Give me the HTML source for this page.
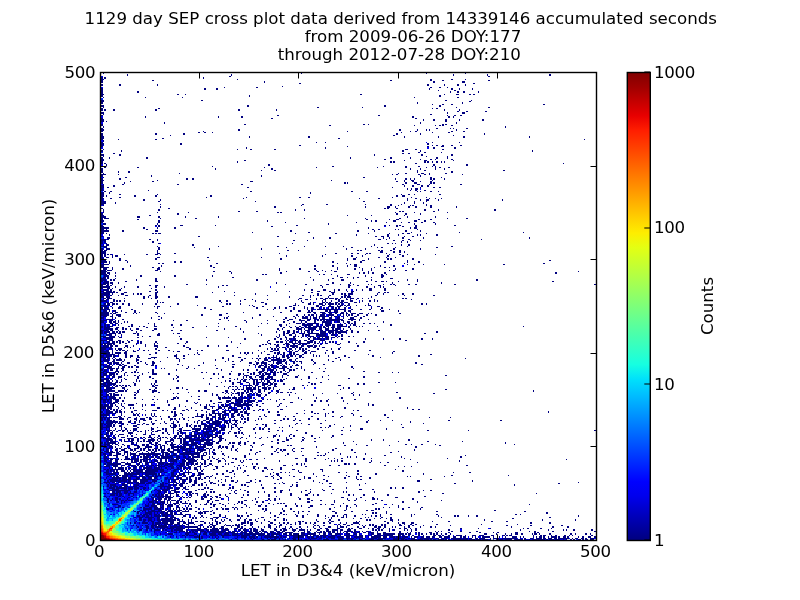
<!DOCTYPE html>
<html><head><meta charset="utf-8"><title>SEP cross plot</title>
<style>html,body{margin:0;padding:0;background:#fff;width:800px;height:600px;overflow:hidden}
#c{position:absolute;left:100px;top:72px}</style></head>
<body>
<svg width="800" height="600" viewBox="0 0 800 600" shape-rendering="crispEdges" style="position:absolute;left:0;top:0"><path fill="#000080" d="M100 72h3v1h-3zM103 73h1v1h-1zM301 73h1v1h-1zM426 73h1v1h-1zM465 73h1v1h-1zM127 74h1v2h-1zM231 74h1v2h-1zM453 74h1v2h-1zM487 74h1v2h-1zM549 74h2v2h-2zM100 76h1v1h-1zM229 76h2v1h-2zM488 76h2v1h-2zM100 77h3v2h-3zM104 77h2v2h-2zM203 77h1v2h-1zM101 79h3v1h-3zM237 79h1v1h-1zM430 79h2v2h-2zM451 79h2v1h-2zM465 79h1v1h-1zM100 80h3v3h-3zM152 80h2v1h-2zM390 80h2v1h-2zM442 80h2v1h-2zM488 80h2v1h-2zM264 81h1v2h-1zM433 81h2v2h-2zM462 81h3v2h-3zM100 83h1v1h-1zM299 83h2v1h-2zM473 83h2v1h-2zM100 84h3v2h-3zM119 84h2v2h-2zM157 84h1v2h-1zM427 84h2v2h-2zM444 84h1v2h-1zM457 84h2v2h-2zM465 84h1v2h-1zM100 86h1v2h-1zM282 86h1v1h-1zM224 87h1v1h-1zM256 87h2v1h-2zM430 87h2v1h-2zM439 87h2v1h-2zM447 87h1v1h-1zM100 88h3v2h-3zM204 88h2v2h-2zM216 88h2v2h-2zM429 88h1v2h-1zM451 88h2v2h-2zM459 88h1v2h-1zM472 88h1v2h-1zM101 90h2v3h-2zM438 90h1v1h-1zM454 90h2v1h-2zM137 91h2v2h-2zM450 91h1v2h-1zM457 91h2v2h-2zM463 91h2v2h-2zM478 91h1v2h-1zM100 93h3v1h-3zM101 94h3v1h-3zM177 94h2v1h-2zM185 94h1v1h-1zM360 94h2v1h-2zM444 94h1v1h-1zM456 94h3v1h-3zM469 94h2v1h-2zM473 94h2v1h-2zM100 95h3v2h-3zM249 95h1v2h-1zM439 95h2v2h-2zM103 97h1v1h-1zM145 97h1v1h-1zM182 97h1v1h-1zM414 97h1v1h-1zM457 97h2v1h-2zM100 100h4v2h-4zM201 100h2v1h-2zM445 100h2v1h-2zM471 100h1v1h-1zM469 101h2v1h-2zM100 102h3v2h-3zM417 102h1v2h-1zM462 102h1v2h-1zM100 104h1v1h-1zM432 104h1v1h-1zM442 104h2v1h-2zM451 104h2v1h-2zM543 104h2v1h-2zM100 105h4v2h-4zM247 105h2v2h-2zM384 105h2v2h-2zM439 105h2v2h-2zM100 107h1v1h-1zM103 107h1v1h-1zM317 107h2v1h-2zM362 107h1v1h-1zM456 107h1v1h-1zM488 107h2v1h-2zM100 108h3v3h-3zM158 108h2v1h-2zM432 108h1v1h-1zM436 108h2v1h-2zM104 109h2v2h-2zM113 109h2v2h-2zM155 109h2v2h-2zM238 109h2v2h-2zM276 109h1v2h-1zM444 109h1v2h-1zM459 109h1v2h-1zM457 111h2v1h-2zM466 111h2v1h-2zM485 111h2v1h-2zM100 112h4v2h-4zM447 112h1v2h-1zM462 112h3v2h-3zM100 114h1v1h-1zM103 114h1v1h-1zM430 114h2v1h-2zM101 115h2v1h-2zM277 115h2v1h-2zM378 115h2v1h-2zM447 115h1v1h-1zM454 115h2v1h-2zM460 115h2v1h-2zM100 116h1v2h-1zM145 116h1v2h-1zM218 116h1v2h-1zM241 116h2v2h-2zM412 116h2v2h-2zM448 116h2v2h-2zM453 116h1v2h-1zM100 118h3v1h-3zM271 118h2v1h-2zM415 118h2v1h-2zM101 119h3v2h-3zM423 119h1v2h-1zM433 119h2v2h-2zM445 119h2v3h-2zM459 119h1v2h-1zM482 119h2v2h-2zM100 121h4v1h-4zM106 121h1v1h-1zM100 122h1v2h-1zM164 122h1v2h-1zM420 122h1v2h-1zM456 122h1v2h-1zM100 124h3v1h-3zM244 124h2v1h-2zM363 124h2v1h-2zM368 124h1v1h-1zM442 124h2v2h-2zM445 124h2v1h-2zM101 125h2v1h-2zM329 125h2v1h-2zM414 125h1v1h-1zM435 125h1v1h-1zM439 125h2v1h-2zM451 125h2v1h-2zM100 126h1v2h-1zM103 126h1v2h-1zM505 126h1v2h-1zM100 128h3v1h-3zM436 128h2v1h-2zM450 128h1v1h-1zM453 128h1v1h-1zM466 128h2v1h-2zM100 129h4v2h-4zM238 129h2v2h-2zM399 129h2v2h-2zM417 129h1v2h-1zM426 129h1v2h-1zM429 129h1v2h-1zM456 129h1v2h-1zM100 131h3v1h-3zM203 131h1v1h-1zM347 131h1v1h-1zM410 131h1v1h-1zM415 131h2v1h-2zM451 131h2v1h-2zM463 131h2v1h-2zM100 132h1v1h-1zM198 132h2v1h-2zM204 132h2v1h-2zM212 132h1v1h-1zM401 132h1v1h-1zM432 132h1v1h-1zM448 132h2v1h-2zM100 133h3v3h-3zM155 133h2v2h-2zM183 133h2v2h-2zM396 133h2v2h-2zM420 133h1v2h-1zM484 133h1v2h-1zM170 135h1v1h-1zM393 135h2v1h-2zM453 135h1v1h-1zM101 136h3v2h-3zM249 136h1v2h-1zM308 136h2v2h-2zM404 136h1v2h-1zM438 136h1v2h-1zM463 136h2v2h-2zM529 136h1v2h-1zM100 138h4v1h-4zM162 138h2v1h-2zM338 138h2v1h-2zM100 139h3v1h-3zM118 139h1v1h-1zM155 139h2v1h-2zM584 139h1v1h-1zM100 140h1v2h-1zM103 140h1v2h-1zM100 142h3v1h-3zM316 142h1v1h-1zM325 142h1v1h-1zM432 142h1v1h-1zM459 142h1v1h-1zM100 143h4v2h-4zM180 143h2v2h-2zM427 143h2v2h-2zM101 145h2v1h-2zM299 145h2v1h-2zM432 145h1v1h-1zM436 145h2v1h-2zM442 145h2v1h-2zM451 145h2v1h-2zM460 145h2v1h-2zM100 146h3v1h-3zM347 146h1v1h-1zM427 146h2v1h-2zM441 146h3v1h-3zM246 147h1v2h-1zM325 147h1v2h-1zM433 147h2v2h-2zM454 147h2v2h-2zM103 149h1v1h-1zM237 149h1v1h-1zM250 149h2v1h-2zM274 149h2v1h-2zM405 149h3v1h-3zM415 149h2v1h-2zM442 149h2v1h-2zM100 150h3v2h-3zM121 150h1v2h-1zM402 150h2v2h-2zM420 150h1v2h-1zM532 150h1v2h-1zM100 152h1v1h-1zM418 152h2v1h-2zM424 152h2v1h-2zM441 152h1v1h-1zM113 153h2v1h-2zM402 153h2v1h-2zM408 153h2v1h-2zM100 154h4v2h-4zM119 154h2v2h-2zM374 154h1v2h-1zM421 154h2v2h-2zM451 154h2v2h-2zM100 156h1v1h-1zM103 156h1v1h-1zM426 156h1v1h-1zM447 156h1v3h-1zM100 157h3v2h-3zM109 157h1v2h-1zM146 157h2v2h-2zM350 157h1v2h-1zM390 157h2v2h-2zM410 157h1v2h-1zM436 157h2v2h-2zM101 159h3v1h-3zM384 159h2v1h-2zM420 159h1v1h-1zM430 159h2v1h-2zM435 159h1v1h-1zM451 159h2v1h-2zM100 160h4v1h-4zM244 160h2v1h-2zM404 160h1v1h-1zM424 160h3v1h-3zM453 160h1v1h-1zM100 161h3v3h-3zM237 161h1v2h-1zM390 161h2v2h-2zM393 161h2v2h-2zM424 161h2v2h-2zM427 161h2v2h-2zM432 161h1v2h-1zM436 161h2v2h-2zM441 161h1v2h-1zM444 161h1v2h-1zM104 163h2v1h-2zM415 163h2v1h-2zM563 163h1v1h-1zM106 164h1v2h-1zM268 164h2v2h-2zM433 164h2v2h-2zM466 164h2v2h-2zM100 166h1v2h-1zM212 166h1v1h-1zM332 166h2v1h-2zM383 166h1v1h-1zM405 166h2v2h-2zM418 166h2v1h-2zM432 166h1v1h-1zM435 166h1v4h-1zM104 167h2v1h-2zM137 167h2v1h-2zM264 167h1v1h-1zM316 167h1v1h-1zM377 167h1v1h-1zM426 167h1v1h-1zM439 167h2v1h-2zM448 167h2v1h-2zM100 168h3v2h-3zM215 168h1v2h-1zM271 168h2v2h-2zM410 168h1v2h-1zM420 168h1v2h-1zM444 168h1v2h-1zM101 170h2v1h-2zM261 170h1v1h-1zM274 170h2v1h-2zM417 170h1v3h-1zM424 170h2v1h-2zM503 170h2v1h-2zM100 171h3v2h-3zM118 171h1v2h-1zM128 171h2v2h-2zM451 171h2v2h-2zM103 173h1v1h-1zM179 173h1v1h-1zM398 173h1v1h-1zM405 173h2v1h-2zM421 173h3v1h-3zM429 173h1v2h-1zM445 173h2v1h-2zM100 174h6v1h-6zM118 174h1v1h-1zM392 174h1v1h-1zM396 174h2v1h-2zM418 174h2v1h-2zM424 174h2v1h-2zM462 174h1v1h-1zM100 175h3v2h-3zM151 175h1v2h-1zM261 175h1v2h-1zM420 175h1v2h-1zM103 177h1v1h-1zM125 177h2v1h-2zM363 177h2v1h-2zM430 177h2v3h-2zM441 177h1v1h-1zM101 178h2v2h-2zM119 178h2v2h-2zM186 178h2v2h-2zM192 178h2v2h-2zM395 178h1v2h-1zM405 178h2v2h-2zM410 178h1v2h-1zM414 178h1v2h-1zM433 178h2v2h-2zM444 178h1v2h-1zM100 180h4v1h-4zM157 180h1v1h-1zM331 180h1v1h-1zM404 180h1v2h-1zM411 180h3v1h-3zM432 180h1v1h-1zM100 181h3v3h-3zM130 181h1v1h-1zM152 181h2v1h-2zM250 181h3v1h-3zM396 181h2v1h-2zM412 181h2v1h-2zM420 181h1v1h-1zM430 181h2v3h-2zM124 182h1v2h-1zM344 182h2v2h-2zM347 182h1v2h-1zM405 182h2v2h-2zM414 182h3v2h-3zM433 182h2v2h-2zM100 184h1v1h-1zM103 184h1v1h-1zM122 184h2v1h-2zM177 184h2v1h-2zM241 184h2v1h-2zM402 184h2v1h-2zM417 184h3v1h-3zM429 184h1v1h-1zM460 184h2v1h-2zM100 185h4v3h-4zM113 185h2v2h-2zM404 185h1v2h-1zM412 185h2v2h-2zM421 185h2v2h-2zM427 185h2v2h-2zM107 187h2v1h-2zM247 187h2v1h-2zM392 187h1v1h-1zM420 187h1v1h-1zM433 187h2v1h-2zM439 187h2v1h-2zM101 188h2v2h-2zM407 188h1v2h-1zM411 188h1v2h-1zM415 188h3v2h-3zM100 190h4v1h-4zM148 190h1v1h-1zM410 190h1v1h-1zM415 190h2v1h-2zM424 190h2v1h-2zM100 191h1v1h-1zM104 191h2v1h-2zM110 191h2v1h-2zM250 191h2v1h-2zM351 191h2v1h-2zM366 191h2v1h-2zM417 191h1v1h-1zM420 191h1v1h-1zM430 191h2v1h-2zM438 191h1v1h-1zM101 192h3v2h-3zM109 192h1v2h-1zM310 192h1v2h-1zM100 194h4v3h-4zM119 194h2v1h-2zM157 194h1v1h-1zM401 194h1v1h-1zM408 194h2v1h-2zM414 194h1v1h-1zM439 194h2v1h-2zM106 195h1v2h-1zM134 195h2v2h-2zM155 195h2v2h-2zM210 195h2v2h-2zM396 195h2v2h-2zM402 195h3v2h-3zM100 197h3v1h-3zM119 197h2v1h-2zM206 197h1v1h-1zM246 197h1v1h-1zM299 197h2v1h-2zM308 197h2v1h-2zM392 197h1v1h-1zM411 197h1v1h-1zM426 197h1v1h-1zM101 198h3v1h-3zM110 198h2v1h-2zM243 198h1v1h-1zM359 198h1v1h-1zM378 198h2v1h-2zM407 198h1v3h-1zM415 198h2v1h-2zM429 198h1v1h-1zM435 198h1v1h-1zM441 198h1v1h-1zM100 199h3v2h-3zM143 199h2v2h-2zM160 199h1v2h-1zM420 199h1v2h-1zM426 199h3v2h-3zM438 199h1v2h-1zM502 199h1v2h-1zM101 201h5v1h-5zM158 201h2v1h-2zM255 201h1v1h-1zM363 201h2v1h-2zM414 201h1v3h-1zM426 201h1v1h-1zM100 202h6v2h-6zM115 202h1v2h-1zM404 202h1v2h-1zM423 202h1v2h-1zM101 204h3v1h-3zM160 204h1v1h-1zM302 204h2v1h-2zM326 204h2v1h-2zM365 204h1v1h-1zM390 204h2v2h-2zM401 204h1v1h-1zM426 204h1v2h-1zM100 205h1v3h-1zM103 205h1v1h-1zM301 205h1v1h-1zM398 205h1v1h-1zM410 205h1v1h-1zM412 205h2v1h-2zM430 205h2v3h-2zM160 206h1v2h-1zM274 206h2v2h-2zM365 206h1v2h-1zM387 206h3v2h-3zM395 206h1v2h-1zM408 206h2v2h-2zM415 206h2v2h-2zM456 206h1v2h-1zM100 208h3v1h-3zM168 208h2v1h-2zM384 208h2v1h-2zM387 208h2v1h-2zM396 208h2v1h-2zM100 209h1v4h-1zM103 209h1v4h-1zM158 209h2v2h-2zM295 209h1v2h-1zM304 209h1v2h-1zM424 209h2v2h-2zM438 209h1v2h-1zM494 209h2v2h-2zM238 211h2v1h-2zM256 211h2v1h-2zM399 211h2v1h-2zM402 211h2v1h-2zM433 211h2v1h-2zM157 212h1v1h-1zM188 212h1v1h-1zM277 212h2v1h-2zM280 212h2v1h-2zM395 212h1v1h-1zM414 212h1v1h-1zM447 212h1v1h-1zM100 213h3v2h-3zM177 213h2v2h-2zM396 213h2v2h-2zM405 213h2v2h-2zM420 213h1v2h-1zM101 215h3v1h-3zM149 215h2v1h-2zM347 215h1v1h-1zM371 215h1v1h-1zM404 215h1v1h-1zM100 216h6v2h-6zM137 216h3v2h-3zM158 216h2v2h-2zM185 216h1v2h-1zM218 216h1v2h-1zM407 216h1v2h-1zM435 216h1v2h-1zM101 218h2v2h-2zM104 218h5v1h-5zM160 218h1v1h-1zM195 218h2v1h-2zM304 218h1v1h-1zM365 218h1v1h-1zM399 218h2v1h-2zM447 218h1v1h-1zM466 218h2v1h-2zM137 219h2v1h-2zM366 219h2v1h-2zM389 219h1v1h-1zM396 219h3v1h-3zM418 219h2v1h-2zM430 219h2v1h-2zM101 220h3v2h-3zM158 220h2v3h-2zM267 220h1v2h-1zM371 220h1v2h-1zM375 220h2v2h-2zM393 220h3v2h-3zM414 220h3v2h-3zM424 220h2v2h-2zM100 222h3v1h-3zM285 222h1v1h-1zM356 222h1v1h-1zM386 222h1v1h-1zM401 222h1v1h-1zM408 222h2v1h-2zM421 222h2v1h-2zM433 222h2v1h-2zM100 223h1v2h-1zM103 223h3v2h-3zM157 223h1v2h-1zM328 223h1v2h-1zM414 223h1v2h-1zM435 223h1v2h-1zM101 225h2v1h-2zM155 225h2v1h-2zM158 225h2v2h-2zM180 225h3v1h-3zM215 225h1v1h-1zM296 225h2v1h-2zM384 225h2v1h-2zM389 225h1v1h-1zM396 225h2v2h-2zM399 225h2v1h-2zM415 225h2v2h-2zM454 225h2v1h-2zM100 226h4v1h-4zM271 226h2v1h-2zM402 226h2v1h-2zM101 227h8v2h-8zM143 227h2v2h-2zM157 227h1v2h-1zM174 227h2v2h-2zM368 227h1v2h-1zM410 227h1v2h-1zM414 227h3v2h-3zM101 229h3v1h-3zM106 229h1v1h-1zM146 229h2v1h-2zM372 229h2v1h-2zM378 229h2v1h-2zM395 229h1v1h-1zM398 229h1v1h-1zM417 229h1v1h-1zM100 230h9v2h-9zM122 230h2v2h-2zM155 230h3v2h-3zM290 230h2v2h-2zM357 230h2v2h-2zM374 230h1v2h-1zM405 230h2v2h-2zM420 230h1v2h-1zM100 232h4v2h-4zM252 232h1v1h-1zM308 232h2v1h-2zM411 232h1v1h-1zM459 232h1v1h-1zM523 232h1v1h-1zM106 233h1v1h-1zM152 233h2v1h-2zM155 233h2v1h-2zM158 233h3v1h-3zM295 233h1v1h-1zM335 233h2v1h-2zM368 233h1v1h-1zM389 233h1v1h-1zM402 233h2v1h-2zM407 233h3v1h-3zM426 233h1v1h-1zM109 234h1v2h-1zM356 234h1v2h-1zM387 234h2v3h-2zM398 234h1v2h-1zM417 234h1v2h-1zM420 234h1v2h-1zM436 234h2v2h-2zM100 236h3v1h-3zM198 236h2v1h-2zM277 236h2v1h-2zM375 236h2v1h-2zM381 236h3v1h-3zM404 236h1v1h-1zM412 236h2v1h-2zM100 237h1v2h-1zM107 237h3v2h-3zM313 237h1v2h-1zM329 237h2v2h-2zM383 237h1v2h-1zM389 237h1v2h-1zM402 237h2v2h-2zM423 237h1v2h-1zM529 237h1v2h-1zM100 239h6v2h-6zM107 239h2v1h-2zM149 239h2v1h-2zM157 239h1v2h-1zM378 239h3v1h-3zM386 239h1v1h-1zM408 239h2v1h-2zM481 239h1v1h-1zM293 240h2v1h-2zM307 240h1v1h-1zM393 240h2v1h-2zM402 240h2v1h-2zM410 240h1v1h-1zM420 240h1v1h-1zM100 241h3v2h-3zM104 241h2v2h-2zM152 241h2v2h-2zM401 241h1v2h-1zM407 241h1v2h-1zM101 243h2v1h-2zM106 243h1v1h-1zM158 243h2v1h-2zM292 243h1v1h-1zM387 243h2v1h-2zM392 243h1v1h-1zM395 243h1v1h-1zM100 244h1v2h-1zM103 244h1v2h-1zM106 244h3v2h-3zM192 244h2v2h-2zM374 244h1v2h-1zM401 244h1v2h-1zM408 244h2v2h-2zM100 246h7v1h-7zM157 246h1v1h-1zM218 246h1v1h-1zM277 246h2v1h-2zM304 246h1v1h-1zM325 246h1v1h-1zM343 246h1v1h-1zM371 246h1v1h-1zM407 246h1v1h-1zM451 246h2v1h-2zM104 247h3v1h-3zM158 247h2v3h-2zM194 247h1v1h-1zM286 247h1v1h-1zM351 247h2v1h-2zM377 247h1v1h-1zM381 247h2v1h-2zM395 247h1v1h-1zM436 247h2v1h-2zM100 248h3v3h-3zM106 248h4v2h-4zM209 248h1v2h-1zM261 248h1v2h-1zM346 248h1v2h-1zM365 248h1v2h-1zM393 248h2v2h-2zM420 248h1v2h-1zM104 250h3v1h-3zM157 250h1v3h-1zM287 250h2v1h-2zM298 250h1v1h-1zM357 250h2v1h-2zM360 250h2v1h-2zM378 250h2v1h-2zM381 250h2v1h-2zM390 250h2v1h-2zM399 250h2v3h-2zM100 251h6v2h-6zM380 251h3v2h-3zM393 251h2v2h-2zM404 251h1v2h-1zM101 253h5v1h-5zM157 253h3v1h-3zM174 253h2v1h-2zM279 253h1v1h-1zM335 253h2v1h-2zM351 253h2v1h-2zM357 253h2v1h-2zM366 253h2v1h-2zM369 253h2v1h-2zM386 253h1v1h-1zM101 254h2v1h-2zM104 254h2v3h-2zM107 254h2v1h-2zM110 254h2v1h-2zM124 254h1v1h-1zM146 254h2v1h-2zM155 254h3v1h-3zM160 254h1v1h-1zM325 254h1v1h-1zM365 254h1v1h-1zM389 254h1v1h-1zM399 254h2v1h-2zM407 254h1v1h-1zM435 254h1v1h-1zM100 255h3v2h-3zM112 255h1v3h-1zM115 255h3v2h-3zM286 255h1v2h-1zM322 255h1v2h-1zM351 255h2v2h-2zM362 255h1v2h-1zM387 255h2v2h-2zM402 255h2v2h-2zM101 257h2v1h-2zM106 257h3v1h-3zM157 257h3v1h-3zM207 257h2v1h-2zM261 257h1v1h-1zM356 257h1v1h-1zM378 257h2v1h-2zM386 257h1v1h-1zM395 257h1v1h-1zM100 258h4v2h-4zM119 258h2v3h-2zM155 258h2v2h-2zM280 258h2v2h-2zM347 258h1v3h-1zM353 258h3v2h-3zM368 258h1v2h-1zM387 258h2v2h-2zM390 258h2v2h-2zM412 258h2v2h-2zM101 260h5v1h-5zM125 260h2v1h-2zM209 260h1v1h-1zM362 260h3v1h-3zM407 260h1v3h-1zM549 260h2v1h-2zM100 261h7v2h-7zM109 261h1v3h-1zM127 261h1v2h-1zM174 261h2v2h-2zM180 261h2v2h-2zM332 261h2v2h-2zM360 261h2v2h-2zM384 261h2v2h-2zM418 261h2v2h-2zM103 263h1v1h-1zM158 263h2v1h-2zM162 263h2v1h-2zM216 263h2v1h-2zM337 263h1v1h-1zM346 263h1v1h-1zM404 263h1v1h-1zM543 263h2v1h-2zM101 264h8v1h-8zM350 264h1v1h-1zM354 264h3v3h-3zM407 264h1v1h-1zM414 264h1v1h-1zM423 264h1v1h-1zM444 264h1v1h-1zM503 264h2v1h-2zM100 265h4v2h-4zM130 265h1v2h-1zM161 265h1v2h-1zM210 265h2v2h-2zM314 265h2v2h-2zM332 265h2v2h-2zM347 265h1v2h-1zM380 265h1v2h-1zM393 265h2v2h-2zM101 267h8v1h-8zM112 267h1v3h-1zM152 267h2v1h-2zM158 267h2v1h-2zM213 267h2v1h-2zM337 267h1v3h-1zM359 267h1v1h-1zM374 267h1v1h-1zM384 267h2v1h-2zM389 267h1v1h-1zM100 268h1v2h-1zM103 268h4v2h-4zM122 268h2v2h-2zM157 268h3v2h-3zM279 268h1v3h-1zM299 268h2v2h-2zM314 268h2v2h-2zM354 268h2v2h-2zM362 268h1v3h-1zM371 268h1v3h-1zM395 268h1v2h-1zM412 268h2v2h-2zM100 270h6v1h-6zM107 270h5v1h-5zM155 270h3v1h-3zM316 270h1v1h-1zM322 270h1v1h-1zM331 270h1v1h-1zM389 270h1v1h-1zM393 270h2v1h-2zM405 270h2v1h-2zM101 271h6v1h-6zM160 271h1v1h-1zM213 271h2v1h-2zM229 271h2v1h-2zM286 271h1v1h-1zM308 271h2v1h-2zM317 271h2v1h-2zM325 271h1v1h-1zM334 271h3v1h-3zM368 271h1v3h-1zM578 271h1v1h-1zM101 272h5v2h-5zM107 272h3v2h-3zM115 272h1v2h-1zM231 272h1v2h-1zM280 272h2v2h-2zM359 272h1v2h-1zM363 272h2v2h-2zM372 272h2v2h-2zM384 272h2v2h-2zM555 272h2v2h-2zM100 274h7v1h-7zM109 274h1v1h-1zM262 274h2v1h-2zM265 274h2v1h-2zM319 274h1v1h-1zM323 274h2v1h-2zM331 274h1v1h-1zM347 274h3v1h-3zM381 274h2v1h-2zM386 274h1v1h-1zM100 275h1v2h-1zM104 275h5v2h-5zM115 275h1v2h-1zM140 275h2v2h-2zM174 275h2v2h-2zM212 275h1v2h-1zM337 275h1v2h-1zM365 275h1v2h-1zM381 275h3v2h-3zM103 277h3v1h-3zM107 277h2v2h-2zM232 277h2v1h-2zM310 277h1v1h-1zM340 277h3v1h-3zM347 277h1v1h-1zM353 277h1v2h-1zM357 277h2v1h-2zM371 277h1v1h-1zM381 277h2v1h-2zM101 278h5v3h-5zM115 278h1v1h-1zM155 278h2v3h-2zM332 278h2v1h-2zM390 278h3v1h-3zM110 279h2v2h-2zM113 279h2v2h-2zM136 279h1v2h-1zM206 279h1v2h-1zM256 279h2v2h-2zM313 279h1v2h-1zM328 279h1v2h-1zM341 279h3v2h-3zM371 279h1v2h-1zM407 279h1v2h-1zM417 279h1v3h-1zM476 279h2v2h-2zM100 281h3v1h-3zM104 281h5v1h-5zM125 281h2v1h-2zM155 281h3v1h-3zM366 281h2v1h-2zM375 281h2v1h-2zM381 281h3v1h-3zM386 281h1v1h-1zM398 281h1v1h-1zM552 281h2v1h-2zM103 282h6v2h-6zM110 282h3v2h-3zM118 282h1v2h-1zM276 282h1v2h-1zM332 282h2v2h-2zM350 282h1v2h-1zM392 282h1v2h-1zM441 282h1v2h-1zM100 284h6v1h-6zM107 284h2v1h-2zM112 284h1v1h-1zM186 284h2v1h-2zM206 284h1v1h-1zM285 284h1v1h-1zM305 284h2v1h-2zM326 284h3v1h-3zM340 284h1v1h-1zM348 284h2v1h-2zM353 284h1v1h-1zM368 284h1v1h-1zM371 284h1v1h-1zM383 284h1v1h-1zM390 284h2v1h-2zM393 284h2v1h-2zM408 284h2v1h-2zM415 284h2v1h-2zM454 284h2v1h-2zM594 284h2v1h-2zM101 285h2v1h-2zM106 285h3v1h-3zM110 285h2v1h-2zM149 285h2v1h-2zM155 285h3v1h-3zM222 285h2v1h-2zM226 285h2v1h-2zM320 285h2v1h-2zM348 285h3v1h-3zM357 285h2v1h-2zM378 285h3v1h-3zM395 285h1v1h-1zM100 286h10v2h-10zM115 286h1v2h-1zM124 286h1v2h-1zM137 286h2v2h-2zM155 286h2v2h-2zM164 286h1v2h-1zM218 286h1v2h-1zM322 286h1v2h-1zM348 286h2v2h-2zM366 286h2v2h-2zM374 286h1v2h-1zM380 286h1v2h-1zM383 286h1v2h-1zM100 288h3v1h-3zM107 288h3v1h-3zM112 288h1v1h-1zM121 288h1v1h-1zM151 288h1v1h-1zM369 288h3v3h-3zM384 288h2v3h-2zM100 289h1v2h-1zM103 289h6v2h-6zM110 289h2v2h-2zM119 289h2v2h-2zM155 289h2v2h-2zM304 289h1v2h-1zM311 289h2v2h-2zM323 289h3v2h-3zM334 289h1v3h-1zM338 289h2v2h-2zM346 289h1v2h-1zM356 289h1v2h-1zM362 289h1v2h-1zM100 291h4v1h-4zM106 291h6v1h-6zM113 291h2v1h-2zM149 291h2v1h-2zM157 291h1v1h-1zM224 291h1v1h-1zM276 291h1v1h-1zM289 291h1v1h-1zM317 291h3v1h-3zM329 291h2v1h-2zM347 291h1v1h-1zM351 291h3v1h-3zM100 292h1v1h-1zM103 292h12v1h-12zM116 292h2v1h-2zM124 292h3v1h-3zM155 292h3v1h-3zM212 292h1v1h-1zM234 292h1v1h-1zM311 292h2v1h-2zM331 292h4v1h-4zM351 292h2v1h-2zM378 292h2v1h-2zM384 292h2v1h-2zM387 292h2v1h-2zM101 293h9v2h-9zM112 293h1v2h-1zM121 293h3v2h-3zM133 293h1v2h-1zM137 293h2v2h-2zM140 293h2v2h-2zM155 293h2v3h-2zM255 293h1v2h-1zM317 293h2v3h-2zM332 293h2v2h-2zM341 293h2v2h-2zM344 293h2v2h-2zM348 293h5v2h-5zM377 293h1v2h-1zM383 293h1v2h-1zM402 293h2v2h-2zM412 293h2v2h-2zM100 295h3v1h-3zM104 295h5v1h-5zM110 295h2v1h-2zM118 295h1v1h-1zM125 295h3v1h-3zM149 295h2v1h-2zM234 295h1v1h-1zM267 295h1v1h-1zM302 295h2v1h-2zM310 295h1v3h-1zM313 295h1v1h-1zM320 295h2v1h-2zM329 295h2v1h-2zM344 295h3v1h-3zM348 295h2v1h-2zM375 295h2v1h-2zM398 295h1v1h-1zM404 295h1v1h-1zM433 295h2v1h-2zM100 296h4v2h-4zM106 296h4v2h-4zM143 296h2v3h-2zM148 296h1v2h-1zM155 296h3v2h-3zM168 296h2v2h-2zM195 296h3v2h-3zM289 296h1v2h-1zM328 296h1v2h-1zM341 296h2v2h-2zM344 296h2v2h-2zM347 296h4v2h-4zM371 296h1v2h-1zM100 298h1v1h-1zM103 298h3v1h-3zM107 298h5v1h-5zM124 298h1v1h-1zM151 298h1v1h-1zM155 298h2v1h-2zM299 298h3v1h-3zM316 298h1v2h-1zM320 298h3v1h-3zM325 298h3v1h-3zM329 298h5v1h-5zM335 298h3v1h-3zM340 298h1v1h-1zM346 298h1v1h-1zM350 298h4v1h-4zM357 298h2v1h-2zM362 298h1v1h-1zM368 298h1v1h-1zM402 298h2v1h-2zM405 298h2v1h-2zM103 299h1v1h-1zM106 299h3v1h-3zM113 299h2v3h-2zM244 299h2v1h-2zM252 299h1v1h-1zM267 299h1v1h-1zM298 299h1v1h-1zM305 299h3v1h-3zM310 299h1v1h-1zM323 299h3v1h-3zM335 299h2v1h-2zM338 299h2v3h-2zM346 299h2v1h-2zM350 299h1v1h-1zM356 299h1v1h-1zM374 299h1v3h-1zM411 299h1v1h-1zM100 300h7v2h-7zM116 300h2v2h-2zM119 300h2v2h-2zM124 300h1v2h-1zM157 300h1v3h-1zM219 300h2v2h-2zM226 300h2v2h-2zM240 300h1v2h-1zM255 300h1v2h-1zM301 300h1v2h-1zM322 300h1v2h-1zM325 300h1v2h-1zM331 300h1v2h-1zM341 300h3v2h-3zM350 300h3v2h-3zM362 300h1v2h-1zM369 300h2v2h-2zM377 300h1v2h-1zM100 302h1v3h-1zM106 302h3v1h-3zM110 302h3v1h-3zM160 302h1v1h-1zM162 302h2v1h-2zM221 302h1v1h-1zM261 302h3v1h-3zM302 302h2v1h-2zM310 302h1v1h-1zM313 302h1v3h-1zM322 302h3v1h-3zM326 302h2v1h-2zM329 302h2v1h-2zM335 302h3v1h-3zM340 302h3v1h-3zM344 302h4v1h-4zM354 302h3v1h-3zM359 302h1v1h-1zM104 303h2v2h-2zM107 303h3v2h-3zM112 303h3v2h-3zM116 303h2v2h-2zM122 303h2v2h-2zM128 303h2v3h-2zM142 303h1v2h-1zM155 303h2v2h-2zM177 303h2v2h-2zM226 303h2v2h-2zM229 303h2v2h-2zM240 303h1v2h-1zM265 303h2v2h-2zM295 303h1v2h-1zM308 303h3v2h-3zM319 303h4v2h-4zM325 303h1v2h-1zM328 303h6v2h-6zM335 303h2v2h-2zM338 303h2v2h-2zM341 303h2v2h-2zM348 303h2v2h-2zM368 303h1v2h-1zM421 303h2v2h-2zM426 303h1v2h-1zM101 305h9v1h-9zM112 305h1v1h-1zM197 305h1v1h-1zM249 305h1v1h-1zM252 305h1v1h-1zM293 305h3v1h-3zM298 305h1v1h-1zM316 305h3v2h-3zM322 305h3v1h-3zM329 305h2v1h-2zM337 305h1v1h-1zM340 305h3v1h-3zM344 305h2v1h-2zM347 305h3v1h-3zM356 305h1v1h-1zM365 305h1v1h-1zM368 305h3v1h-3zM100 306h1v1h-1zM103 306h4v1h-4zM119 306h2v1h-2zM154 306h1v1h-1zM157 306h3v1h-3zM170 306h1v1h-1zM222 306h2v1h-2zM253 306h2v1h-2zM262 306h2v1h-2zM279 306h1v3h-1zM289 306h3v1h-3zM304 306h1v3h-1zM320 306h2v1h-2zM328 306h6v1h-6zM337 306h4v1h-4zM346 306h1v1h-1zM350 306h1v3h-1zM377 306h3v1h-3zM101 307h2v2h-2zM104 307h5v2h-5zM112 307h1v2h-1zM118 307h3v2h-3zM157 307h1v2h-1zM204 307h2v2h-2zM256 307h2v2h-2zM274 307h2v2h-2zM285 307h2v2h-2zM293 307h2v3h-2zM307 307h1v3h-1zM311 307h3v3h-3zM319 307h1v2h-1zM323 307h2v2h-2zM328 307h1v2h-1zM332 307h2v2h-2zM335 307h2v2h-2zM338 307h2v2h-2zM344 307h2v2h-2zM371 307h1v2h-1zM381 307h2v2h-2zM100 309h6v1h-6zM107 309h3v1h-3zM131 309h2v1h-2zM210 309h2v1h-2zM267 309h1v1h-1zM273 309h1v1h-1zM317 309h21v1h-21zM340 309h6v1h-6zM351 309h2v1h-2zM360 309h2v1h-2zM369 309h2v1h-2zM380 309h1v1h-1zM389 309h1v1h-1zM103 310h4v2h-4zM109 310h1v2h-1zM113 310h3v2h-3zM121 310h1v2h-1zM134 310h2v3h-2zM290 310h2v2h-2zM298 310h3v2h-3zM308 310h2v2h-2zM311 310h2v2h-2zM325 310h3v2h-3zM329 310h2v2h-2zM334 310h4v3h-4zM344 310h2v2h-2zM348 310h3v2h-3zM381 310h3v2h-3zM398 310h1v2h-1zM101 312h8v1h-8zM112 312h1v1h-1zM115 312h3v1h-3zM125 312h2v1h-2zM139 312h1v1h-1zM155 312h2v1h-2zM243 312h1v1h-1zM280 312h2v1h-2zM307 312h4v1h-4zM313 312h3v1h-3zM320 312h5v1h-5zM328 312h4v1h-4zM341 312h3v1h-3zM346 312h1v1h-1zM350 312h1v1h-1zM100 313h9v1h-9zM110 313h2v1h-2zM113 313h3v1h-3zM133 313h1v1h-1zM136 313h1v1h-1zM157 313h1v1h-1zM164 313h1v1h-1zM226 313h2v1h-2zM314 313h2v1h-2zM322 313h3v1h-3zM329 313h3v1h-3zM335 313h2v1h-2zM340 313h4v1h-4zM346 313h2v1h-2zM351 313h5v1h-5zM359 313h4v1h-4zM368 313h1v1h-1zM371 313h1v1h-1zM399 313h2v1h-2zM101 314h8v2h-8zM112 314h1v2h-1zM116 314h5v2h-5zM201 314h2v2h-2zM219 314h3v2h-3zM259 314h2v2h-2zM296 314h2v2h-2zM304 314h1v2h-1zM308 314h2v2h-2zM311 314h3v2h-3zM316 314h1v3h-1zM320 314h5v2h-5zM328 314h6v2h-6zM337 314h1v2h-1zM340 314h1v2h-1zM343 314h1v5h-1zM346 314h1v2h-1zM348 314h2v2h-2zM351 314h2v2h-2zM357 314h2v2h-2zM366 314h2v2h-2zM375 314h2v2h-2zM103 316h4v1h-4zM110 316h3v1h-3zM118 316h3v1h-3zM158 316h2v1h-2zM228 316h1v1h-1zM273 316h1v1h-1zM293 316h2v1h-2zM298 316h1v1h-1zM302 316h2v1h-2zM305 316h2v1h-2zM310 316h1v3h-1zM313 316h1v1h-1zM319 316h7v1h-7zM328 316h1v1h-1zM331 316h1v1h-1zM334 316h3v1h-3zM338 316h2v1h-2zM347 316h1v1h-1zM354 316h3v1h-3zM363 316h2v1h-2zM101 317h3v2h-3zM112 317h1v2h-1zM115 317h1v2h-1zM151 317h1v2h-1zM161 317h1v2h-1zM224 317h1v2h-1zM226 317h2v2h-2zM252 317h1v2h-1zM285 317h2v2h-2zM295 317h1v2h-1zM302 317h6v2h-6zM313 317h4v2h-4zM319 317h1v2h-1zM322 317h3v2h-3zM329 317h3v2h-3zM337 317h3v2h-3zM350 317h4v2h-4zM360 317h2v2h-2zM103 319h1v1h-1zM106 319h7v1h-7zM122 319h2v1h-2zM158 319h2v1h-2zM219 319h2v1h-2zM283 319h2v1h-2zM289 319h4v1h-4zM299 319h2v1h-2zM307 319h4v1h-4zM314 319h2v4h-2zM317 319h2v2h-2zM320 319h8v1h-8zM329 319h14v1h-14zM348 319h8v1h-8zM359 319h1v2h-1zM368 319h1v1h-1zM100 320h7v1h-7zM110 320h3v1h-3zM115 320h1v1h-1zM118 320h1v3h-1zM173 320h1v1h-1zM186 320h2v1h-2zM228 320h1v1h-1zM244 320h2v1h-2zM267 320h1v1h-1zM276 320h1v1h-1zM287 320h2v1h-2zM299 320h6v1h-6zM307 320h3v1h-3zM320 320h2v1h-2zM323 320h2v1h-2zM326 320h14v1h-14zM341 320h3v1h-3zM351 320h2v1h-2zM101 321h3v2h-3zM109 321h3v2h-3zM113 321h3v2h-3zM124 321h1v2h-1zM127 321h1v2h-1zM246 321h1v2h-1zM283 321h2v2h-2zM293 321h2v2h-2zM301 321h1v2h-1zM305 321h2v2h-2zM322 321h9v2h-9zM334 321h1v2h-1zM337 321h3v2h-3zM343 321h1v2h-1zM347 321h3v2h-3zM354 321h2v3h-2zM383 321h1v2h-1zM104 323h2v4h-2zM110 323h3v1h-3zM115 323h3v1h-3zM121 323h1v1h-1zM148 323h1v1h-1zM154 323h1v3h-1zM218 323h1v1h-1zM261 323h1v1h-1zM267 323h1v1h-1zM289 323h1v1h-1zM296 323h5v1h-5zM302 323h3v1h-3zM308 323h11v1h-11zM322 323h1v3h-1zM325 323h7v1h-7zM344 323h2v1h-2zM348 323h2v1h-2zM351 323h2v1h-2zM363 323h2v1h-2zM369 323h2v1h-2zM374 323h1v1h-1zM100 324h1v2h-1zM107 324h2v2h-2zM112 324h1v2h-1zM115 324h1v2h-1zM118 324h1v2h-1zM131 324h2v3h-2zM171 324h2v2h-2zM180 324h2v2h-2zM279 324h3v2h-3zM286 324h1v2h-1zM302 324h11v2h-11zM317 324h2v2h-2zM325 324h6v2h-6zM332 324h3v3h-3zM337 324h6v2h-6zM350 324h1v2h-1zM353 324h3v2h-3zM390 324h2v2h-2zM101 326h2v1h-2zM107 326h6v1h-6zM128 326h2v1h-2zM139 326h1v1h-1zM143 326h2v1h-2zM154 326h3v1h-3zM206 326h1v1h-1zM218 326h1v1h-1zM235 326h2v1h-2zM258 326h1v1h-1zM280 326h2v1h-2zM289 326h1v1h-1zM295 326h1v1h-1zM299 326h2v1h-2zM305 326h2v1h-2zM308 326h3v1h-3zM313 326h9v1h-9zM323 326h2v1h-2zM326 326h3v1h-3zM337 326h10v1h-10zM348 326h2v2h-2zM356 326h1v1h-1zM359 326h1v1h-1zM362 326h1v1h-1zM377 326h1v1h-1zM523 326h1v1h-1zM100 327h3v1h-3zM104 327h6v1h-6zM116 327h3v1h-3zM122 327h2v3h-2zM146 327h2v1h-2zM173 327h1v1h-1zM192 327h2v1h-2zM283 327h2v1h-2zM290 327h2v1h-2zM296 327h3v1h-3zM301 327h3v1h-3zM305 327h12v1h-12zM319 327h3v3h-3zM323 327h3v1h-3zM328 327h1v1h-1zM331 327h4v1h-4zM337 327h4v1h-4zM104 328h9v2h-9zM115 328h3v2h-3zM125 328h2v2h-2zM130 328h1v2h-1zM136 328h3v2h-3zM154 328h3v2h-3zM224 328h1v2h-1zM240 328h1v2h-1zM277 328h2v2h-2zM282 328h1v2h-1zM296 328h6v2h-6zM304 328h1v2h-1zM308 328h8v2h-8zM325 328h4v2h-4zM332 328h2v2h-2zM335 328h5v2h-5zM343 328h1v2h-1zM350 328h1v2h-1zM100 330h4v1h-4zM106 330h3v1h-3zM110 330h3v1h-3zM118 330h1v1h-1zM131 330h2v1h-2zM140 330h2v1h-2zM152 330h2v1h-2zM171 330h2v1h-2zM180 330h2v1h-2zM216 330h2v1h-2zM279 330h1v1h-1zM287 330h3v3h-3zM293 330h2v3h-2zM298 330h1v1h-1zM301 330h1v3h-1zM305 330h5v1h-5zM311 330h3v1h-3zM316 330h1v1h-1zM320 330h3v1h-3zM326 330h12v1h-12zM340 330h3v1h-3zM346 330h2v1h-2zM351 330h2v3h-2zM368 330h1v1h-1zM378 330h2v1h-2zM101 331h2v2h-2zM104 331h6v2h-6zM112 331h3v2h-3zM116 331h2v2h-2zM119 331h2v2h-2zM122 331h3v2h-3zM136 331h1v2h-1zM243 331h1v2h-1zM276 331h1v2h-1zM283 331h2v5h-2zM296 331h2v2h-2zM304 331h1v2h-1zM307 331h3v2h-3zM311 331h2v2h-2zM320 331h6v3h-6zM328 331h6v2h-6zM335 331h12v2h-12zM357 331h2v2h-2zM436 331h2v2h-2zM100 333h3v1h-3zM104 333h2v1h-2zM109 333h7v1h-7zM118 333h3v1h-3zM133 333h3v1h-3zM137 333h2v3h-2zM158 333h2v1h-2zM173 333h1v1h-1zM177 333h3v1h-3zM258 333h1v1h-1zM286 333h3v1h-3zM292 333h3v1h-3zM299 333h2v1h-2zM302 333h3v1h-3zM308 333h11v1h-11zM329 333h2v1h-2zM332 333h2v1h-2zM335 333h2v1h-2zM338 333h3v1h-3zM424 333h2v1h-2zM100 334h1v2h-1zM106 334h6v2h-6zM115 334h1v2h-1zM121 334h1v2h-1zM157 334h3v2h-3zM261 334h1v2h-1zM279 334h1v3h-1zM289 334h3v2h-3zM295 334h1v2h-1zM302 334h2v3h-2zM305 334h5v2h-5zM316 334h10v2h-10zM331 334h4v2h-4zM337 334h1v2h-1zM341 334h2v3h-2zM101 336h5v1h-5zM110 336h5v1h-5zM118 336h1v1h-1zM142 336h1v1h-1zM149 336h2v1h-2zM179 336h1v1h-1zM276 336h1v1h-1zM285 336h1v1h-1zM293 336h3v1h-3zM298 336h1v1h-1zM308 336h6v1h-6zM316 336h1v1h-1zM319 336h10v1h-10zM335 336h2v1h-2zM338 336h2v1h-2zM348 336h2v1h-2zM353 336h1v1h-1zM100 337h1v1h-1zM103 337h12v1h-12zM119 337h3v1h-3zM137 337h2v1h-2zM206 337h1v1h-1zM228 337h1v1h-1zM277 337h2v1h-2zM285 337h2v1h-2zM293 337h2v1h-2zM301 337h1v1h-1zM307 337h1v1h-1zM310 337h1v1h-1zM313 337h3v3h-3zM317 337h3v1h-3zM322 337h1v1h-1zM325 337h4v1h-4zM331 337h4v1h-4zM337 337h1v1h-1zM106 338h7v2h-7zM180 338h2v2h-2zM244 338h2v2h-2zM274 338h2v2h-2zM280 338h2v2h-2zM286 338h1v2h-1zM289 338h3v2h-3zM293 338h3v2h-3zM308 338h2v2h-2zM317 338h5v2h-5zM323 338h2v2h-2zM326 338h3v2h-3zM341 338h2v2h-2zM365 338h1v2h-1zM383 338h1v2h-1zM399 338h2v2h-2zM421 338h2v2h-2zM432 338h1v2h-1zM101 340h6v1h-6zM109 340h4v1h-4zM118 340h3v1h-3zM127 340h1v1h-1zM131 340h2v1h-2zM268 340h2v1h-2zM285 340h1v1h-1zM287 340h2v1h-2zM292 340h6v1h-6zM299 340h2v1h-2zM304 340h3v1h-3zM310 340h4v1h-4zM320 340h5v1h-5zM405 340h2v1h-2zM103 341h1v2h-1zM107 341h3v2h-3zM112 341h3v2h-3zM116 341h2v2h-2zM119 341h2v3h-2zM122 341h2v2h-2zM128 341h2v2h-2zM137 341h2v2h-2zM140 341h2v3h-2zM155 341h2v2h-2zM186 341h2v2h-2zM231 341h1v2h-1zM267 341h1v2h-1zM276 341h3v2h-3zM280 341h3v2h-3zM286 341h1v2h-1zM289 341h4v2h-4zM295 341h1v2h-1zM298 341h3v2h-3zM307 341h6v2h-6zM314 341h2v3h-2zM319 341h1v2h-1zM325 341h1v2h-1zM329 341h2v2h-2zM332 341h2v2h-2zM348 341h2v2h-2zM363 341h2v2h-2zM103 343h12v1h-12zM125 343h2v1h-2zM136 343h1v2h-1zM154 343h1v2h-1zM157 343h1v1h-1zM177 343h2v1h-2zM185 343h1v1h-1zM240 343h1v1h-1zM268 343h3v1h-3zM285 343h4v1h-4zM292 343h6v1h-6zM299 343h11v1h-11zM317 343h2v1h-2zM322 343h1v1h-1zM325 343h3v1h-3zM335 343h2v1h-2zM340 343h1v1h-1zM356 343h1v1h-1zM101 344h2v1h-2zM104 344h2v1h-2zM107 344h5v1h-5zM113 344h2v1h-2zM145 344h1v3h-1zM262 344h2v1h-2zM265 344h2v1h-2zM270 344h1v1h-1zM274 344h2v1h-2zM277 344h2v1h-2zM283 344h2v1h-2zM286 344h4v1h-4zM293 344h2v1h-2zM298 344h3v1h-3zM302 344h2v1h-2zM305 344h2v1h-2zM313 344h1v1h-1zM320 344h2v1h-2zM337 344h3v1h-3zM100 345h1v2h-1zM103 345h6v2h-6zM110 345h3v2h-3zM115 345h3v2h-3zM125 345h3v2h-3zM133 345h1v2h-1zM154 345h4v2h-4zM183 345h2v2h-2zM207 345h2v2h-2zM218 345h1v2h-1zM226 345h2v2h-2zM259 345h2v2h-2zM276 345h3v2h-3zM287 345h2v3h-2zM290 345h8v2h-8zM301 345h3v2h-3zM307 345h6v2h-6zM314 345h3v2h-3zM319 345h1v2h-1zM357 345h2v2h-2zM100 347h9v1h-9zM110 347h2v1h-2zM124 347h1v1h-1zM127 347h1v1h-1zM130 347h1v1h-1zM157 347h1v1h-1zM165 347h2v1h-2zM186 347h3v1h-3zM237 347h1v1h-1zM270 347h1v1h-1zM276 347h1v1h-1zM279 347h1v1h-1zM282 347h4v1h-4zM292 347h3v1h-3zM296 347h2v1h-2zM299 347h3v1h-3zM308 347h2v1h-2zM313 347h3v1h-3zM322 347h3v1h-3zM340 347h1v1h-1zM101 348h5v2h-5zM109 348h3v2h-3zM115 348h1v2h-1zM118 348h4v2h-4zM155 348h2v2h-2zM189 348h2v2h-2zM267 348h1v2h-1zM271 348h2v2h-2zM274 348h2v2h-2zM277 348h2v2h-2zM285 348h1v2h-1zM289 348h3v2h-3zM295 348h1v2h-1zM299 348h2v2h-2zM302 348h2v2h-2zM305 348h2v2h-2zM317 348h2v2h-2zM331 348h1v2h-1zM338 348h2v2h-2zM101 350h3v1h-3zM106 350h3v1h-3zM112 350h1v4h-1zM116 350h2v1h-2zM119 350h2v1h-2zM122 350h3v1h-3zM127 350h1v1h-1zM133 350h1v1h-1zM137 350h2v1h-2zM143 350h2v1h-2zM148 350h1v1h-1zM158 350h2v1h-2zM168 350h2v1h-2zM197 350h1v1h-1zM201 350h2v1h-2zM226 350h3v1h-3zM258 350h1v1h-1zM273 350h6v1h-6zM286 350h1v1h-1zM289 350h1v1h-1zM292 350h1v1h-1zM298 350h1v1h-1zM302 350h3v1h-3zM308 350h2v1h-2zM326 350h2v1h-2zM354 350h2v1h-2zM369 350h2v1h-2zM101 351h8v1h-8zM125 351h2v1h-2zM133 351h3v1h-3zM173 351h1v1h-1zM177 351h3v1h-3zM264 351h1v1h-1zM270 351h3v1h-3zM279 351h1v1h-1zM289 351h3v4h-3zM295 351h3v1h-3zM302 351h2v1h-2zM305 351h2v1h-2zM311 351h5v1h-5zM332 351h2v3h-2zM393 351h2v1h-2zM101 352h9v2h-9zM115 352h6v2h-6zM124 352h3v2h-3zM155 352h2v2h-2zM197 352h1v2h-1zM240 352h1v2h-1zM244 352h2v2h-2zM247 352h2v2h-2zM252 352h1v2h-1zM261 352h1v2h-1zM274 352h2v2h-2zM277 352h3v2h-3zM283 352h2v3h-2zM293 352h2v3h-2zM304 352h3v2h-3zM310 352h1v2h-1zM325 352h1v2h-1zM392 352h1v2h-1zM100 354h1v1h-1zM103 354h12v1h-12zM118 354h1v3h-1zM125 354h2v4h-2zM149 354h2v1h-2zM176 354h1v1h-1zM188 354h1v1h-1zM194 354h1v1h-1zM198 354h2v1h-2zM246 354h1v1h-1zM267 354h3v1h-3zM277 354h2v1h-2zM280 354h2v1h-2zM296 354h3v1h-3zM302 354h2v1h-2zM313 354h1v3h-1zM368 354h1v1h-1zM430 354h2v1h-2zM101 355h3v2h-3zM106 355h6v2h-6zM113 355h3v2h-3zM130 355h3v2h-3zM137 355h2v2h-2zM174 355h3v2h-3zM183 355h2v2h-2zM232 355h2v2h-2zM258 355h1v2h-1zM273 355h1v2h-1zM276 355h1v2h-1zM282 355h3v3h-3zM286 355h3v2h-3zM290 355h3v2h-3zM295 355h1v2h-1zM299 355h3v2h-3zM316 355h1v2h-1zM319 355h1v2h-1zM328 355h1v2h-1zM344 355h2v2h-2zM372 355h2v2h-2zM418 355h2v2h-2zM100 357h9v1h-9zM113 357h2v1h-2zM130 357h1v1h-1zM137 357h3v1h-3zM151 357h6v1h-6zM167 357h1v1h-1zM176 357h1v1h-1zM222 357h2v2h-2zM238 357h3v1h-3zM265 357h2v1h-2zM268 357h2v1h-2zM271 357h6v1h-6zM279 357h1v1h-1zM287 357h3v1h-3zM299 357h2v1h-2zM302 357h2v1h-2zM338 357h2v1h-2zM348 357h2v1h-2zM380 357h1v1h-1zM100 358h1v1h-1zM103 358h3v1h-3zM107 358h3v1h-3zM112 358h1v1h-1zM115 358h1v1h-1zM119 358h2v1h-2zM136 358h1v1h-1zM148 358h3v1h-3zM154 358h1v1h-1zM176 358h3v1h-3zM183 358h2v1h-2zM228 358h1v3h-1zM244 358h2v1h-2zM252 358h1v1h-1zM256 358h2v1h-2zM259 358h2v1h-2zM264 358h3v1h-3zM270 358h1v1h-1zM276 358h4v1h-4zM287 358h2v1h-2zM296 358h2v1h-2zM335 358h2v1h-2zM465 358h1v1h-1zM103 359h6v2h-6zM113 359h2v2h-2zM116 359h6v2h-6zM124 359h1v2h-1zM136 359h3v2h-3zM179 359h1v3h-1zM215 359h1v2h-1zM241 359h2v2h-2zM258 359h1v2h-1zM264 359h4v2h-4zM271 359h11v2h-11zM283 359h3v2h-3zM289 359h3v2h-3zM295 359h1v2h-1zM311 359h2v2h-2zM328 359h1v2h-1zM340 359h1v2h-1zM101 361h2v1h-2zM104 361h5v1h-5zM112 361h3v1h-3zM122 361h2v1h-2zM136 361h1v1h-1zM140 361h2v1h-2zM152 361h2v1h-2zM160 361h1v1h-1zM225 361h1v1h-1zM232 361h2v1h-2zM240 361h1v1h-1zM255 361h1v1h-1zM262 361h2v1h-2zM268 361h3v1h-3zM273 361h1v3h-1zM277 361h8v1h-8zM286 361h1v1h-1zM292 361h3v1h-3zM296 361h2v1h-2zM299 361h3v1h-3zM313 361h1v1h-1zM332 361h2v1h-2zM107 362h2v2h-2zM110 362h2v2h-2zM113 362h6v2h-6zM121 362h1v2h-1zM127 362h3v2h-3zM137 362h2v2h-2zM145 362h1v2h-1zM152 362h3v2h-3zM203 362h1v2h-1zM249 362h3v2h-3zM256 362h3v2h-3zM261 362h6v2h-6zM276 362h6v2h-6zM285 362h2v2h-2zM293 362h2v2h-2zM301 362h1v2h-1zM314 362h2v2h-2zM415 362h2v2h-2zM101 364h3v1h-3zM106 364h1v1h-1zM109 364h3v1h-3zM116 364h5v1h-5zM122 364h2v1h-2zM146 364h2v1h-2zM152 364h2v1h-2zM177 364h2v1h-2zM232 364h3v1h-3zM253 364h2v1h-2zM256 364h2v1h-2zM261 364h1v1h-1zM264 364h3v1h-3zM268 364h2v1h-2zM271 364h2v1h-2zM277 364h2v1h-2zM282 364h1v1h-1zM286 364h1v1h-1zM289 364h1v1h-1zM296 364h2v1h-2zM313 364h1v1h-1zM323 364h2v1h-2zM421 364h2v1h-2zM103 365h1v1h-1zM107 365h3v1h-3zM112 365h1v1h-1zM119 365h3v1h-3zM124 365h3v1h-3zM134 365h2v1h-2zM151 365h3v1h-3zM155 365h2v1h-2zM182 365h1v1h-1zM198 365h2v1h-2zM215 365h1v1h-1zM249 365h1v1h-1zM255 365h1v1h-1zM259 365h5v1h-5zM265 365h2v1h-2zM270 365h4v1h-4zM276 365h1v1h-1zM280 365h2v1h-2zM283 365h2v1h-2zM292 365h1v1h-1zM295 365h4v1h-4zM104 366h8v2h-8zM118 366h1v2h-1zM122 366h3v2h-3zM128 366h2v2h-2zM131 366h2v2h-2zM136 366h3v2h-3zM188 366h1v2h-1zM232 366h2v2h-2zM258 366h3v2h-3zM264 366h3v2h-3zM268 366h2v2h-2zM271 366h3v2h-3zM276 366h3v2h-3zM282 366h5v2h-5zM290 366h2v2h-2zM301 366h1v3h-1zM351 366h2v2h-2zM103 368h1v1h-1zM107 368h8v1h-8zM116 368h3v1h-3zM121 368h3v1h-3zM161 368h1v1h-1zM164 368h1v1h-1zM186 368h2v1h-2zM194 368h1v1h-1zM216 368h2v1h-2zM261 368h4v1h-4zM267 368h4v1h-4zM273 368h3v1h-3zM279 368h6v1h-6zM287 368h2v1h-2zM296 368h2v1h-2zM319 368h1v1h-1zM325 368h1v1h-1zM353 368h1v1h-1zM101 369h2v2h-2zM104 369h3v2h-3zM110 369h3v2h-3zM116 369h2v2h-2zM122 369h2v2h-2zM136 369h1v2h-1zM152 369h2v4h-2zM176 369h1v2h-1zM221 369h1v2h-1zM243 369h1v2h-1zM247 369h2v2h-2zM256 369h2v2h-2zM262 369h3v2h-3zM267 369h1v3h-1zM270 369h4v2h-4zM276 369h1v2h-1zM283 369h2v2h-2zM289 369h3v2h-3zM293 369h2v2h-2zM304 369h1v2h-1zM103 371h4v1h-4zM115 371h4v1h-4zM121 371h1v1h-1zM134 371h2v2h-2zM231 371h1v1h-1zM259 371h5v1h-5zM270 371h3v1h-3zM274 371h2v1h-2zM280 371h2v2h-2zM285 371h1v1h-1zM289 371h1v1h-1zM323 371h2v1h-2zM363 371h2v1h-2zM101 372h3v1h-3zM106 372h6v1h-6zM113 372h3v1h-3zM118 372h1v1h-1zM125 372h2v1h-2zM131 372h2v1h-2zM137 372h2v1h-2zM148 372h1v1h-1zM201 372h2v1h-2zM206 372h1v1h-1zM247 372h2v1h-2zM253 372h2v3h-2zM258 372h4v1h-4zM264 372h3v1h-3zM270 372h6v1h-6zM277 372h2v1h-2zM287 372h2v1h-2zM311 372h2v1h-2zM378 372h2v1h-2zM392 372h1v1h-1zM398 372h1v1h-1zM100 373h1v2h-1zM103 373h4v3h-4zM109 373h6v2h-6zM116 373h2v2h-2zM124 373h1v3h-1zM142 373h1v2h-1zM152 373h5v2h-5zM168 373h2v2h-2zM213 373h2v2h-2zM218 373h1v2h-1zM229 373h2v2h-2zM238 373h3v2h-3zM243 373h1v2h-1zM250 373h2v2h-2zM259 373h2v2h-2zM262 373h2v2h-2zM265 373h5v2h-5zM273 373h3v3h-3zM283 373h4v2h-4zM109 375h3v1h-3zM113 375h2v1h-2zM121 375h1v1h-1zM127 375h1v1h-1zM134 375h2v1h-2zM139 375h1v1h-1zM176 375h1v1h-1zM238 375h2v1h-2zM244 375h5v1h-5zM256 375h3v1h-3zM261 375h4v1h-4zM268 375h2v1h-2zM282 375h1v3h-1zM287 375h2v1h-2zM298 375h1v1h-1zM328 375h1v1h-1zM445 375h2v1h-2zM101 376h3v2h-3zM109 376h1v2h-1zM112 376h3v2h-3zM118 376h4v2h-4zM137 376h2v3h-2zM149 376h2v2h-2zM177 376h2v2h-2zM222 376h2v2h-2zM243 376h1v3h-1zM246 376h1v2h-1zM249 376h3v2h-3zM255 376h1v2h-1zM259 376h5v2h-5zM267 376h6v2h-6zM295 376h3v2h-3zM308 376h2v3h-2zM322 376h1v2h-1zM363 376h2v2h-2zM104 378h5v1h-5zM112 378h1v1h-1zM118 378h1v1h-1zM124 378h1v1h-1zM152 378h2v1h-2zM173 378h1v2h-1zM176 378h1v1h-1zM203 378h1v1h-1zM210 378h2v1h-2zM218 378h1v1h-1zM229 378h2v1h-2zM237 378h1v2h-1zM250 378h3v1h-3zM261 378h3v1h-3zM265 378h2v1h-2zM268 378h2v1h-2zM271 378h2v1h-2zM286 378h1v1h-1zM316 378h1v1h-1zM348 378h2v1h-2zM101 379h8v1h-8zM110 379h2v1h-2zM121 379h1v3h-1zM125 379h2v1h-2zM136 379h1v3h-1zM234 379h1v1h-1zM241 379h2v1h-2zM244 379h3v1h-3zM249 379h1v1h-1zM252 379h6v1h-6zM259 379h5v1h-5zM265 379h3v1h-3zM270 379h6v1h-6zM280 379h2v1h-2zM283 379h2v1h-2zM301 379h1v1h-1zM328 379h1v1h-1zM101 380h3v2h-3zM106 380h4v2h-4zM112 380h1v2h-1zM116 380h2v2h-2zM139 380h1v2h-1zM155 380h2v3h-2zM177 380h2v2h-2zM225 380h1v2h-1zM229 380h2v2h-2zM240 380h1v2h-1zM243 380h3v2h-3zM253 380h2v5h-2zM256 380h2v2h-2zM261 380h1v2h-1zM264 380h1v2h-1zM267 380h3v2h-3zM274 380h2v2h-2zM280 380h3v2h-3zM104 382h8v1h-8zM115 382h3v1h-3zM119 382h2v1h-2zM133 382h1v1h-1zM221 382h1v1h-1zM232 382h2v3h-2zM237 382h4v1h-4zM246 382h3v1h-3zM256 382h5v1h-5zM262 382h2v1h-2zM267 382h4v1h-4zM273 382h1v1h-1zM308 382h2v1h-2zM320 382h2v1h-2zM378 382h2v1h-2zM395 382h1v1h-1zM101 383h5v2h-5zM107 383h9v2h-9zM134 383h2v3h-2zM151 383h1v2h-1zM154 383h1v2h-1zM209 383h1v2h-1zM240 383h1v2h-1zM249 383h1v2h-1zM256 383h2v2h-2zM262 383h6v2h-6zM270 383h3v2h-3zM274 383h3v2h-3zM283 383h2v2h-2zM311 383h2v2h-2zM314 383h2v2h-2zM357 383h2v2h-2zM363 383h2v2h-2zM103 385h7v1h-7zM113 385h2v1h-2zM116 385h2v1h-2zM119 385h2v1h-2zM122 385h2v1h-2zM125 385h2v2h-2zM128 385h2v1h-2zM152 385h2v1h-2zM155 385h3v1h-3zM243 385h1v1h-1zM246 385h6v1h-6zM255 385h3v1h-3zM262 385h3v1h-3zM268 385h3v1h-3zM274 385h2v1h-2zM302 385h2v1h-2zM307 385h1v1h-1zM338 385h3v1h-3zM101 386h2v1h-2zM104 386h6v1h-6zM112 386h1v1h-1zM115 386h3v1h-3zM121 386h1v1h-1zM130 386h1v1h-1zM152 386h3v1h-3zM216 386h2v1h-2zM224 386h1v1h-1zM229 386h2v1h-2zM232 386h2v1h-2zM235 386h2v1h-2zM240 386h1v1h-1zM246 386h1v1h-1zM249 386h1v1h-1zM252 386h1v1h-1zM255 386h1v1h-1zM258 386h3v1h-3zM264 386h1v1h-1zM267 386h1v1h-1zM274 386h3v1h-3zM106 387h6v2h-6zM113 387h2v2h-2zM122 387h3v2h-3zM155 387h2v2h-2zM176 387h3v2h-3zM182 387h1v2h-1zM228 387h1v2h-1zM237 387h1v2h-1zM243 387h1v2h-1zM246 387h6v2h-6zM253 387h3v2h-3zM258 387h1v2h-1zM262 387h5v2h-5zM268 387h3v2h-3zM273 387h1v3h-1zM293 387h2v2h-2zM343 387h1v2h-1zM348 387h2v2h-2zM104 389h8v1h-8zM124 389h1v1h-1zM127 389h1v1h-1zM139 389h1v1h-1zM149 389h2v1h-2zM154 389h1v1h-1zM170 389h1v1h-1zM186 389h2v1h-2zM232 389h2v1h-2zM235 389h2v1h-2zM238 389h2v1h-2zM241 389h3v1h-3zM246 389h10v1h-10zM258 389h3v4h-3zM264 389h3v1h-3zM268 389h2v1h-2zM279 389h1v1h-1zM289 389h1v1h-1zM292 389h3v1h-3zM340 389h1v1h-1zM445 389h2v1h-2zM101 390h2v3h-2zM104 390h11v2h-11zM118 390h6v2h-6zM125 390h2v2h-2zM137 390h2v3h-2zM152 390h5v2h-5zM198 390h2v2h-2zM204 390h3v2h-3zM225 390h3v2h-3zM234 390h1v2h-1zM244 390h2v2h-2zM247 390h2v2h-2zM250 390h3v2h-3zM264 390h1v2h-1zM276 390h3v2h-3zM533 390h1v2h-1zM106 392h3v1h-3zM115 392h3v1h-3zM134 392h2v1h-2zM152 392h2v1h-2zM158 392h2v1h-2zM188 392h1v1h-1zM222 392h2v1h-2zM226 392h2v1h-2zM231 392h1v1h-1zM237 392h3v1h-3zM241 392h3v2h-3zM246 392h3v1h-3zM252 392h1v1h-1zM268 392h3v1h-3zM277 392h2v1h-2zM280 392h3v1h-3zM287 392h2v1h-2zM290 392h2v1h-2zM353 392h1v1h-1zM369 392h2v1h-2zM396 392h2v1h-2zM106 393h1v1h-1zM109 393h3v1h-3zM113 393h2v1h-2zM136 393h1v1h-1zM173 393h1v1h-1zM177 393h2v1h-2zM212 393h1v3h-1zM225 393h1v1h-1zM228 393h1v1h-1zM232 393h2v1h-2zM235 393h5v1h-5zM246 393h1v1h-1zM249 393h3v1h-3zM253 393h2v1h-2zM256 393h2v1h-2zM261 393h1v1h-1zM268 393h2v1h-2zM276 393h1v1h-1zM295 393h1v1h-1zM322 393h1v1h-1zM337 393h1v1h-1zM351 393h2v1h-2zM433 393h2v1h-2zM101 394h2v2h-2zM106 394h3v2h-3zM110 394h2v2h-2zM113 394h6v2h-6zM121 394h1v2h-1zM134 394h2v2h-2zM216 394h2v2h-2zM231 394h1v2h-1zM238 394h2v2h-2zM241 394h2v2h-2zM247 394h3v2h-3zM252 394h1v2h-1zM256 394h5v2h-5zM265 394h2v2h-2zM289 394h1v2h-1zM313 394h1v2h-1zM353 394h1v2h-1zM359 394h1v2h-1zM103 396h4v1h-4zM109 396h6v1h-6zM154 396h1v1h-1zM176 396h1v1h-1zM191 396h1v1h-1zM198 396h2v1h-2zM218 396h1v1h-1zM224 396h1v1h-1zM228 396h1v1h-1zM234 396h1v1h-1zM240 396h3v1h-3zM247 396h5v1h-5zM259 396h2v1h-2zM264 396h1v1h-1zM101 397h2v2h-2zM106 397h1v2h-1zM109 397h7v2h-7zM119 397h2v2h-2zM124 397h1v2h-1zM134 397h2v2h-2zM173 397h3v2h-3zM177 397h2v2h-2zM218 397h3v2h-3zM222 397h9v2h-9zM232 397h5v2h-5zM238 397h2v2h-2zM241 397h2v2h-2zM244 397h3v2h-3zM249 397h3v2h-3zM261 397h1v2h-1zM298 397h1v2h-1zM316 397h1v2h-1zM341 397h2v2h-2zM399 397h2v2h-2zM101 399h11v1h-11zM113 399h6v1h-6zM142 399h1v1h-1zM152 399h2v1h-2zM157 399h1v1h-1zM171 399h3v1h-3zM198 399h2v1h-2zM219 399h2v1h-2zM235 399h8v3h-8zM247 399h3v1h-3zM255 399h1v1h-1zM262 399h2v1h-2zM267 399h1v1h-1zM270 399h1v1h-1zM279 399h1v1h-1zM283 399h2v1h-2zM301 399h1v1h-1zM328 399h1v1h-1zM354 399h2v1h-2zM103 400h3v2h-3zM107 400h2v2h-2zM110 400h2v2h-2zM115 400h4v2h-4zM122 400h2v2h-2zM167 400h1v3h-1zM186 400h2v2h-2zM210 400h2v2h-2zM226 400h5v2h-5zM244 400h2v3h-2zM247 400h8v2h-8zM258 400h1v2h-1zM261 400h1v2h-1zM276 400h1v2h-1zM314 400h2v2h-2zM320 400h2v2h-2zM326 400h2v2h-2zM343 400h1v2h-1zM103 402h4v1h-4zM109 402h3v1h-3zM113 402h5v1h-5zM154 402h1v1h-1zM194 402h1v1h-1zM197 402h1v1h-1zM218 402h4v1h-4zM226 402h3v1h-3zM231 402h3v1h-3zM237 402h6v1h-6zM247 402h5v1h-5zM256 402h2v1h-2zM290 402h3v1h-3zM110 403h5v1h-5zM118 403h1v1h-1zM121 403h1v3h-1zM124 403h1v1h-1zM136 403h1v1h-1zM195 403h2v1h-2zM213 403h2v1h-2zM225 403h1v1h-1zM229 403h12v1h-12zM243 403h6v1h-6zM252 403h1v1h-1zM262 403h2v1h-2zM280 403h2v1h-2zM347 403h1v1h-1zM368 403h1v3h-1zM101 404h2v2h-2zM104 404h5v2h-5zM110 404h3v2h-3zM115 404h1v2h-1zM128 404h6v2h-6zM142 404h1v3h-1zM145 404h1v2h-1zM151 404h1v2h-1zM154 404h1v2h-1zM168 404h2v2h-2zM179 404h1v3h-1zM200 404h1v2h-1zM206 404h1v2h-1zM209 404h1v2h-1zM221 404h3v2h-3zM226 404h3v2h-3zM234 404h18v2h-18zM256 404h2v2h-2zM279 404h1v2h-1zM311 404h2v2h-2zM328 404h1v2h-1zM372 404h2v2h-2zM101 406h12v1h-12zM116 406h2v1h-2zM122 406h2v1h-2zM185 406h1v1h-1zM204 406h3v3h-3zM210 406h2v1h-2zM213 406h2v1h-2zM219 406h2v1h-2zM222 406h6v1h-6zM229 406h3v1h-3zM234 406h1v3h-1zM237 406h6v1h-6zM247 406h2v1h-2zM252 406h1v1h-1zM259 406h2v1h-2zM277 406h2v1h-2zM286 406h1v1h-1zM101 407h5v2h-5zM107 407h5v2h-5zM118 407h1v2h-1zM124 407h1v2h-1zM130 407h1v2h-1zM133 407h1v2h-1zM157 407h3v2h-3zM174 407h2v2h-2zM191 407h1v2h-1zM212 407h1v2h-1zM218 407h4v2h-4zM224 407h1v2h-1zM228 407h4v2h-4zM241 407h2v2h-2zM247 407h3v3h-3zM344 407h2v2h-2zM407 407h1v2h-1zM103 409h1v2h-1zM106 409h3v1h-3zM110 409h2v1h-2zM113 409h2v2h-2zM116 409h2v2h-2zM121 409h1v1h-1zM142 409h1v1h-1zM173 409h3v1h-3zM186 409h2v1h-2zM207 409h3v1h-3zM216 409h3v1h-3zM228 409h1v2h-1zM231 409h10v1h-10zM243 409h3v1h-3zM259 409h2v1h-2zM262 409h2v1h-2zM267 409h1v1h-1zM280 409h3v1h-3zM323 409h2v1h-2zM412 409h2v1h-2zM418 409h2v1h-2zM100 410h1v1h-1zM106 410h4v1h-4zM119 410h2v1h-2zM134 410h3v1h-3zM145 410h1v1h-1zM152 410h5v1h-5zM162 410h2v1h-2zM167 410h1v1h-1zM182 410h3v1h-3zM188 410h1v1h-1zM195 410h2v1h-2zM201 410h2v1h-2zM212 410h4v1h-4zM224 410h2v1h-2zM231 410h7v1h-7zM243 410h1v1h-1zM246 410h1v1h-1zM253 410h2v1h-2zM258 410h1v1h-1zM304 410h1v1h-1zM353 410h1v1h-1zM357 410h2v1h-2zM392 410h1v1h-1zM100 411h3v2h-3zM106 411h7v2h-7zM115 411h3v2h-3zM119 411h3v2h-3zM124 411h1v2h-1zM131 411h2v2h-2zM171 411h2v2h-2zM174 411h2v3h-2zM206 411h1v2h-1zM212 411h3v2h-3zM222 411h4v2h-4zM229 411h2v2h-2zM234 411h4v2h-4zM240 411h3v2h-3zM244 411h3v2h-3zM268 411h2v2h-2zM277 411h2v2h-2zM311 411h2v2h-2zM332 411h2v2h-2zM548 411h1v2h-1zM103 413h1v1h-1zM106 413h4v1h-4zM112 413h4v1h-4zM121 413h1v3h-1zM133 413h1v1h-1zM136 413h1v1h-1zM139 413h1v1h-1zM151 413h1v3h-1zM154 413h1v3h-1zM180 413h2v1h-2zM197 413h1v3h-1zM209 413h1v1h-1zM212 413h10v1h-10zM225 413h4v1h-4zM232 413h3v1h-3zM238 413h2v1h-2zM244 413h6v1h-6zM296 413h2v1h-2zM304 413h1v1h-1zM314 413h2v1h-2zM317 413h2v1h-2zM325 413h1v4h-1zM328 413h1v1h-1zM351 413h2v1h-2zM101 414h8v2h-8zM112 414h1v2h-1zM133 414h3v2h-3zM137 414h2v2h-2zM145 414h1v2h-1zM174 414h3v2h-3zM182 414h1v2h-1zM201 414h3v2h-3zM206 414h1v3h-1zM209 414h3v2h-3zM215 414h1v2h-1zM218 414h3v2h-3zM222 414h4v2h-4zM228 414h1v2h-1zM231 414h3v2h-3zM237 414h3v2h-3zM241 414h2v2h-2zM247 414h2v2h-2zM264 414h1v2h-1zM277 414h3v2h-3zM353 414h1v2h-1zM384 414h2v2h-2zM103 416h1v1h-1zM106 416h1v1h-1zM118 416h3v1h-3zM124 416h1v1h-1zM139 416h1v1h-1zM152 416h2v1h-2zM155 416h2v1h-2zM160 416h1v1h-1zM168 416h2v2h-2zM173 416h3v1h-3zM195 416h8v1h-8zM212 416h4v1h-4zM219 416h2v1h-2zM222 416h2v1h-2zM225 416h1v1h-1zM231 416h4v1h-4zM241 416h3v1h-3zM259 416h2v1h-2zM265 416h2v1h-2zM285 416h1v1h-1zM293 416h2v1h-2zM311 416h2v1h-2zM332 416h2v1h-2zM341 416h2v1h-2zM360 416h2v1h-2zM101 417h6v1h-6zM109 417h3v1h-3zM113 417h5v1h-5zM119 417h3v1h-3zM128 417h3v1h-3zM136 417h1v1h-1zM146 417h2v1h-2zM149 417h2v1h-2zM182 417h1v1h-1zM188 417h1v1h-1zM192 417h2v1h-2zM201 417h2v1h-2zM206 417h3v3h-3zM212 417h1v1h-1zM215 417h1v3h-1zM218 417h3v1h-3zM222 417h4v1h-4zM228 417h1v1h-1zM231 417h3v1h-3zM240 417h1v1h-1zM247 417h2v4h-2zM340 417h1v1h-1zM387 417h2v1h-2zM429 417h1v1h-1zM450 417h1v1h-1zM101 418h2v3h-2zM104 418h2v2h-2zM107 418h3v2h-3zM119 418h5v2h-5zM127 418h1v2h-1zM134 418h3v2h-3zM140 418h5v2h-5zM149 418h3v2h-3zM161 418h1v2h-1zM170 418h3v2h-3zM174 418h2v2h-2zM179 418h1v2h-1zM183 418h2v2h-2zM210 418h3v2h-3zM219 418h6v2h-6zM234 418h1v2h-1zM241 418h2v2h-2zM244 418h2v2h-2zM258 418h1v2h-1zM261 418h1v2h-1zM283 418h2v2h-2zM287 418h2v2h-2zM295 418h1v2h-1zM308 418h2v2h-2zM317 418h2v2h-2zM107 420h5v1h-5zM113 420h2v1h-2zM130 420h1v1h-1zM136 420h1v1h-1zM139 420h1v3h-1zM143 420h3v1h-3zM155 420h2v1h-2zM170 420h1v1h-1zM176 420h1v1h-1zM188 420h1v1h-1zM198 420h2v1h-2zM203 420h3v1h-3zM209 420h3v1h-3zM215 420h4v1h-4zM224 420h2v1h-2zM228 420h3v1h-3zM232 420h6v1h-6zM255 420h1v1h-1zM274 420h2v1h-2zM280 420h2v1h-2zM293 420h2v1h-2zM299 420h2v1h-2zM325 420h1v1h-1zM368 420h1v1h-1zM380 420h1v1h-1zM392 420h1v1h-1zM448 420h2v1h-2zM500 420h2v1h-2zM103 421h1v2h-1zM106 421h12v2h-12zM119 421h3v2h-3zM128 421h3v2h-3zM134 421h2v2h-2zM151 421h1v2h-1zM164 421h1v2h-1zM173 421h1v2h-1zM177 421h2v2h-2zM194 421h1v2h-1zM197 421h1v3h-1zM201 421h2v2h-2zM206 421h4v2h-4zM212 421h10v2h-10zM224 421h4v2h-4zM229 421h2v2h-2zM235 421h2v2h-2zM240 421h1v2h-1zM244 421h2v2h-2zM366 421h2v2h-2zM410 421h1v2h-1zM100 423h4v1h-4zM106 423h7v1h-7zM115 423h1v1h-1zM118 423h6v1h-6zM133 423h3v1h-3zM143 423h2v1h-2zM152 423h3v1h-3zM160 423h1v1h-1zM165 423h2v1h-2zM171 423h3v1h-3zM186 423h2v4h-2zM201 423h3v1h-3zM209 423h12v1h-12zM224 423h1v2h-1zM226 423h3v1h-3zM231 423h1v1h-1zM234 423h1v1h-1zM237 423h1v1h-1zM243 423h1v1h-1zM274 423h2v1h-2zM296 423h2v1h-2zM301 423h1v1h-1zM320 423h2v1h-2zM423 423h1v1h-1zM101 424h2v3h-2zM104 424h2v1h-2zM107 424h5v1h-5zM113 424h2v3h-2zM122 424h2v1h-2zM127 424h1v1h-1zM137 424h3v1h-3zM142 424h1v1h-1zM146 424h3v1h-3zM152 424h2v1h-2zM173 424h3v1h-3zM179 424h1v3h-1zM191 424h1v1h-1zM201 424h6v1h-6zM209 424h1v1h-1zM212 424h9v1h-9zM228 424h1v4h-1zM232 424h5v1h-5zM256 424h2v1h-2zM262 424h2v1h-2zM265 424h2v3h-2zM295 424h1v1h-1zM308 424h2v1h-2zM334 424h1v1h-1zM401 424h1v1h-1zM106 425h6v2h-6zM119 425h3v2h-3zM133 425h4v2h-4zM170 425h1v2h-1zM173 425h4v2h-4zM189 425h2v2h-2zM194 425h3v2h-3zM198 425h3v2h-3zM204 425h9v2h-9zM216 425h3v2h-3zM221 425h1v2h-1zM224 425h2v2h-2zM231 425h1v2h-1zM235 425h2v2h-2zM289 425h1v2h-1zM329 425h2v2h-2zM350 425h1v2h-1zM101 427h9v1h-9zM112 427h1v1h-1zM121 427h1v3h-1zM124 427h1v1h-1zM137 427h2v1h-2zM151 427h1v1h-1zM157 427h1v1h-1zM171 427h5v1h-5zM182 427h1v1h-1zM191 427h1v1h-1zM194 427h1v1h-1zM200 427h1v1h-1zM204 427h2v1h-2zM207 427h9v1h-9zM219 427h7v1h-7zM231 427h3v1h-3zM237 427h1v1h-1zM240 427h3v1h-3zM255 427h1v1h-1zM264 427h1v1h-1zM279 427h1v1h-1zM282 427h1v1h-1zM292 427h1v1h-1zM320 427h2v1h-2zM325 427h1v1h-1zM328 427h1v1h-1zM343 427h1v1h-1zM402 427h2v1h-2zM101 428h2v2h-2zM106 428h1v2h-1zM109 428h1v2h-1zM115 428h1v2h-1zM125 428h2v2h-2zM133 428h4v2h-4zM151 428h3v2h-3zM162 428h2v2h-2zM165 428h2v4h-2zM173 428h1v4h-1zM179 428h3v2h-3zM192 428h9v2h-9zM203 428h9v2h-9zM213 428h5v2h-5zM221 428h4v2h-4zM231 428h1v2h-1zM238 428h2v2h-2zM253 428h2v2h-2zM259 428h2v2h-2zM262 428h2v2h-2zM268 428h2v2h-2zM360 428h3v2h-3zM386 428h1v2h-1zM106 430h6v1h-6zM113 430h2v1h-2zM119 430h2v1h-2zM122 430h3v1h-3zM127 430h1v2h-1zM130 430h1v1h-1zM133 430h3v1h-3zM145 430h1v4h-1zM148 430h1v1h-1zM151 430h1v1h-1zM157 430h4v1h-4zM177 430h2v1h-2zM180 430h2v1h-2zM183 430h6v1h-6zM195 430h5v1h-5zM203 430h1v2h-1zM206 430h1v1h-1zM209 430h1v1h-1zM212 430h4v1h-4zM219 430h6v1h-6zM240 430h1v1h-1zM277 430h2v1h-2zM282 430h1v1h-1zM296 430h2v1h-2zM322 430h1v1h-1zM341 430h2v1h-2zM350 430h1v1h-1zM427 430h2v1h-2zM468 430h1v1h-1zM594 430h2v1h-2zM103 431h1v1h-1zM107 431h3v1h-3zM112 431h1v1h-1zM116 431h2v1h-2zM122 431h2v1h-2zM133 431h1v1h-1zM137 431h2v1h-2zM140 431h2v1h-2zM152 431h2v1h-2zM155 431h3v1h-3zM179 431h3v1h-3zM192 431h6v1h-6zM206 431h9v1h-9zM219 431h2v1h-2zM229 431h2v1h-2zM238 431h2v3h-2zM268 431h2v1h-2zM106 432h3v2h-3zM110 432h3v2h-3zM128 432h5v2h-5zM151 432h1v2h-1zM162 432h2v2h-2zM167 432h1v2h-1zM177 432h2v3h-2zM180 432h3v2h-3zM185 432h1v3h-1zM191 432h1v2h-1zM194 432h1v2h-1zM197 432h3v2h-3zM203 432h6v2h-6zM212 432h1v2h-1zM215 432h6v2h-6zM224 432h1v2h-1zM228 432h1v2h-1zM234 432h3v2h-3zM241 432h2v2h-2zM255 432h1v2h-1zM305 432h2v2h-2zM101 434h2v1h-2zM104 434h3v1h-3zM110 434h2v1h-2zM115 434h1v1h-1zM119 434h5v1h-5zM130 434h1v1h-1zM136 434h1v1h-1zM143 434h3v1h-3zM152 434h3v1h-3zM168 434h2v1h-2zM182 434h1v1h-1zM189 434h3v1h-3zM194 434h4v1h-4zM200 434h3v1h-3zM204 434h8v1h-8zM213 434h2v1h-2zM222 434h2v1h-2zM243 434h1v1h-1zM276 434h1v1h-1zM290 434h2v1h-2zM341 434h2v1h-2zM106 435h4v2h-4zM113 435h2v2h-2zM118 435h1v2h-1zM127 435h1v2h-1zM131 435h2v2h-2zM149 435h2v2h-2zM158 435h2v2h-2zM174 435h3v2h-3zM179 435h3v2h-3zM185 435h4v2h-4zM191 435h6v2h-6zM198 435h2v2h-2zM201 435h2v2h-2zM204 435h2v2h-2zM207 435h6v2h-6zM215 435h3v2h-3zM219 435h3v2h-3zM235 435h2v2h-2zM249 435h1v2h-1zM273 435h3v2h-3zM279 435h1v2h-1zM289 435h1v2h-1zM293 435h2v2h-2zM311 435h2v2h-2zM332 435h2v2h-2zM101 437h5v1h-5zM107 437h2v1h-2zM112 437h1v1h-1zM115 437h1v1h-1zM121 437h4v1h-4zM134 437h3v1h-3zM140 437h2v1h-2zM143 437h2v1h-2zM148 437h4v1h-4zM154 437h1v1h-1zM157 437h1v1h-1zM160 437h1v1h-1zM162 437h2v1h-2zM165 437h2v1h-2zM170 437h1v1h-1zM173 437h3v1h-3zM179 437h1v1h-1zM182 437h1v1h-1zM185 437h7v1h-7zM194 437h3v1h-3zM198 437h3v1h-3zM203 437h1v1h-1zM206 437h4v1h-4zM212 437h4v1h-4zM218 437h4v1h-4zM237 437h1v1h-1zM241 437h2v1h-2zM255 437h1v1h-1zM261 437h1v1h-1zM267 437h1v1h-1zM273 437h1v1h-1zM286 437h1v2h-1zM302 437h2v1h-2zM319 437h1v1h-1zM331 437h1v1h-1zM103 438h9v1h-9zM113 438h3v1h-3zM127 438h7v1h-7zM137 438h2v4h-2zM142 438h1v1h-1zM145 438h1v1h-1zM151 438h3v1h-3zM158 438h3v1h-3zM167 438h1v1h-1zM171 438h2v1h-2zM174 438h2v1h-2zM177 438h5v1h-5zM183 438h9v1h-9zM194 438h1v1h-1zM197 438h3v1h-3zM201 438h3v1h-3zM207 438h2v1h-2zM212 438h1v1h-1zM219 438h5v1h-5zM240 438h1v1h-1zM246 438h1v1h-1zM259 438h2v1h-2zM290 438h2v1h-2zM304 438h1v1h-1zM314 438h2v1h-2zM106 439h7v2h-7zM115 439h1v2h-1zM121 439h1v3h-1zM124 439h1v2h-1zM128 439h2v2h-2zM131 439h3v2h-3zM143 439h2v3h-2zM148 439h7v2h-7zM157 439h1v2h-1zM160 439h1v2h-1zM170 439h4v2h-4zM180 439h2v5h-2zM183 439h3v3h-3zM189 439h23v2h-23zM219 439h3v2h-3zM225 439h1v2h-1zM277 439h2v2h-2zM286 439h3v2h-3zM302 439h2v2h-2zM371 439h1v2h-1zM383 439h1v2h-1zM408 439h2v2h-2zM106 441h3v1h-3zM110 441h6v1h-6zM124 441h4v1h-4zM130 441h3v1h-3zM140 441h2v1h-2zM146 441h5v1h-5zM152 441h2v1h-2zM158 441h2v1h-2zM165 441h6v1h-6zM173 441h1v1h-1zM189 441h5v1h-5zM200 441h4v1h-4zM206 441h4v1h-4zM212 441h3v1h-3zM218 441h3v1h-3zM240 441h1v1h-1zM247 441h2v1h-2zM271 441h2v1h-2zM282 441h3v1h-3zM301 441h1v1h-1zM314 441h2v1h-2zM353 441h1v1h-1zM398 441h1v1h-1zM427 441h2v1h-2zM462 441h1v1h-1zM101 442h2v2h-2zM104 442h2v2h-2zM107 442h9v2h-9zM118 442h1v2h-1zM131 442h3v3h-3zM136 442h1v3h-1zM149 442h3v2h-3zM155 442h3v2h-3zM165 442h2v2h-2zM171 442h2v2h-2zM183 442h5v2h-5zM191 442h7v2h-7zM200 442h1v2h-1zM204 442h9v2h-9zM216 442h3v2h-3zM229 442h2v2h-2zM232 442h3v2h-3zM238 442h3v2h-3zM244 442h2v3h-2zM253 442h2v2h-2zM277 442h2v2h-2zM343 442h1v2h-1zM505 442h1v2h-1zM104 444h6v1h-6zM112 444h1v1h-1zM115 444h3v1h-3zM122 444h2v1h-2zM142 444h3v2h-3zM146 444h3v2h-3zM152 444h2v1h-2zM155 444h2v1h-2zM158 444h3v1h-3zM167 444h1v1h-1zM170 444h6v1h-6zM179 444h1v1h-1zM182 444h15v1h-15zM198 444h3v1h-3zM203 444h10v1h-10zM228 444h1v1h-1zM238 444h2v1h-2zM262 444h2v1h-2zM356 444h1v1h-1zM405 444h2v1h-2zM411 444h1v1h-1zM421 444h2v1h-2zM435 444h1v1h-1zM514 444h1v1h-1zM101 445h2v1h-2zM104 445h2v1h-2zM107 445h5v1h-5zM118 445h1v1h-1zM124 445h1v1h-1zM127 445h3v1h-3zM134 445h5v1h-5zM154 445h4v1h-4zM160 445h1v1h-1zM162 445h3v1h-3zM170 445h4v1h-4zM183 445h2v1h-2zM186 445h3v1h-3zM191 445h3v1h-3zM195 445h3v1h-3zM200 445h1v1h-1zM203 445h3v1h-3zM207 445h5v1h-5zM219 445h2v1h-2zM232 445h2v3h-2zM240 445h1v1h-1zM250 445h2v1h-2zM261 445h1v1h-1zM287 445h2v1h-2zM290 445h2v1h-2zM344 445h2v1h-2zM366 445h2v1h-2zM389 445h1v1h-1zM439 445h2v1h-2zM104 446h3v2h-3zM109 446h4v2h-4zM115 446h1v2h-1zM121 446h1v2h-1zM127 446h1v2h-1zM137 446h3v2h-3zM145 446h7v2h-7zM157 446h1v2h-1zM160 446h2v3h-2zM164 446h1v3h-1zM171 446h15v2h-15zM189 446h3v2h-3zM195 446h11v2h-11zM212 446h1v2h-1zM218 446h3v2h-3zM222 446h2v2h-2zM225 446h3v2h-3zM252 446h1v2h-1zM271 446h2v2h-2zM316 446h1v2h-1zM415 446h2v2h-2zM103 448h1v3h-1zM106 448h4v1h-4zM112 448h1v1h-1zM116 448h2v1h-2zM119 448h2v1h-2zM124 448h3v1h-3zM128 448h3v1h-3zM134 448h5v1h-5zM140 448h2v3h-2zM143 448h3v1h-3zM148 448h1v1h-1zM154 448h4v1h-4zM168 448h2v1h-2zM171 448h3v1h-3zM177 448h2v1h-2zM180 448h5v1h-5zM186 448h8v1h-8zM195 448h2v1h-2zM198 448h2v1h-2zM203 448h1v1h-1zM206 448h3v1h-3zM210 448h2v1h-2zM218 448h1v1h-1zM221 448h1v1h-1zM226 448h2v1h-2zM231 448h1v3h-1zM237 448h1v1h-1zM277 448h2v1h-2zM293 448h2v1h-2zM301 448h3v1h-3zM335 448h2v1h-2zM106 449h3v2h-3zM115 449h3v2h-3zM121 449h4v2h-4zM130 449h3v2h-3zM134 449h2v2h-2zM143 449h2v2h-2zM148 449h3v2h-3zM152 449h2v2h-2zM155 449h2v2h-2zM158 449h2v2h-2zM161 449h4v2h-4zM167 449h3v2h-3zM173 449h7v2h-7zM182 449h6v2h-6zM189 449h2v2h-2zM194 449h1v2h-1zM197 449h9v2h-9zM209 449h1v3h-1zM213 449h2v2h-2zM235 449h2v2h-2zM250 449h2v2h-2zM276 449h1v2h-1zM280 449h2v2h-2zM283 449h3v2h-3zM292 449h1v2h-1zM332 449h2v2h-2zM351 449h2v2h-2zM414 449h1v2h-1zM104 451h5v1h-5zM110 451h3v1h-3zM116 451h2v1h-2zM119 451h2v1h-2zM124 451h4v2h-4zM133 451h1v1h-1zM137 451h3v1h-3zM146 451h2v1h-2zM151 451h1v1h-1zM154 451h3v1h-3zM161 451h3v1h-3zM168 451h6v1h-6zM177 451h3v2h-3zM182 451h1v1h-1zM186 451h9v1h-9zM197 451h1v1h-1zM200 451h3v1h-3zM221 451h1v1h-1zM237 451h1v1h-1zM259 451h2v1h-2zM274 451h2v1h-2zM282 451h1v1h-1zM293 451h2v1h-2zM301 451h1v1h-1zM398 451h1v1h-1zM101 452h2v1h-2zM106 452h9v1h-9zM116 452h3v1h-3zM130 452h1v1h-1zM136 452h1v1h-1zM142 452h1v1h-1zM148 452h1v1h-1zM151 452h4v1h-4zM161 452h7v1h-7zM170 452h4v1h-4zM183 452h8v1h-8zM194 452h7v1h-7zM204 452h3v1h-3zM212 452h3v1h-3zM256 452h2v1h-2zM277 452h2v1h-2zM317 452h2v1h-2zM328 452h1v1h-1zM354 452h2v1h-2zM390 452h2v1h-2zM103 453h3v2h-3zM109 453h3v2h-3zM116 453h5v2h-5zM124 453h1v2h-1zM127 453h1v3h-1zM130 453h6v2h-6zM139 453h21v2h-21zM162 453h2v2h-2zM165 453h5v2h-5zM173 453h3v2h-3zM180 453h20v2h-20zM203 453h1v2h-1zM206 453h1v2h-1zM209 453h1v2h-1zM213 453h3v2h-3zM222 453h2v2h-2zM249 453h1v2h-1zM255 453h1v2h-1zM271 453h2v2h-2zM287 453h2v2h-2zM325 453h1v2h-1zM340 453h1v2h-1zM365 453h1v2h-1zM104 455h2v1h-2zM107 455h5v1h-5zM113 455h5v1h-5zM122 455h2v1h-2zM130 455h1v1h-1zM133 455h7v1h-7zM143 455h2v1h-2zM146 455h5v1h-5zM154 455h4v1h-4zM160 455h4v1h-4zM165 455h3v1h-3zM170 455h9v1h-9zM183 455h2v1h-2zM188 455h1v1h-1zM191 455h3v1h-3zM197 455h3v1h-3zM201 455h5v1h-5zM224 455h1v1h-1zM244 455h2v3h-2zM285 455h1v1h-1zM302 455h2v1h-2zM317 455h2v1h-2zM320 455h2v1h-2zM323 455h2v1h-2zM384 455h2v1h-2zM465 455h1v1h-1zM104 456h3v2h-3zM116 456h2v2h-2zM125 456h3v2h-3zM133 456h3v2h-3zM140 456h2v2h-2zM143 456h6v2h-6zM151 456h3v2h-3zM155 456h2v2h-2zM158 456h2v2h-2zM161 456h12v2h-12zM176 456h4v3h-4zM183 456h3v2h-3zM188 456h3v2h-3zM192 456h8v2h-8zM201 456h2v3h-2zM209 456h1v3h-1zM212 456h1v2h-1zM228 456h1v2h-1zM347 456h1v2h-1zM350 456h1v2h-1zM356 456h1v2h-1zM401 456h1v2h-1zM460 456h2v2h-2zM104 458h5v1h-5zM110 458h2v1h-2zM113 458h3v1h-3zM118 458h1v1h-1zM125 458h5v1h-5zM131 458h5v1h-5zM137 458h2v1h-2zM143 458h5v1h-5zM149 458h2v1h-2zM154 458h1v2h-1zM157 458h13v1h-13zM171 458h3v1h-3zM185 458h4v1h-4zM191 458h3v1h-3zM213 458h2v1h-2zM218 458h1v1h-1zM222 458h2v1h-2zM232 458h2v1h-2zM235 458h2v2h-2zM264 458h1v1h-1zM295 458h3v1h-3zM305 458h2v4h-2zM314 458h2v1h-2zM328 458h1v1h-1zM334 458h1v1h-1zM341 458h2v1h-2zM363 458h2v2h-2zM371 458h1v1h-1zM404 458h1v1h-1zM447 458h1v1h-1zM104 459h2v1h-2zM107 459h2v1h-2zM110 459h3v1h-3zM115 459h4v1h-4zM121 459h1v1h-1zM124 459h9v1h-9zM134 459h5v3h-5zM140 459h5v1h-5zM146 459h5v1h-5zM160 459h2v3h-2zM165 459h2v3h-2zM170 459h9v1h-9zM182 459h3v1h-3zM186 459h9v1h-9zM197 459h1v1h-1zM201 459h3v1h-3zM207 459h2v1h-2zM216 459h2v1h-2zM224 459h1v1h-1zM246 459h1v1h-1zM250 459h2v1h-2zM256 459h2v1h-2zM325 459h1v1h-1zM337 459h1v3h-1zM410 459h1v1h-1zM566 459h1v1h-1zM104 460h3v2h-3zM110 460h2v2h-2zM115 460h3v3h-3zM131 460h2v2h-2zM140 460h2v2h-2zM143 460h5v2h-5zM151 460h1v2h-1zM154 460h4v2h-4zM170 460h7v2h-7zM182 460h4v2h-4zM188 460h9v2h-9zM204 460h2v5h-2zM210 460h2v2h-2zM218 460h3v2h-3zM225 460h1v2h-1zM240 460h1v2h-1zM243 460h1v2h-1zM279 460h1v2h-1zM331 460h1v2h-1zM334 460h1v2h-1zM341 460h2v2h-2zM371 460h1v2h-1zM459 460h1v2h-1zM106 462h6v1h-6zM121 462h4v1h-4zM127 462h1v1h-1zM131 462h5v1h-5zM139 462h3v1h-3zM145 462h9v1h-9zM157 462h8v1h-8zM173 462h1v1h-1zM176 462h1v1h-1zM179 462h1v1h-1zM182 462h3v1h-3zM186 462h8v1h-8zM197 462h1v1h-1zM200 462h1v1h-1zM218 462h1v1h-1zM231 462h3v1h-3zM241 462h2v1h-2zM369 462h2v1h-2zM380 462h1v1h-1zM387 462h2v1h-2zM417 462h1v1h-1zM104 463h2v2h-2zM107 463h14v2h-14zM125 463h6v2h-6zM137 463h3v2h-3zM145 463h3v2h-3zM151 463h1v2h-1zM158 463h6v2h-6zM165 463h9v2h-9zM180 463h5v2h-5zM186 463h3v3h-3zM191 463h3v2h-3zM195 463h3v2h-3zM201 463h2v2h-2zM209 463h3v2h-3zM225 463h1v2h-1zM228 463h1v2h-1zM252 463h1v2h-1zM256 463h2v2h-2zM296 463h2v2h-2zM301 463h1v3h-1zM304 463h1v2h-1zM344 463h3v2h-3zM348 463h2v2h-2zM354 463h2v2h-2zM106 465h4v1h-4zM112 465h6v1h-6zM122 465h3v1h-3zM128 465h8v1h-8zM137 465h2v1h-2zM140 465h3v1h-3zM145 465h1v1h-1zM148 465h1v1h-1zM151 465h3v1h-3zM155 465h5v1h-5zM161 465h1v1h-1zM164 465h4v1h-4zM170 465h3v1h-3zM177 465h8v1h-8zM191 465h1v1h-1zM194 465h1v1h-1zM200 465h1v1h-1zM207 465h2v1h-2zM212 465h1v1h-1zM238 465h2v1h-2zM243 465h1v1h-1zM283 465h3v1h-3zM292 465h1v1h-1zM329 465h2v1h-2zM338 465h2v1h-2zM384 465h2v1h-2zM466 465h2v1h-2zM104 466h6v1h-6zM113 466h5v1h-5zM121 466h1v1h-1zM133 466h4v1h-4zM139 466h4v1h-4zM146 466h2v1h-2zM149 466h3v1h-3zM154 466h1v1h-1zM158 466h7v1h-7zM168 466h6v1h-6zM176 466h1v1h-1zM179 466h4v1h-4zM185 466h1v1h-1zM188 466h3v3h-3zM197 466h4v1h-4zM204 466h3v1h-3zM215 466h3v1h-3zM222 466h2v1h-2zM234 466h1v1h-1zM246 466h1v1h-1zM253 466h3v1h-3zM305 466h2v1h-2zM398 466h1v1h-1zM404 466h1v1h-1zM411 466h1v1h-1zM109 467h1v2h-1zM112 467h1v2h-1zM115 467h1v2h-1zM118 467h6v2h-6zM125 467h2v3h-2zM128 467h3v2h-3zM133 467h3v2h-3zM139 467h1v2h-1zM143 467h9v2h-9zM154 467h6v2h-6zM161 467h1v2h-1zM165 467h2v2h-2zM171 467h3v2h-3zM177 467h2v2h-2zM180 467h2v2h-2zM183 467h3v2h-3zM194 467h3v2h-3zM200 467h1v3h-1zM216 467h2v2h-2zM237 467h1v3h-1zM240 467h1v2h-1zM253 467h2v2h-2zM258 467h1v2h-1zM264 467h3v2h-3zM280 467h2v3h-2zM104 469h2v1h-2zM107 469h2v1h-2zM110 469h14v1h-14zM131 469h6v1h-6zM139 469h6v1h-6zM146 469h18v1h-18zM167 469h1v1h-1zM170 469h1v1h-1zM174 469h6v1h-6zM183 469h2v1h-2zM186 469h2v1h-2zM194 469h4v1h-4zM203 469h1v1h-1zM213 469h2v1h-2zM255 469h1v1h-1zM267 469h1v1h-1zM271 469h2v1h-2zM292 469h3v1h-3zM320 469h3v1h-3zM395 469h1v1h-1zM106 470h3v2h-3zM110 470h2v2h-2zM113 470h2v2h-2zM116 470h2v2h-2zM121 470h4v2h-4zM127 470h1v2h-1zM130 470h1v2h-1zM133 470h10v2h-10zM145 470h13v2h-13zM160 470h4v2h-4zM173 470h3v2h-3zM180 470h2v2h-2zM188 470h1v2h-1zM197 470h1v2h-1zM201 470h2v2h-2zM226 470h2v2h-2zM232 470h2v2h-2zM244 470h2v2h-2zM262 470h2v2h-2zM298 470h1v2h-1zM322 470h1v2h-1zM357 470h2v2h-2zM402 470h2v2h-2zM104 472h5v1h-5zM113 472h6v1h-6zM124 472h3v1h-3zM128 472h2v1h-2zM131 472h3v1h-3zM136 472h19v1h-19zM160 472h2v1h-2zM164 472h3v1h-3zM171 472h3v3h-3zM179 472h1v3h-1zM183 472h2v1h-2zM186 472h6v1h-6zM198 472h3v1h-3zM229 472h3v1h-3zM243 472h1v1h-1zM273 472h1v1h-1zM280 472h2v1h-2zM285 472h1v1h-1zM289 472h1v1h-1zM299 472h3v1h-3zM338 472h2v1h-2zM346 472h1v1h-1zM453 472h1v1h-1zM469 472h2v1h-2zM106 473h10v2h-10zM118 473h1v2h-1zM124 473h16v2h-16zM142 473h1v3h-1zM145 473h12v2h-12zM158 473h2v2h-2zM176 473h1v2h-1zM182 473h3v2h-3zM188 473h1v2h-1zM194 473h1v2h-1zM198 473h6v2h-6zM216 473h2v2h-2zM222 473h2v2h-2zM234 473h1v2h-1zM270 473h1v2h-1zM276 473h3v2h-3zM313 473h1v2h-1zM357 473h2v2h-2zM375 473h2v2h-2zM423 473h1v2h-1zM109 475h1v1h-1zM115 475h3v1h-3zM119 475h2v1h-2zM122 475h6v2h-6zM130 475h3v1h-3zM139 475h1v1h-1zM145 475h4v1h-4zM152 475h2v1h-2zM155 475h2v1h-2zM158 475h6v1h-6zM171 475h5v1h-5zM177 475h5v1h-5zM183 475h3v1h-3zM191 475h4v1h-4zM197 475h4v1h-4zM212 475h1v1h-1zM247 475h2v1h-2zM273 475h1v1h-1zM277 475h2v1h-2zM289 475h1v1h-1zM323 475h2v1h-2zM346 475h1v1h-1zM451 475h2v1h-2zM508 475h1v1h-1zM107 476h2v1h-2zM110 476h2v1h-2zM113 476h2v1h-2zM116 476h3v1h-3zM130 476h7v1h-7zM139 476h6v1h-6zM146 476h8v1h-8zM155 476h3v1h-3zM160 476h1v1h-1zM171 476h8v1h-8zM182 476h1v1h-1zM185 476h1v1h-1zM189 476h5v1h-5zM200 476h1v1h-1zM206 476h3v1h-3zM210 476h2v1h-2zM225 476h4v1h-4zM234 476h1v1h-1zM265 476h3v1h-3zM271 476h2v1h-2zM279 476h1v1h-1zM293 476h2v1h-2zM304 476h1v3h-1zM316 476h1v1h-1zM328 476h1v1h-1zM348 476h2v1h-2zM356 476h1v3h-1zM360 476h2v1h-2zM407 476h1v1h-1zM410 476h1v1h-1zM444 476h1v1h-1zM106 477h1v2h-1zM112 477h9v2h-9zM122 477h5v2h-5zM128 477h3v2h-3zM136 477h4v2h-4zM142 477h4v2h-4zM148 477h4v2h-4zM154 477h3v2h-3zM165 477h3v2h-3zM170 477h1v2h-1zM177 477h2v2h-2zM180 477h2v2h-2zM186 477h2v2h-2zM189 477h2v2h-2zM195 477h2v3h-2zM198 477h3v2h-3zM204 477h2v2h-2zM209 477h1v2h-1zM215 477h1v2h-1zM231 477h1v2h-1zM273 477h1v2h-1zM280 477h2v2h-2zM308 477h3v2h-3zM344 477h2v2h-2zM369 477h2v2h-2zM104 479h2v1h-2zM109 479h9v1h-9zM119 479h2v1h-2zM122 479h9v1h-9zM133 479h6v1h-6zM140 479h15v1h-15zM157 479h1v1h-1zM165 479h2v1h-2zM168 479h2v3h-2zM171 479h8v1h-8zM180 479h8v1h-8zM189 479h3v3h-3zM198 479h2v1h-2zM201 479h2v1h-2zM221 479h1v1h-1zM225 479h1v3h-1zM255 479h1v1h-1zM277 479h2v1h-2zM299 479h2v1h-2zM323 479h2v1h-2zM357 479h2v1h-2zM360 479h2v1h-2zM430 479h2v1h-2zM107 480h2v2h-2zM110 480h17v2h-17zM128 480h3v2h-3zM133 480h4v2h-4zM140 480h8v2h-8zM152 480h5v2h-5zM161 480h1v2h-1zM173 480h3v2h-3zM182 480h3v3h-3zM194 480h3v4h-3zM209 480h1v2h-1zM218 480h1v2h-1zM231 480h3v2h-3zM237 480h1v2h-1zM250 480h2v2h-2zM259 480h2v2h-2zM313 480h1v2h-1zM326 480h2v2h-2zM417 480h3v2h-3zM472 480h1v2h-1zM104 482h6v1h-6zM112 482h3v1h-3zM118 482h3v1h-3zM124 482h1v1h-1zM127 482h6v1h-6zM134 482h5v1h-5zM140 482h5v1h-5zM148 482h4v1h-4zM154 482h1v1h-1zM162 482h2v2h-2zM168 482h5v1h-5zM174 482h3v1h-3zM179 482h1v1h-1zM189 482h2v1h-2zM204 482h2v1h-2zM210 482h3v1h-3zM221 482h1v1h-1zM235 482h2v1h-2zM246 482h4v1h-4zM255 482h1v1h-1zM282 482h1v1h-1zM296 482h2v1h-2zM319 482h1v1h-1zM346 482h1v1h-1zM578 482h1v1h-1zM106 483h1v1h-1zM109 483h1v1h-1zM115 483h3v1h-3zM122 483h3v1h-3zM127 483h3v1h-3zM131 483h2v1h-2zM136 483h9v1h-9zM146 483h5v1h-5zM160 483h1v1h-1zM165 483h3v1h-3zM173 483h1v1h-1zM177 483h2v1h-2zM180 483h5v1h-5zM186 483h2v1h-2zM201 483h2v3h-2zM210 483h2v1h-2zM213 483h3v1h-3zM274 483h2v1h-2zM279 483h1v1h-1zM283 483h2v1h-2zM322 483h1v1h-1zM329 483h3v1h-3zM365 483h1v1h-1zM454 483h2v1h-2zM558 483h2v1h-2zM107 484h2v3h-2zM110 484h6v2h-6zM122 484h5v2h-5zM134 484h5v2h-5zM145 484h1v2h-1zM160 484h4v2h-4zM168 484h3v2h-3zM173 484h4v2h-4zM179 484h4v2h-4zM192 484h3v2h-3zM198 484h2v2h-2zM206 484h1v2h-1zM218 484h1v2h-1zM222 484h3v2h-3zM241 484h2v2h-2zM244 484h2v2h-2zM261 484h1v2h-1zM292 484h1v2h-1zM296 484h2v3h-2zM359 484h1v2h-1zM514 484h1v2h-1zM103 486h1v1h-1zM110 486h2v1h-2zM113 486h5v1h-5zM119 486h3v1h-3zM124 486h4v1h-4zM133 486h4v1h-4zM139 486h4v1h-4zM158 486h12v1h-12zM173 486h1v1h-1zM180 486h3v1h-3zM185 486h1v1h-1zM188 486h1v1h-1zM191 486h1v1h-1zM232 486h2v3h-2zM247 486h2v1h-2zM290 486h2v1h-2zM329 486h2v1h-2zM109 487h6v2h-6zM116 487h11v2h-11zM128 487h5v3h-5zM134 487h5v2h-5zM143 487h3v2h-3zM148 487h1v2h-1zM160 487h2v2h-2zM164 487h1v2h-1zM167 487h6v2h-6zM176 487h4v2h-4zM183 487h3v2h-3zM204 487h2v2h-2zM207 487h2v2h-2zM229 487h2v2h-2zM262 487h2v2h-2zM274 487h2v2h-2zM346 487h1v2h-1zM390 487h2v2h-2zM395 487h1v2h-1zM402 487h2v2h-2zM107 489h2v1h-2zM112 489h7v1h-7zM124 489h3v1h-3zM134 489h3v1h-3zM140 489h2v1h-2zM143 489h2v1h-2zM155 489h2v1h-2zM162 489h8v1h-8zM174 489h5v1h-5zM182 489h1v1h-1zM185 489h4v1h-4zM198 489h2v1h-2zM201 489h3v1h-3zM210 489h3v1h-3zM228 489h1v1h-1zM240 489h1v1h-1zM289 489h1v2h-1zM310 489h1v1h-1zM322 489h1v1h-1zM332 489h2v1h-2zM359 489h3v1h-3zM372 489h2v1h-2zM109 490h21v1h-21zM136 490h1v1h-1zM145 490h1v1h-1zM154 490h1v1h-1zM157 490h4v1h-4zM162 490h6v1h-6zM171 490h5v1h-5zM195 490h2v1h-2zM231 490h1v1h-1zM235 490h2v1h-2zM244 490h2v1h-2zM280 490h3v1h-3zM305 490h2v1h-2zM323 490h2v1h-2zM423 490h1v1h-1zM430 490h2v1h-2zM112 491h3v2h-3zM116 491h5v2h-5zM124 491h4v2h-4zM130 491h1v2h-1zM134 491h3v2h-3zM151 491h1v2h-1zM158 491h3v2h-3zM164 491h3v2h-3zM170 491h1v2h-1zM174 491h5v2h-5zM188 491h4v2h-4zM206 491h1v2h-1zM210 491h2v2h-2zM213 491h2v2h-2zM234 491h1v2h-1zM247 491h2v2h-2zM258 491h1v2h-1zM264 491h1v2h-1zM274 491h2v2h-2zM280 491h2v2h-2zM301 491h1v2h-1zM310 491h1v2h-1zM343 491h1v2h-1zM346 491h1v2h-1zM374 491h1v2h-1zM418 491h2v2h-2zM104 493h2v1h-2zM107 493h2v1h-2zM112 493h6v1h-6zM119 493h3v3h-3zM124 493h3v1h-3zM128 493h6v1h-6zM157 493h3v1h-3zM161 493h1v1h-1zM164 493h1v1h-1zM168 493h6v1h-6zM176 493h1v1h-1zM185 493h3v1h-3zM189 493h2v1h-2zM192 493h2v1h-2zM195 493h3v1h-3zM204 493h2v1h-2zM229 493h2v1h-2zM235 493h2v1h-2zM290 493h2v3h-2zM308 493h2v1h-2zM331 493h1v1h-1zM442 493h2v1h-2zM536 493h1v1h-1zM110 494h5v2h-5zM116 494h2v2h-2zM128 494h2v2h-2zM133 494h1v2h-1zM142 494h1v2h-1zM152 494h2v2h-2zM155 494h2v2h-2zM158 494h2v2h-2zM161 494h3v2h-3zM165 494h3v2h-3zM170 494h1v2h-1zM176 494h3v2h-3zM189 494h3v2h-3zM197 494h1v2h-1zM203 494h3v2h-3zM207 494h2v2h-2zM219 494h2v2h-2zM225 494h1v2h-1zM243 494h1v2h-1zM247 494h2v2h-2zM268 494h2v3h-2zM305 494h3v2h-3zM313 494h1v2h-1zM317 494h2v2h-2zM348 494h2v2h-2zM353 494h1v2h-1zM363 494h2v2h-2zM387 494h2v2h-2zM104 496h2v1h-2zM109 496h1v1h-1zM118 496h3v1h-3zM122 496h2v1h-2zM131 496h2v1h-2zM139 496h1v1h-1zM151 496h1v1h-1zM154 496h10v1h-10zM165 496h6v1h-6zM173 496h1v1h-1zM176 496h1v1h-1zM179 496h1v1h-1zM182 496h1v1h-1zM191 496h1v1h-1zM203 496h4v1h-4zM210 496h2v1h-2zM215 496h3v1h-3zM226 496h2v1h-2zM276 496h1v1h-1zM424 496h2v1h-2zM106 497h1v1h-1zM115 497h3v4h-3zM124 497h1v1h-1zM128 497h2v1h-2zM133 497h1v1h-1zM136 497h1v1h-1zM151 497h3v1h-3zM157 497h4v1h-4zM162 497h2v1h-2zM165 497h8v1h-8zM180 497h2v1h-2zM183 497h2v1h-2zM186 497h2v1h-2zM189 497h2v1h-2zM201 497h2v1h-2zM204 497h3v1h-3zM212 497h1v1h-1zM216 497h2v1h-2zM219 497h2v1h-2zM228 497h1v1h-1zM241 497h2v1h-2zM258 497h1v1h-1zM298 497h1v1h-1zM341 497h3v1h-3zM360 497h2v1h-2zM372 497h2v1h-2zM395 497h3v1h-3zM107 498h2v5h-2zM112 498h1v2h-1zM119 498h2v2h-2zM127 498h1v2h-1zM148 498h1v3h-1zM152 498h2v2h-2zM155 498h2v2h-2zM158 498h4v2h-4zM164 498h3v2h-3zM168 498h3v2h-3zM179 498h1v2h-1zM201 498h3v2h-3zM210 498h2v2h-2zM221 498h1v2h-1zM255 498h1v2h-1zM268 498h2v2h-2zM274 498h2v3h-2zM279 498h1v2h-1zM299 498h2v2h-2zM307 498h3v2h-3zM347 498h1v2h-1zM356 498h1v2h-1zM372 498h3v2h-3zM377 498h1v2h-1zM412 498h2v2h-2zM110 500h2v1h-2zM121 500h3v1h-3zM125 500h2v1h-2zM128 500h5v1h-5zM152 500h5v1h-5zM158 500h3v1h-3zM167 500h3v1h-3zM171 500h5v1h-5zM177 500h3v1h-3zM188 500h1v1h-1zM195 500h2v3h-2zM207 500h3v1h-3zM215 500h4v1h-4zM228 500h1v1h-1zM244 500h3v1h-3zM252 500h1v1h-1zM267 500h1v1h-1zM270 500h1v1h-1zM311 500h2v1h-2zM320 500h2v1h-2zM334 500h1v3h-1zM348 500h2v1h-2zM354 500h2v1h-2zM365 500h1v1h-1zM381 500h2v1h-2zM441 500h1v1h-1zM116 501h3v2h-3zM121 501h1v3h-1zM124 501h1v2h-1zM149 501h5v2h-5zM155 501h3v2h-3zM160 501h5v2h-5zM167 501h1v3h-1zM170 501h1v2h-1zM176 501h3v2h-3zM180 501h2v2h-2zM185 501h1v2h-1zM207 501h2v2h-2zM212 501h1v2h-1zM238 501h2v2h-2zM241 501h2v3h-2zM256 501h2v2h-2zM262 501h2v2h-2zM307 501h3v2h-3zM402 501h2v2h-2zM417 501h1v2h-1zM109 503h1v1h-1zM148 503h1v2h-1zM152 503h3v2h-3zM157 503h4v1h-4zM162 503h2v1h-2zM173 503h6v1h-6zM182 503h6v1h-6zM189 503h2v2h-2zM206 503h1v1h-1zM210 503h2v2h-2zM219 503h2v1h-2zM228 503h1v1h-1zM237 503h1v1h-1zM268 503h2v1h-2zM277 503h2v1h-2zM280 503h2v1h-2zM283 503h2v1h-2zM295 503h1v2h-1zM343 503h1v1h-1zM375 503h2v1h-2zM112 504h6v1h-6zM145 504h1v1h-1zM157 504h7v1h-7zM165 504h2v1h-2zM168 504h5v1h-5zM174 504h2v1h-2zM179 504h1v1h-1zM200 504h1v1h-1zM204 504h3v1h-3zM213 504h3v1h-3zM222 504h2v1h-2zM234 504h1v1h-1zM244 504h2v1h-2zM255 504h1v1h-1zM261 504h1v1h-1zM273 504h1v1h-1zM320 504h2v1h-2zM325 504h1v1h-1zM331 504h3v1h-3zM354 504h2v1h-2zM372 504h2v1h-2zM386 504h1v1h-1zM392 504h1v1h-1zM529 504h1v1h-1zM118 505h3v2h-3zM145 505h4v2h-4zM151 505h6v2h-6zM160 505h1v2h-1zM162 505h2v2h-2zM167 505h6v2h-6zM177 505h2v2h-2zM188 505h1v2h-1zM191 505h1v2h-1zM213 505h2v2h-2zM225 505h1v2h-1zM246 505h1v2h-1zM258 505h3v2h-3zM265 505h2v2h-2zM285 505h2v2h-2zM296 505h2v2h-2zM301 505h1v2h-1zM310 505h3v2h-3zM340 505h1v2h-1zM346 505h2v2h-2zM356 505h1v2h-1zM398 505h1v3h-1zM115 507h4v1h-4zM122 507h2v1h-2zM140 507h2v1h-2zM143 507h2v1h-2zM149 507h3v1h-3zM154 507h4v1h-4zM160 507h4v1h-4zM167 507h1v3h-1zM170 507h1v3h-1zM176 507h4v1h-4zM182 507h1v1h-1zM186 507h2v3h-2zM195 507h2v1h-2zM210 507h2v1h-2zM221 507h1v1h-1zM232 507h2v1h-2zM235 507h2v1h-2zM241 507h2v1h-2zM249 507h1v1h-1zM308 507h2v1h-2zM334 507h1v1h-1zM346 507h1v3h-1zM350 507h1v1h-1zM383 507h1v1h-1zM389 507h1v1h-1zM408 507h2v1h-2zM421 507h2v1h-2zM107 508h2v2h-2zM112 508h1v2h-1zM143 508h9v2h-9zM154 508h7v2h-7zM162 508h2v2h-2zM173 508h1v2h-1zM176 508h1v2h-1zM179 508h1v2h-1zM183 508h2v2h-2zM189 508h3v2h-3zM198 508h2v2h-2zM216 508h2v2h-2zM222 508h2v2h-2zM225 508h4v2h-4zM234 508h1v2h-1zM237 508h1v2h-1zM262 508h2v2h-2zM265 508h2v3h-2zM282 508h1v2h-1zM290 508h2v2h-2zM329 508h2v2h-2zM375 508h2v2h-2zM378 508h2v2h-2zM402 508h2v2h-2zM420 508h1v2h-1zM140 510h2v1h-2zM143 510h3v1h-3zM148 510h1v1h-1zM151 510h4v1h-4zM158 510h4v1h-4zM165 510h2v1h-2zM168 510h5v1h-5zM174 510h2v1h-2zM177 510h5v1h-5zM185 510h1v1h-1zM188 510h1v1h-1zM212 510h1v1h-1zM258 510h1v1h-1zM283 510h2v2h-2zM344 510h2v1h-2zM366 510h2v1h-2zM371 510h3v1h-3zM494 510h2v1h-2zM134 511h2v1h-2zM137 511h3v1h-3zM142 511h1v1h-1zM145 511h1v1h-1zM148 511h12v1h-12zM161 511h4v1h-4zM167 511h6v1h-6zM176 511h4v1h-4zM182 511h7v1h-7zM195 511h2v1h-2zM200 511h1v1h-1zM203 511h6v1h-6zM210 511h2v1h-2zM264 511h1v1h-1zM293 511h2v1h-2zM298 511h1v3h-1zM302 511h2v1h-2zM308 511h2v1h-2zM332 511h3v1h-3zM351 511h2v1h-2zM386 511h1v3h-1zM436 511h2v1h-2zM524 511h2v1h-2zM137 512h2v2h-2zM145 512h7v2h-7zM154 512h1v2h-1zM157 512h1v2h-1zM160 512h4v2h-4zM165 512h3v2h-3zM170 512h3v2h-3zM174 512h2v3h-2zM180 512h2v2h-2zM198 512h5v2h-5zM204 512h2v2h-2zM213 512h2v2h-2zM246 512h1v2h-1zM270 512h1v2h-1zM280 512h2v2h-2zM335 512h2v2h-2zM372 512h2v2h-2zM375 512h2v2h-2zM546 512h2v2h-2zM140 514h2v1h-2zM143 514h5v1h-5zM149 514h3v1h-3zM154 514h3v1h-3zM158 514h2v1h-2zM162 514h11v1h-11zM177 514h6v1h-6zM185 514h6v1h-6zM200 514h1v1h-1zM210 514h2v1h-2zM219 514h2v3h-2zM250 514h2v1h-2zM279 514h1v1h-1zM283 514h2v1h-2zM286 514h1v1h-1zM295 514h1v1h-1zM307 514h1v1h-1zM317 514h2v3h-2zM344 514h3v1h-3zM362 514h1v1h-1zM365 514h1v1h-1zM380 514h1v3h-1zM390 514h2v1h-2zM411 514h1v3h-1zM414 514h1v1h-1zM436 514h2v1h-2zM515 514h2v1h-2zM520 514h1v1h-1zM137 515h3v2h-3zM142 515h3v2h-3zM146 515h3v2h-3zM151 515h1v2h-1zM154 515h7v2h-7zM162 515h6v2h-6zM171 515h3v2h-3zM183 515h3v2h-3zM194 515h1v2h-1zM201 515h2v2h-2zM225 515h1v2h-1zM237 515h3v2h-3zM241 515h2v2h-2zM247 515h2v2h-2zM274 515h2v2h-2zM296 515h2v2h-2zM302 515h2v3h-2zM325 515h1v2h-1zM332 515h3v2h-3zM337 515h1v2h-1zM343 515h1v2h-1zM346 515h1v3h-1zM354 515h2v2h-2zM371 515h1v2h-1zM375 515h2v2h-2zM438 515h1v2h-1zM454 515h2v2h-2zM457 515h2v2h-2zM468 515h1v2h-1zM476 515h2v2h-2zM578 515h1v2h-1zM134 517h2v1h-2zM139 517h4v1h-4zM145 517h9v1h-9zM157 517h3v4h-3zM165 517h3v1h-3zM170 517h6v1h-6zM182 517h1v1h-1zM189 517h2v1h-2zM192 517h2v2h-2zM195 517h2v2h-2zM200 517h1v1h-1zM203 517h1v1h-1zM206 517h1v1h-1zM213 517h6v1h-6zM224 517h2v1h-2zM240 517h1v2h-1zM261 517h3v1h-3zM270 517h1v1h-1zM277 517h2v1h-2zM328 517h1v1h-1zM331 517h1v2h-1zM341 517h3v1h-3zM365 517h1v1h-1zM368 517h1v1h-1zM381 517h2v1h-2zM390 517h2v2h-2zM441 517h1v1h-1zM549 517h2v1h-2zM139 518h3v3h-3zM148 518h4v3h-4zM154 518h1v3h-1zM162 518h11v1h-11zM174 518h3v1h-3zM210 518h3v1h-3zM216 518h2v1h-2zM226 518h2v1h-2zM246 518h1v1h-1zM258 518h1v1h-1zM283 518h2v3h-2zM325 518h1v1h-1zM353 518h1v1h-1zM360 518h2v1h-2zM374 518h1v1h-1zM380 518h1v1h-1zM386 518h1v1h-1zM512 518h2v1h-2zM143 519h3v2h-3zM161 519h15v2h-15zM177 519h3v2h-3zM182 519h1v2h-1zM188 519h1v3h-1zM191 519h1v3h-1zM212 519h1v2h-1zM215 519h1v2h-1zM221 519h1v2h-1zM224 519h1v2h-1zM229 519h2v2h-2zM237 519h3v2h-3zM244 519h2v3h-2zM249 519h3v2h-3zM255 519h1v2h-1zM264 519h1v2h-1zM274 519h2v2h-2zM286 519h1v2h-1zM316 519h1v2h-1zM329 519h2v2h-2zM338 519h2v2h-2zM366 519h2v2h-2zM369 519h2v2h-2zM390 519h3v2h-3zM398 519h1v2h-1zM484 519h1v2h-1zM542 519h1v2h-1zM575 519h1v2h-1zM136 521h1v1h-1zM143 521h2v1h-2zM148 521h1v1h-1zM151 521h3v1h-3zM158 521h3v1h-3zM162 521h12v1h-12zM179 521h3v1h-3zM183 521h2v1h-2zM195 521h3v1h-3zM200 521h4v1h-4zM215 521h3v1h-3zM222 521h2v1h-2zM231 521h1v1h-1zM247 521h2v3h-2zM256 521h2v1h-2zM268 521h2v1h-2zM298 521h3v1h-3zM302 521h2v1h-2zM317 521h2v1h-2zM328 521h1v1h-1zM331 521h3v1h-3zM356 521h1v1h-1zM359 521h1v1h-1zM384 521h2v1h-2zM392 521h1v1h-1zM432 521h1v1h-1zM448 521h2v1h-2zM491 521h2v1h-2zM506 521h2v1h-2zM130 522h1v2h-1zM134 522h2v2h-2zM139 522h1v2h-1zM142 522h6v2h-6zM152 522h2v3h-2zM155 522h6v2h-6zM162 522h6v2h-6zM170 522h4v2h-4zM177 522h3v2h-3zM183 522h3v2h-3zM188 522h6v2h-6zM204 522h2v2h-2zM209 522h1v2h-1zM212 522h1v2h-1zM216 522h2v3h-2zM219 522h2v2h-2zM241 522h5v2h-5zM250 522h3v3h-3zM261 522h1v2h-1zM270 522h3v2h-3zM279 522h1v2h-1zM283 522h2v2h-2zM287 522h2v2h-2zM295 522h1v3h-1zM299 522h2v3h-2zM305 522h2v2h-2zM310 522h1v2h-1zM314 522h2v2h-2zM323 522h2v2h-2zM329 522h2v2h-2zM340 522h1v2h-1zM346 522h1v2h-1zM353 522h6v2h-6zM387 522h2v2h-2zM398 522h1v2h-1zM402 522h3v2h-3zM411 522h3v2h-3zM530 522h2v2h-2zM549 522h2v2h-2zM148 524h1v1h-1zM155 524h5v1h-5zM161 524h1v1h-1zM164 524h9v1h-9zM174 524h6v1h-6zM182 524h1v1h-1zM186 524h3v1h-3zM194 524h1v1h-1zM200 524h3v1h-3zM210 524h3v1h-3zM225 524h1v1h-1zM235 524h2v1h-2zM238 524h2v1h-2zM241 524h2v1h-2zM268 524h2v1h-2zM274 524h2v1h-2zM280 524h2v1h-2zM286 524h1v1h-1zM290 524h2v1h-2zM313 524h1v1h-1zM334 524h1v1h-1zM338 524h2v1h-2zM343 524h3v1h-3zM351 524h2v1h-2zM359 524h1v1h-1zM369 524h2v2h-2zM372 524h2v2h-2zM381 524h2v2h-2zM384 524h2v4h-2zM399 524h2v1h-2zM404 524h1v1h-1zM410 524h2v1h-2zM415 524h2v1h-2zM436 524h2v1h-2zM481 524h1v1h-1zM517 524h1v1h-1zM133 525h1v1h-1zM136 525h1v1h-1zM142 525h1v1h-1zM145 525h3v1h-3zM151 525h6v1h-6zM158 525h9v1h-9zM170 525h1v1h-1zM174 525h3v1h-3zM179 525h3v1h-3zM183 525h2v1h-2zM188 525h1v1h-1zM198 525h3v1h-3zM209 525h1v1h-1zM212 525h4v1h-4zM224 525h1v1h-1zM226 525h5v1h-5zM232 525h2v1h-2zM235 525h5v1h-5zM244 525h2v1h-2zM250 525h2v1h-2zM268 525h3v3h-3zM279 525h3v1h-3zM314 525h2v1h-2zM317 525h2v1h-2zM323 525h2v1h-2zM337 525h1v3h-1zM340 525h1v1h-1zM347 525h3v1h-3zM362 525h1v1h-1zM365 525h1v1h-1zM375 525h2v1h-2zM399 525h3v1h-3zM408 525h2v3h-2zM412 525h2v1h-2zM423 525h1v1h-1zM450 525h1v1h-1zM506 525h2v1h-2zM530 525h2v1h-2zM561 525h2v1h-2zM137 526h2v2h-2zM146 526h3v3h-3zM151 526h3v2h-3zM155 526h13v2h-13zM170 526h13v2h-13zM185 526h13v2h-13zM200 526h1v2h-1zM203 526h1v2h-1zM207 526h2v2h-2zM210 526h2v2h-2zM213 526h2v2h-2zM221 526h3v2h-3zM231 526h1v2h-1zM237 526h3v2h-3zM241 526h2v2h-2zM252 526h1v2h-1zM258 526h1v2h-1zM264 526h1v2h-1zM276 526h1v2h-1zM279 526h1v2h-1zM285 526h1v2h-1zM290 526h2v2h-2zM299 526h2v2h-2zM307 526h1v2h-1zM313 526h1v2h-1zM319 526h1v2h-1zM328 526h3v2h-3zM340 526h4v2h-4zM346 526h1v2h-1zM357 526h2v2h-2zM363 526h2v2h-2zM374 526h3v2h-3zM378 526h3v2h-3zM392 526h1v2h-1zM395 526h1v2h-1zM404 526h1v2h-1zM420 526h1v2h-1zM430 526h2v2h-2zM435 526h1v2h-1zM511 526h1v2h-1zM552 526h2v2h-2zM567 526h2v2h-2zM142 528h1v1h-1zM152 528h3v1h-3zM157 528h1v1h-1zM160 528h1v1h-1zM162 528h3v1h-3zM167 528h7v1h-7zM176 528h9v1h-9zM188 528h1v1h-1zM197 528h4v1h-4zM204 528h3v1h-3zM212 528h6v1h-6zM219 528h5v1h-5zM225 528h3v1h-3zM234 528h4v1h-4zM240 528h3v1h-3zM244 528h2v1h-2zM249 528h3v1h-3zM253 528h2v1h-2zM261 528h1v1h-1zM270 528h1v1h-1zM274 528h2v1h-2zM282 528h4v1h-4zM289 528h1v1h-1zM292 528h1v1h-1zM296 528h2v1h-2zM301 528h1v1h-1zM314 528h2v1h-2zM320 528h2v1h-2zM325 528h3v1h-3zM337 528h3v1h-3zM348 528h2v1h-2zM351 528h2v1h-2zM359 528h3v1h-3zM368 528h1v1h-1zM372 528h2v3h-2zM377 528h3v1h-3zM383 528h1v1h-1zM389 528h1v4h-1zM399 528h2v1h-2zM404 528h3v1h-3zM410 528h1v1h-1zM415 528h2v3h-2zM460 528h2v1h-2zM478 528h1v1h-1zM490 528h1v1h-1zM523 528h1v1h-1zM527 528h2v1h-2zM540 528h2v1h-2zM551 528h1v1h-1zM139 529h3v2h-3zM146 529h2v2h-2zM151 529h1v2h-1zM154 529h6v2h-6zM162 529h2v2h-2zM165 529h2v2h-2zM171 529h2v3h-2zM174 529h9v2h-9zM186 529h2v3h-2zM191 529h13v2h-13zM206 529h3v2h-3zM210 529h9v2h-9zM222 529h7v2h-7zM234 529h1v2h-1zM238 529h3v2h-3zM243 529h4v2h-4zM250 529h2v2h-2zM253 529h5v3h-5zM261 529h3v2h-3zM274 529h3v2h-3zM280 529h2v2h-2zM283 529h4v2h-4zM292 529h4v2h-4zM299 529h6v2h-6zM307 529h1v2h-1zM310 529h1v2h-1zM317 529h3v2h-3zM326 529h3v2h-3zM332 529h6v2h-6zM340 529h3v2h-3zM347 529h4v2h-4zM354 529h2v2h-2zM375 529h2v2h-2zM378 529h2v2h-2zM381 529h2v2h-2zM393 529h2v2h-2zM404 529h1v2h-1zM407 529h1v2h-1zM411 529h1v3h-1zM448 529h2v2h-2zM520 529h1v2h-1zM548 529h1v2h-1zM563 529h1v2h-1zM566 529h1v2h-1zM573 529h2v2h-2zM591 529h2v2h-2zM154 531h1v2h-1zM161 531h1v1h-1zM167 531h3v1h-3zM176 531h1v1h-1zM179 531h6v1h-6zM189 531h2v1h-2zM192 531h2v1h-2zM195 531h3v1h-3zM200 531h6v1h-6zM207 531h2v1h-2zM210 531h15v1h-15zM228 531h1v1h-1zM232 531h5v1h-5zM241 531h2v1h-2zM244 531h3v1h-3zM249 531h3v1h-3zM259 531h2v1h-2zM262 531h5v1h-5zM270 531h4v2h-4zM276 531h4v1h-4zM282 531h3v1h-3zM293 531h2v1h-2zM298 531h1v1h-1zM304 531h1v1h-1zM307 531h3v2h-3zM316 531h1v1h-1zM320 531h2v1h-2zM323 531h2v1h-2zM326 531h5v1h-5zM332 531h3v2h-3zM337 531h1v2h-1zM340 531h1v2h-1zM344 531h9v1h-9zM354 531h3v1h-3zM359 531h1v1h-1zM362 531h1v1h-1zM366 531h3v1h-3zM377 531h1v2h-1zM399 531h2v2h-2zM435 531h1v1h-1zM438 531h1v1h-1zM441 531h1v1h-1zM451 531h2v1h-2zM460 531h2v1h-2zM476 531h2v1h-2zM529 531h1v1h-1zM534 531h2v2h-2zM552 531h2v1h-2zM594 531h2v1h-2zM165 532h2v1h-2zM174 532h3v1h-3zM179 532h1v1h-1zM186 532h5v1h-5zM192 532h3v1h-3zM200 532h1v3h-1zM204 532h3v1h-3zM209 532h1v1h-1zM212 532h12v1h-12zM225 532h10v1h-10zM237 532h1v1h-1zM241 532h6v1h-6zM249 532h4v1h-4zM255 532h4v1h-4zM261 532h1v1h-1zM264 532h1v1h-1zM267 532h1v1h-1zM277 532h6v1h-6zM285 532h8v1h-8zM301 532h4v3h-4zM314 532h2v1h-2zM317 532h5v1h-5zM323 532h3v3h-3zM328 532h3v1h-3zM343 532h1v1h-1zM346 532h2v1h-2zM353 532h3v1h-3zM357 532h3v1h-3zM363 532h3v1h-3zM368 532h6v1h-6zM383 532h3v1h-3zM407 532h1v1h-1zM410 532h1v1h-1zM415 532h2v1h-2zM418 532h2v4h-2zM429 532h3v1h-3zM436 532h2v3h-2zM448 532h2v1h-2zM469 532h2v1h-2zM479 532h2v1h-2zM493 532h1v1h-1zM497 532h2v1h-2zM515 532h3v3h-3zM537 532h2v1h-2zM160 533h1v2h-1zM168 533h5v2h-5zM185 533h4v2h-4zM194 533h3v2h-3zM203 533h4v2h-4zM209 533h7v2h-7zM218 533h4v2h-4zM224 533h5v2h-5zM232 533h6v2h-6zM240 533h3v2h-3zM244 533h21v2h-21zM267 533h3v2h-3zM271 533h9v2h-9zM283 533h4v2h-4zM289 533h3v2h-3zM293 533h6v2h-6zM307 533h9v2h-9zM319 533h1v2h-1zM329 533h3v2h-3zM335 533h6v2h-6zM346 533h4v2h-4zM354 533h3v2h-3zM359 533h1v2h-1zM368 533h1v5h-1zM371 533h3v2h-3zM377 533h4v2h-4zM383 533h12v2h-12zM398 533h6v2h-6zM405 533h2v2h-2zM408 533h3v2h-3zM421 533h2v2h-2zM426 533h1v2h-1zM430 533h2v2h-2zM433 533h2v2h-2zM441 533h1v2h-1zM445 533h2v2h-2zM450 533h1v2h-1zM484 533h3v2h-3zM496 533h1v2h-1zM505 533h1v2h-1zM511 533h1v2h-1zM521 533h2v2h-2zM532 533h1v2h-1zM534 533h3v2h-3zM539 533h1v2h-1zM549 533h2v2h-2zM570 533h2v2h-2zM575 533h1v2h-1zM585 533h2v2h-2zM590 533h1v2h-1zM157 535h1v1h-1zM165 535h2v1h-2zM173 535h1v1h-1zM182 535h3v1h-3zM186 535h2v1h-2zM189 535h5v1h-5zM197 535h1v1h-1zM206 535h1v1h-1zM210 535h8v1h-8zM221 535h10v1h-10zM232 535h8v1h-8zM241 535h9v1h-9zM252 535h4v1h-4zM258 535h6v1h-6zM265 535h5v1h-5zM271 535h3v1h-3zM276 535h1v1h-1zM279 535h3v1h-3zM286 535h3v1h-3zM290 535h8v1h-8zM299 535h9v1h-9zM310 535h1v1h-1zM313 535h3v1h-3zM317 535h2v1h-2zM320 535h8v1h-8zM331 535h6v1h-6zM340 535h1v1h-1zM344 535h10v1h-10zM356 535h1v1h-1zM359 535h4v1h-4zM365 535h1v3h-1zM371 535h1v1h-1zM374 535h9v1h-9zM384 535h9v1h-9zM399 535h2v1h-2zM402 535h2v1h-2zM408 535h2v1h-2zM412 535h2v1h-2zM423 535h1v1h-1zM433 535h3v1h-3zM438 535h3v1h-3zM442 535h2v1h-2zM448 535h2v1h-2zM456 535h6v1h-6zM465 535h1v1h-1zM472 535h4v1h-4zM479 535h5v1h-5zM491 535h3v1h-3zM502 535h3v1h-3zM506 535h2v1h-2zM509 535h3v1h-3zM533 535h1v3h-1zM540 535h2v1h-2zM543 535h3v1h-3zM551 535h1v1h-1zM555 535h2v1h-2zM564 535h2v1h-2zM569 535h1v1h-1zM572 535h1v1h-1zM591 535h2v1h-2zM170 536h1v2h-1zM176 536h1v2h-1zM185 536h1v2h-1zM194 536h6v2h-6zM201 536h2v3h-2zM209 536h1v2h-1zM212 536h1v2h-1zM215 536h1v2h-1zM218 536h1v2h-1zM222 536h2v2h-2zM237 536h1v2h-1zM241 536h6v2h-6zM249 536h6v2h-6zM256 536h2v2h-2zM261 536h1v3h-1zM264 536h15v2h-15zM280 536h2v2h-2zM283 536h3v2h-3zM289 536h1v3h-1zM293 536h11v2h-11zM307 536h3v2h-3zM311 536h3v2h-3zM316 536h3v2h-3zM320 536h2v2h-2zM323 536h3v2h-3zM328 536h7v2h-7zM337 536h6v2h-6zM346 536h4v2h-4zM354 536h9v2h-9zM371 536h10v2h-10zM383 536h4v2h-4zM390 536h5v2h-5zM396 536h5v2h-5zM402 536h6v2h-6zM411 536h1v2h-1zM414 536h4v2h-4zM421 536h3v2h-3zM426 536h4v2h-4zM432 536h3v2h-3zM439 536h3v2h-3zM444 536h6v2h-6zM453 536h3v2h-3zM460 536h2v2h-2zM463 536h3v2h-3zM472 536h1v2h-1zM475 536h1v2h-1zM482 536h8v2h-8zM493 536h1v2h-1zM499 536h1v2h-1zM505 536h1v2h-1zM512 536h5v2h-5zM520 536h1v3h-1zM523 536h1v2h-1zM536 536h1v2h-1zM539 536h3v2h-3zM543 536h2v2h-2zM548 536h1v2h-1zM551 536h6v2h-6zM558 536h2v2h-2zM563 536h3v2h-3zM567 536h2v2h-2zM578 536h1v2h-1zM582 536h2v2h-2zM588 536h3v2h-3zM594 536h3v2h-3zM216 538h2v1h-2zM235 538h2v1h-2zM244 538h2v1h-2zM250 538h2v1h-2zM253 538h3v1h-3zM267 538h1v1h-1zM270 538h1v1h-1zM274 538h3v1h-3zM279 538h1v3h-1zM282 538h1v1h-1zM292 538h4v1h-4zM308 538h2v1h-2zM311 538h6v1h-6zM319 538h3v1h-3zM326 538h2v1h-2zM331 538h4v1h-4zM338 538h6v1h-6zM346 538h8v1h-8zM356 538h1v1h-1zM359 538h1v1h-1zM362 538h3v1h-3zM371 538h6v1h-6zM378 538h8v1h-8zM389 538h1v1h-1zM393 538h12v1h-12zM408 538h2v1h-2zM411 538h4v1h-4zM420 538h13v1h-13zM436 538h3v1h-3zM442 538h5v1h-5zM451 538h11v1h-11zM463 538h5v1h-5zM469 538h3v1h-3zM475 538h3v1h-3zM479 538h6v1h-6zM490 538h1v3h-1zM493 538h6v1h-6zM502 538h15v1h-15zM524 538h2v3h-2zM530 538h3v1h-3zM536 538h6v1h-6zM543 538h3v1h-3zM548 538h4v1h-4zM554 538h3v1h-3zM558 538h11v1h-11zM572 538h1v1h-1zM575 538h3v1h-3zM581 538h3v1h-3zM585 538h2v1h-2zM590 538h4v3h-4zM231 539h1v2h-1zM237 539h1v2h-1zM252 539h1v2h-1zM262 539h2v2h-2zM268 539h2v2h-2zM271 539h5v2h-5zM285 539h1v2h-1zM293 539h3v2h-3zM301 539h1v2h-1zM305 539h2v2h-2zM310 539h1v2h-1zM323 539h6v2h-6zM338 539h5v2h-5zM347 539h1v2h-1zM351 539h2v2h-2zM359 539h3v2h-3zM365 539h1v2h-1zM369 539h5v2h-5zM377 539h6v2h-6zM393 539h5v2h-5zM401 539h3v2h-3zM405 539h2v2h-2zM411 539h6v2h-6zM418 539h5v2h-5zM424 539h5v2h-5zM430 539h2v2h-2zM433 539h3v2h-3zM438 539h6v2h-6zM445 539h2v2h-2zM448 539h2v2h-2zM453 539h15v2h-15zM469 539h6v2h-6zM476 539h5v2h-5zM482 539h6v2h-6zM497 539h6v2h-6zM505 539h7v2h-7zM515 539h8v2h-8zM529 539h1v2h-1zM532 539h13v2h-13zM546 539h2v2h-2zM549 539h5v2h-5zM555 539h5v2h-5zM563 539h1v2h-1zM566 539h1v2h-1zM570 539h2v2h-2zM573 539h2v2h-2zM578 539h3v2h-3zM582 539h2v2h-2zM585 539h3v2h-3zM596 539h1v2h-1z"/><path fill="#0000f4" d="M100 73h1v3h-1zM101 76h2v1h-2zM100 79h1v1h-1zM101 87h2v1h-2zM100 90h1v1h-1zM100 94h1v1h-1zM100 97h1v3h-1zM100 111h1v1h-1zM100 115h1v1h-1zM101 116h2v2h-2zM100 119h1v2h-1zM101 122h2v2h-2zM100 136h1v2h-1zM101 140h2v2h-2zM426 142h1v1h-1zM100 145h1v1h-1zM103 145h1v1h-1zM100 147h3v2h-3zM427 147h2v2h-2zM100 149h1v1h-1zM100 153h1v1h-1zM100 164h3v2h-3zM100 170h1v1h-1zM100 173h1v1h-1zM100 177h3v1h-3zM100 178h1v2h-1zM101 184h2v1h-2zM100 188h1v2h-1zM103 188h1v2h-1zM420 188h1v2h-1zM100 192h1v2h-1zM103 199h1v2h-1zM100 204h1v1h-1zM101 205h2v1h-2zM101 212h2v1h-2zM100 215h1v1h-1zM100 218h1v1h-1zM100 220h1v2h-1zM100 225h1v1h-1zM155 226h2v1h-2zM384 226h2v1h-2zM100 227h1v3h-1zM100 234h3v2h-3zM103 236h1v3h-1zM106 239h1v1h-1zM103 241h1v2h-1zM100 243h1v1h-1zM103 243h3v1h-3zM160 243h1v1h-1zM101 244h2v2h-2zM103 247h1v3h-1zM100 253h1v2h-1zM112 254h1v1h-1zM100 257h1v1h-1zM103 257h1v1h-1zM100 263h3v1h-3zM402 265h2v2h-2zM100 267h1v1h-1zM100 271h1v3h-1zM103 275h1v2h-1zM106 279h1v2h-1zM100 282h3v2h-3zM270 286h1v2h-1zM101 289h2v2h-2zM351 289h2v2h-2zM101 292h2v1h-2zM100 293h1v2h-1zM103 295h1v1h-1zM109 295h1v1h-1zM101 299h2v1h-2zM107 300h2v2h-2zM359 300h1v2h-1zM101 302h5v1h-5zM314 302h2v1h-2zM103 303h1v2h-1zM343 303h1v2h-1zM100 305h1v1h-1zM101 306h2v1h-2zM107 306h2v1h-2zM110 306h2v1h-2zM371 306h1v1h-1zM320 307h2v2h-2zM326 307h2v2h-2zM331 307h1v2h-1zM348 307h2v2h-2zM106 309h1v1h-1zM314 309h2v1h-2zM338 309h2v1h-2zM100 310h1v3h-1zM112 310h1v2h-1zM332 312h2v1h-2zM325 313h1v1h-1zM100 314h1v2h-1zM326 314h2v3h-2zM100 316h3v1h-3zM307 316h1v1h-1zM337 316h1v1h-1zM341 316h2v1h-2zM104 317h2v3h-2zM335 317h2v2h-2zM100 319h3v1h-3zM113 319h2v1h-2zM316 319h1v1h-1zM328 319h1v1h-1zM109 320h1v1h-1zM100 321h1v2h-1zM104 321h3v2h-3zM331 321h1v2h-1zM335 321h2v2h-2zM100 323h4v1h-4zM307 323h1v1h-1zM340 323h1v1h-1zM101 324h2v2h-2zM106 324h1v3h-1zM109 324h1v2h-1zM113 324h2v2h-2zM316 324h1v2h-1zM320 324h2v2h-2zM346 324h1v2h-1zM100 326h1v1h-1zM103 326h1v2h-1zM304 326h1v1h-1zM101 328h3v2h-3zM340 328h1v2h-1zM104 330h2v1h-2zM317 330h2v1h-2zM325 330h1v1h-1zM100 331h1v2h-1zM103 331h1v5h-1zM298 331h1v2h-1zM106 333h1v1h-1zM301 333h1v1h-1zM326 333h2v3h-2zM346 333h1v1h-1zM335 334h2v2h-2zM109 336h1v1h-1zM121 336h1v1h-1zM305 336h2v1h-2zM317 336h2v1h-2zM101 338h5v2h-5zM292 338h1v2h-1zM316 338h1v2h-1zM322 338h1v2h-1zM325 338h1v2h-1zM331 338h1v2h-1zM137 340h2v1h-2zM290 340h2v1h-2zM100 341h1v2h-1zM106 341h1v2h-1zM322 341h1v2h-1zM335 341h2v2h-2zM101 343h2v1h-2zM137 343h2v1h-2zM320 343h2v1h-2zM304 344h1v1h-1zM101 345h2v2h-2zM286 345h1v2h-1zM109 347h1v1h-1zM100 348h1v2h-1zM106 348h3v2h-3zM112 348h1v2h-1zM139 348h1v2h-1zM286 348h1v2h-1zM104 350h2v1h-2zM100 351h1v3h-1zM287 351h2v1h-2zM101 354h2v1h-2zM287 354h2v1h-2zM104 355h2v2h-2zM116 355h2v2h-2zM109 357h1v1h-1zM101 358h2v3h-2zM268 358h2v1h-2zM273 358h1v1h-1zM109 359h1v2h-1zM100 361h1v1h-1zM103 361h1v3h-1zM109 362h1v2h-1zM104 364h2v1h-2zM113 364h2v1h-2zM101 365h2v1h-2zM104 365h3v1h-3zM274 365h2v3h-2zM103 366h1v2h-1zM155 366h2v3h-2zM255 366h1v2h-1zM101 368h2v1h-2zM100 369h1v2h-1zM103 369h1v2h-1zM107 369h2v3h-2zM268 369h2v2h-2zM100 372h1v1h-1zM104 372h2v1h-2zM112 372h1v1h-1zM101 373h2v2h-2zM270 373h1v2h-1zM100 375h3v1h-3zM107 375h2v1h-2zM106 376h3v2h-3zM100 378h1v1h-1zM103 378h1v1h-1zM109 378h3v1h-3zM267 378h1v1h-1zM115 379h1v1h-1zM277 380h2v2h-2zM100 382h1v1h-1zM106 383h1v2h-1zM241 383h2v2h-2zM258 383h1v2h-1zM110 385h2v1h-2zM244 385h2v1h-2zM103 386h1v3h-1zM243 386h1v1h-1zM112 387h1v2h-1zM304 387h1v2h-1zM314 387h2v2h-2zM100 389h4v1h-4zM103 390h1v2h-1zM271 390h2v2h-2zM100 392h1v1h-1zM103 392h3v1h-3zM255 392h1v1h-1zM100 393h6v1h-6zM103 394h3v2h-3zM253 394h2v2h-2zM107 396h2v1h-2zM244 396h2v1h-2zM258 396h1v1h-1zM100 397h1v3h-1zM103 397h3v2h-3zM240 397h1v2h-1zM243 397h1v2h-1zM247 397h2v2h-2zM253 397h2v2h-2zM262 397h2v2h-2zM231 399h1v1h-1zM100 400h3v2h-3zM106 400h1v2h-1zM109 400h1v2h-1zM246 400h1v2h-1zM259 400h2v2h-2zM101 402h2v1h-2zM107 402h2v1h-2zM235 402h2v1h-2zM103 403h3v1h-3zM107 403h3v1h-3zM103 404h1v2h-1zM152 404h2v2h-2zM218 404h1v3h-1zM225 404h1v2h-1zM229 404h2v2h-2zM212 406h1v1h-1zM246 406h1v1h-1zM100 407h1v2h-1zM232 407h2v2h-2zM235 407h2v2h-2zM244 407h2v2h-2zM101 409h2v1h-2zM104 409h2v5h-2zM222 409h2v1h-2zM225 409h1v1h-1zM216 410h2v1h-2zM226 410h2v1h-2zM229 410h2v1h-2zM262 410h2v1h-2zM218 411h1v2h-1zM101 413h2v1h-2zM110 413h2v1h-2zM224 413h1v1h-1zM231 413h1v1h-1zM109 414h1v3h-1zM113 414h2v2h-2zM142 414h1v2h-1zM226 414h2v2h-2zM100 416h3v1h-3zM228 416h1v1h-1zM107 417h2v1h-2zM213 417h2v1h-2zM243 417h1v1h-1zM100 418h1v2h-1zM103 418h1v2h-1zM218 418h1v2h-1zM229 418h2v2h-2zM103 420h4v1h-4zM212 420h1v1h-1zM222 420h2v1h-2zM226 420h2v1h-2zM100 421h1v2h-1zM104 423h2v1h-2zM131 423h2v1h-2zM204 423h2v1h-2zM207 423h2v1h-2zM103 424h1v1h-1zM106 424h1v1h-1zM121 424h1v1h-1zM210 424h2v1h-2zM222 424h2v3h-2zM103 425h3v2h-3zM215 425h1v2h-1zM219 425h2v2h-2zM259 427h2v1h-2zM100 428h1v2h-1zM103 428h3v2h-3zM107 428h2v2h-2zM104 430h2v2h-2zM118 430h1v1h-1zM189 430h2v1h-2zM201 430h2v2h-2zM207 430h2v1h-2zM210 430h2v1h-2zM101 431h2v1h-2zM204 431h2v1h-2zM216 431h3v1h-3zM282 431h1v1h-1zM100 432h4v2h-4zM173 432h1v2h-1zM183 432h2v2h-2zM195 432h2v2h-2zM200 432h3v2h-3zM222 432h2v2h-2zM107 434h2v1h-2zM112 434h1v1h-1zM151 434h1v1h-1zM198 434h2v1h-2zM203 434h1v3h-1zM215 434h3v1h-3zM101 435h2v2h-2zM110 435h2v2h-2zM189 435h2v2h-2zM206 435h1v2h-1zM109 437h1v1h-1zM113 437h2v1h-2zM197 437h1v1h-1zM201 437h2v1h-2zM204 437h2v2h-2zM101 438h2v1h-2zM140 438h2v1h-2zM192 438h2v1h-2zM195 438h2v1h-2zM103 439h3v2h-3zM119 439h2v2h-2zM212 439h1v2h-1zM101 441h2v1h-2zM104 441h2v1h-2zM116 441h2v1h-2zM128 441h2v1h-2zM186 441h3v1h-3zM195 441h5v1h-5zM106 442h1v2h-1zM198 442h2v2h-2zM101 444h3v1h-3zM134 444h2v1h-2zM151 444h1v1h-1zM201 444h2v1h-2zM100 445h1v3h-1zM103 445h1v3h-1zM106 445h1v1h-1zM177 445h2v1h-2zM180 445h2v1h-2zM185 445h1v1h-1zM189 445h2v1h-2zM194 445h1v1h-1zM107 446h2v2h-2zM128 446h2v2h-2zM155 446h2v2h-2zM110 448h2v3h-2zM194 448h1v1h-1zM197 448h1v1h-1zM200 448h3v1h-3zM101 449h2v2h-2zM180 449h2v3h-2zM188 449h1v2h-1zM191 449h3v2h-3zM185 451h1v1h-1zM212 451h1v1h-1zM100 452h1v1h-1zM103 452h3v1h-3zM180 452h3v1h-3zM191 452h3v1h-3zM209 452h1v1h-1zM101 453h2v3h-2zM106 453h3v2h-3zM176 453h1v2h-1zM152 455h2v1h-2zM168 455h2v1h-2zM179 455h1v1h-1zM182 455h1v1h-1zM186 455h2v3h-2zM103 456h1v3h-1zM107 456h2v2h-2zM131 456h2v2h-2zM137 456h2v2h-2zM149 456h2v2h-2zM157 456h1v2h-1zM180 456h3v2h-3zM109 458h1v1h-1zM136 458h1v1h-1zM170 458h1v1h-1zM180 458h5v1h-5zM189 458h2v1h-2zM106 459h1v1h-1zM133 459h1v1h-1zM145 459h1v1h-1zM152 459h2v3h-2zM155 459h2v1h-2zM168 459h2v3h-2zM180 459h2v4h-2zM249 459h1v1h-1zM101 460h3v2h-3zM107 460h3v2h-3zM103 462h3v1h-3zM113 462h2v1h-2zM136 462h1v3h-1zM154 462h1v1h-1zM165 462h3v1h-3zM170 462h3v1h-3zM174 462h2v1h-2zM103 463h1v2h-1zM148 463h1v2h-1zM152 463h5v2h-5zM164 463h1v2h-1zM174 463h6v2h-6zM189 463h2v2h-2zM110 465h2v1h-2zM121 465h1v1h-1zM143 465h2v1h-2zM146 465h2v1h-2zM149 465h2v1h-2zM154 465h1v1h-1zM160 465h1v1h-1zM162 465h2v1h-2zM168 465h2v1h-2zM176 465h1v1h-1zM127 466h3v1h-3zM131 466h2v1h-2zM148 466h1v1h-1zM152 466h2v3h-2zM155 466h2v1h-2zM165 466h3v1h-3zM177 466h2v1h-2zM183 466h2v1h-2zM103 467h6v2h-6zM110 467h2v2h-2zM136 467h1v2h-1zM140 467h2v2h-2zM160 467h1v2h-1zM162 467h3v2h-3zM167 467h4v2h-4zM176 467h1v2h-1zM179 467h1v2h-1zM186 467h2v2h-2zM103 469h1v3h-1zM106 469h1v1h-1zM109 469h1v3h-1zM128 469h2v1h-2zM137 469h2v1h-2zM168 469h2v1h-2zM173 469h1v1h-1zM180 469h2v1h-2zM189 469h2v1h-2zM112 470h1v2h-1zM158 470h2v2h-2zM164 470h4v2h-4zM171 470h2v2h-2zM176 470h3v2h-3zM182 470h1v2h-1zM185 470h1v3h-1zM109 472h3v1h-3zM134 472h2v1h-2zM155 472h5v1h-5zM162 472h2v1h-2zM167 472h1v1h-1zM174 472h3v1h-3zM103 473h3v2h-3zM116 473h2v2h-2zM140 473h2v3h-2zM143 473h2v2h-2zM162 473h3v2h-3zM168 473h2v2h-2zM174 473h2v2h-2zM180 473h2v2h-2zM192 473h2v2h-2zM103 475h6v1h-6zM110 475h3v1h-3zM128 475h2v2h-2zM133 475h4v1h-4zM157 475h1v1h-1zM165 475h5v1h-5zM106 476h1v1h-1zM109 476h1v1h-1zM137 476h2v1h-2zM154 476h1v1h-1zM158 476h2v1h-2zM161 476h1v1h-1zM167 476h1v1h-1zM170 476h1v1h-1zM183 476h2v1h-2zM103 477h1v2h-1zM107 477h5v2h-5zM121 477h1v3h-1zM131 477h5v2h-5zM146 477h2v2h-2zM157 477h1v2h-1zM160 477h1v2h-1zM164 477h1v3h-1zM168 477h2v2h-2zM171 477h3v2h-3zM179 477h1v2h-1zM107 479h2v1h-2zM118 479h1v1h-1zM131 479h2v1h-2zM155 479h2v1h-2zM158 479h2v1h-2zM167 479h1v1h-1zM170 479h1v1h-1zM104 480h2v2h-2zM109 480h1v2h-1zM127 480h1v2h-1zM148 480h3v2h-3zM164 480h3v3h-3zM171 480h2v2h-2zM179 480h1v2h-1zM185 480h1v2h-1zM103 482h1v1h-1zM110 482h2v1h-2zM121 482h3v1h-3zM125 482h2v1h-2zM133 482h1v1h-1zM145 482h3v1h-3zM158 482h2v1h-2zM173 482h1v1h-1zM107 483h2v1h-2zM110 483h5v1h-5zM118 483h1v1h-1zM121 483h1v1h-1zM130 483h1v3h-1zM133 483h3v1h-3zM151 483h1v1h-1zM154 483h1v1h-1zM161 483h1v1h-1zM164 483h1v1h-1zM168 483h2v1h-2zM176 483h1v1h-1zM109 484h1v3h-1zM116 484h6v2h-6zM133 484h1v2h-1zM139 484h6v2h-6zM146 484h3v3h-3zM152 484h2v2h-2zM164 484h3v2h-3zM171 484h2v2h-2zM229 484h2v2h-2zM106 486h1v1h-1zM128 486h5v1h-5zM137 486h2v1h-2zM143 486h2v1h-2zM157 486h1v1h-1zM170 486h1v1h-1zM174 486h2v3h-2zM103 487h1v2h-1zM107 487h2v2h-2zM127 487h1v2h-1zM133 487h1v2h-1zM140 487h3v2h-3zM146 487h2v2h-2zM162 487h2v2h-2zM165 487h2v2h-2zM103 489h4v1h-4zM121 489h3v1h-3zM137 489h2v1h-2zM145 489h4v1h-4zM158 489h2v1h-2zM161 489h1v1h-1zM104 490h2v1h-2zM130 490h1v1h-1zM134 490h2v1h-2zM139 490h1v3h-1zM146 490h3v1h-3zM155 490h2v1h-2zM106 491h1v2h-1zM122 491h2v5h-2zM128 491h2v2h-2zM133 491h1v2h-1zM142 491h1v2h-1zM155 491h3v2h-3zM161 491h3v2h-3zM168 491h2v2h-2zM179 491h1v2h-1zM183 491h2v2h-2zM103 493h1v1h-1zM109 493h3v1h-3zM118 493h1v3h-1zM127 493h1v1h-1zM134 493h5v1h-5zM143 493h2v1h-2zM154 493h3v1h-3zM160 493h1v3h-1zM162 493h2v1h-2zM182 493h1v1h-1zM104 494h2v2h-2zM115 494h1v2h-1zM125 494h3v2h-3zM134 494h3v2h-3zM139 494h1v2h-1zM154 494h1v2h-1zM157 494h1v2h-1zM186 494h2v2h-2zM106 496h3v1h-3zM112 496h6v1h-6zM121 496h1v2h-1zM124 496h7v1h-7zM149 496h2v1h-2zM164 496h1v1h-1zM177 496h2v1h-2zM188 496h1v1h-1zM201 496h2v1h-2zM109 497h1v3h-1zM113 497h2v4h-2zM118 497h1v3h-1zM125 497h3v1h-3zM130 497h1v1h-1zM134 497h2v1h-2zM161 497h1v1h-1zM122 498h5v2h-5zM128 498h2v2h-2zM131 498h2v2h-2zM136 498h1v2h-1zM146 498h2v2h-2zM149 498h3v3h-3zM157 498h1v2h-1zM180 498h2v2h-2zM222 498h2v2h-2zM228 498h1v2h-1zM106 500h1v1h-1zM119 500h2v1h-2zM124 500h1v1h-1zM127 500h1v1h-1zM164 500h1v1h-1zM265 500h2v1h-2zM122 501h2v3h-2zM125 501h3v2h-3zM143 501h2v3h-2zM146 501h3v2h-3zM154 501h1v2h-1zM158 501h2v2h-2zM112 503h6v1h-6zM119 503h2v1h-2zM146 503h2v2h-2zM149 503h2v1h-2zM161 503h1v1h-1zM164 503h1v1h-1zM170 503h1v1h-1zM109 504h1v1h-1zM118 504h1v1h-1zM121 504h1v1h-1zM142 504h1v1h-1zM149 504h3v1h-3zM384 504h2v1h-2zM113 505h3v2h-3zM149 505h2v2h-2zM161 505h1v2h-1zM176 505h1v2h-1zM185 505h1v2h-1zM106 507h1v3h-1zM110 507h2v1h-2zM119 507h2v1h-2zM145 507h4v1h-4zM152 507h2v1h-2zM168 507h2v1h-2zM109 508h3v2h-3zM118 508h1v4h-1zM161 508h1v2h-1zM165 508h2v2h-2zM203 508h1v2h-1zM113 510h2v1h-2zM133 510h1v1h-1zM142 510h1v1h-1zM146 510h2v1h-2zM149 510h2v1h-2zM155 510h3v1h-3zM110 511h2v1h-2zM143 511h2v1h-2zM160 511h1v1h-1zM173 511h3v1h-3zM228 511h1v1h-1zM140 512h5v2h-5zM152 512h2v5h-2zM155 512h2v2h-2zM158 512h2v2h-2zM164 512h1v2h-1zM176 512h1v3h-1zM110 514h2v1h-2zM113 514h2v1h-2zM148 514h1v1h-1zM157 514h1v1h-1zM161 514h1v1h-1zM237 514h1v1h-1zM133 515h1v3h-1zM136 515h1v2h-1zM140 515h2v2h-2zM145 515h1v2h-1zM149 515h2v2h-2zM168 515h3v2h-3zM189 515h2v2h-2zM136 517h3v1h-3zM143 517h2v1h-2zM154 517h3v1h-3zM222 517h2v1h-2zM130 518h1v1h-1zM136 518h1v1h-1zM143 518h5v1h-5zM152 518h2v3h-2zM155 518h2v3h-2zM161 518h1v1h-1zM177 518h2v1h-2zM134 519h2v3h-2zM146 519h2v2h-2zM160 519h1v2h-1zM142 521h1v1h-1zM145 521h1v1h-1zM149 521h2v1h-2zM154 521h1v4h-1zM157 521h1v1h-1zM182 521h1v1h-1zM137 522h2v2h-2zM149 522h3v3h-3zM161 522h1v2h-1zM139 524h1v1h-1zM160 524h1v1h-1zM162 524h2v1h-2zM335 524h2v1h-2zM131 525h2v1h-2zM140 525h2v3h-2zM148 525h1v1h-1zM168 525h2v3h-2zM171 525h3v1h-3zM177 525h2v1h-2zM182 525h1v1h-1zM201 525h2v1h-2zM145 526h1v2h-1zM154 526h1v2h-1zM183 526h2v2h-2zM131 528h2v1h-2zM136 528h1v1h-1zM139 528h3v1h-3zM149 528h3v1h-3zM161 528h1v1h-1zM165 528h2v1h-2zM174 528h2v1h-2zM255 528h1v1h-1zM488 528h2v1h-2zM130 529h1v2h-1zM145 529h1v2h-1zM149 529h2v2h-2zM164 529h1v2h-1zM167 529h4v2h-4zM173 529h1v2h-1zM188 529h3v2h-3zM204 529h2v2h-2zM221 529h1v2h-1zM235 529h2v2h-2zM247 529h2v3h-2zM392 529h1v2h-1zM460 529h2v2h-2zM145 531h3v1h-3zM151 531h1v1h-1zM155 531h5v1h-5zM162 531h2v1h-2zM170 531h1v1h-1zM173 531h3v1h-3zM191 531h1v2h-1zM194 531h1v1h-1zM206 531h1v1h-1zM209 531h1v1h-1zM225 531h1v1h-1zM229 531h2v1h-2zM237 531h3v1h-3zM357 531h2v1h-2zM369 531h2v1h-2zM146 532h3v1h-3zM155 532h2v1h-2zM158 532h3v1h-3zM162 532h3v1h-3zM170 532h4v1h-4zM177 532h2v1h-2zM180 532h6v1h-6zM195 532h3v1h-3zM201 532h3v1h-3zM207 532h2v1h-2zM210 532h2v1h-2zM224 532h1v1h-1zM240 532h1v1h-1zM265 532h2v1h-2zM274 532h2v1h-2zM351 532h2v1h-2zM356 532h1v1h-1zM154 533h4v2h-4zM161 533h7v2h-7zM176 533h1v3h-1zM180 533h2v2h-2zM189 533h5v2h-5zM216 533h2v2h-2zM222 533h2v2h-2zM229 533h3v2h-3zM238 533h2v2h-2zM270 533h1v3h-1zM280 533h2v2h-2zM305 533h2v2h-2zM328 533h1v2h-1zM341 533h2v2h-2zM344 533h2v2h-2zM353 533h1v2h-1zM360 533h2v2h-2zM369 533h2v3h-2zM415 533h2v2h-2zM170 535h3v1h-3zM179 535h3v1h-3zM188 535h1v1h-1zM194 535h3v1h-3zM198 535h2v1h-2zM201 535h5v1h-5zM207 535h2v1h-2zM219 535h2v1h-2zM231 535h1v1h-1zM240 535h1v1h-1zM264 535h1v1h-1zM282 535h4v1h-4zM289 535h1v1h-1zM316 535h1v1h-1zM328 535h3v1h-3zM337 535h3v1h-3zM354 535h2v1h-2zM366 535h2v3h-2zM383 535h1v1h-1zM404 535h1v1h-1zM453 535h1v1h-1zM171 536h3v2h-3zM180 536h3v2h-3zM189 536h5v2h-5zM203 536h6v2h-6zM213 536h2v2h-2zM216 536h2v2h-2zM224 536h5v2h-5zM234 536h3v2h-3zM238 536h3v2h-3zM255 536h1v2h-1zM262 536h2v3h-2zM279 536h1v2h-1zM282 536h1v2h-1zM286 536h1v2h-1zM290 536h3v2h-3zM305 536h2v2h-2zM310 536h1v3h-1zM319 536h1v2h-1zM322 536h1v2h-1zM326 536h2v2h-2zM335 536h2v2h-2zM343 536h1v2h-1zM351 536h3v2h-3zM389 536h1v2h-1zM395 536h1v2h-1zM401 536h1v2h-1zM418 536h3v2h-3zM468 536h1v5h-1zM478 536h3v2h-3zM502 536h1v2h-1zM200 538h1v1h-1zM206 538h1v1h-1zM212 538h3v1h-3zM228 538h1v1h-1zM232 538h3v1h-3zM237 538h1v1h-1zM241 538h2v1h-2zM247 538h2v1h-2zM252 538h1v1h-1zM256 538h2v1h-2zM259 538h2v1h-2zM265 538h2v1h-2zM271 538h2v1h-2zM277 538h2v1h-2zM280 538h2v1h-2zM285 538h1v1h-1zM290 538h2v1h-2zM296 538h12v1h-12zM317 538h2v1h-2zM323 538h2v1h-2zM328 538h3v1h-3zM354 538h2v3h-2zM357 538h2v1h-2zM360 538h2v1h-2zM366 538h5v1h-5zM377 538h1v1h-1zM386 538h3v1h-3zM390 538h3v3h-3zM405 538h3v1h-3zM410 538h1v1h-1zM417 538h3v1h-3zM433 538h3v1h-3zM441 538h1v1h-1zM447 538h3v1h-3zM462 538h1v1h-1zM499 538h3v1h-3zM517 538h1v1h-1zM521 538h2v1h-2zM533 538h1v1h-1zM594 538h2v1h-2zM218 539h1v2h-1zM244 539h2v2h-2zM250 539h2v2h-2zM261 539h1v2h-1zM267 539h1v2h-1zM282 539h3v2h-3zM287 539h2v2h-2zM299 539h2v2h-2zM304 539h1v2h-1zM307 539h3v2h-3zM311 539h5v2h-5zM317 539h5v2h-5zM331 539h6v2h-6zM348 539h3v2h-3zM362 539h1v2h-1zM366 539h3v2h-3zM375 539h2v2h-2zM384 539h2v2h-2zM387 539h2v2h-2zM398 539h3v2h-3zM404 539h1v2h-1zM407 539h4v2h-4zM417 539h1v2h-1zM423 539h1v2h-1zM429 539h1v2h-1zM444 539h1v2h-1zM451 539h2v2h-2zM475 539h1v2h-1zM481 539h1v2h-1zM488 539h2v2h-2zM496 539h1v2h-1zM503 539h2v2h-2zM514 539h1v2h-1zM526 539h3v2h-3zM530 539h2v2h-2zM545 539h1v2h-1zM554 539h1v2h-1zM560 539h3v2h-3zM564 539h2v2h-2z"/><path fill="#0023ff" d="M101 98h2v2h-2zM101 152h2v1h-2zM100 159h1v1h-1zM101 166h2v1h-2zM101 191h2v1h-2zM100 201h1v1h-1zM100 219h1v1h-1zM101 223h2v2h-2zM101 237h2v2h-2zM100 247h1v1h-1zM100 260h1v1h-1zM100 264h1v1h-1zM100 277h3v1h-3zM100 278h1v1h-1zM103 281h1v1h-1zM100 285h1v1h-1zM101 298h2v1h-2zM100 307h1v2h-1zM101 310h2v2h-2zM338 314h2v2h-2zM100 317h1v2h-1zM103 324h1v2h-1zM100 336h1v1h-1zM101 341h2v2h-2zM104 341h2v2h-2zM100 343h1v1h-1zM100 350h1v1h-1zM100 359h1v2h-1zM290 361h2v1h-2zM100 362h3v2h-3zM100 366h1v2h-1zM100 371h3v1h-3zM101 378h2v1h-2zM100 380h1v2h-1zM103 382h1v1h-1zM100 383h1v2h-1zM100 385h3v1h-3zM100 386h1v1h-1zM101 387h2v2h-2zM100 394h1v2h-1zM250 394h2v2h-2zM100 396h3v1h-3zM107 397h2v2h-2zM100 402h1v1h-1zM100 403h3v1h-3zM100 404h1v3h-1zM100 409h1v1h-1zM101 410h2v1h-2zM103 411h1v2h-1zM104 416h2v1h-2zM106 418h1v2h-1zM100 420h1v1h-1zM101 421h2v2h-2zM101 430h3v1h-3zM136 430h1v1h-1zM216 430h2v1h-2zM104 432h2v2h-2zM189 432h2v2h-2zM209 432h3v2h-3zM100 434h1v1h-1zM103 434h1v3h-1zM212 434h1v1h-1zM100 437h1v1h-1zM100 439h3v2h-3zM103 441h1v1h-1zM100 442h1v2h-1zM188 442h1v2h-1zM192 446h2v2h-2zM104 448h2v3h-2zM185 448h1v1h-1zM101 451h2v1h-2zM160 453h1v2h-1zM171 453h2v2h-2zM179 453h1v2h-1zM100 455h1v1h-1zM103 455h1v1h-1zM180 455h2v1h-2zM185 455h1v1h-1zM173 456h3v2h-3zM101 458h2v1h-2zM112 458h1v1h-1zM116 458h2v1h-2zM103 459h1v1h-1zM149 460h2v2h-2zM177 460h3v2h-3zM101 462h2v1h-2zM106 463h1v2h-1zM142 463h1v2h-1zM100 465h1v1h-1zM103 465h1v1h-1zM173 465h3v1h-3zM101 466h3v1h-3zM143 466h2v1h-2zM174 467h2v2h-2zM164 469h3v1h-3zM171 469h2v1h-2zM101 470h2v2h-2zM104 470h2v2h-2zM168 470h2v2h-2zM103 472h1v1h-1zM170 472h1v4h-1zM177 472h2v1h-2zM161 473h1v2h-1zM167 473h1v2h-1zM149 475h3v1h-3zM154 475h1v1h-1zM164 475h1v1h-1zM104 476h2v3h-2zM145 476h1v1h-1zM168 476h2v1h-2zM101 477h2v2h-2zM161 477h1v2h-1zM176 477h1v2h-1zM106 479h1v3h-1zM139 479h1v1h-1zM151 480h1v2h-1zM167 480h1v3h-1zM116 482h2v1h-2zM152 482h2v1h-2zM101 483h2v1h-2zM104 483h2v1h-2zM145 483h1v1h-1zM155 483h2v1h-2zM106 484h1v2h-1zM127 484h1v2h-1zM151 484h1v2h-1zM167 484h1v2h-1zM112 486h1v1h-1zM118 486h1v1h-1zM145 486h1v1h-1zM151 486h3v1h-3zM115 487h1v2h-1zM139 487h1v2h-1zM155 487h3v2h-3zM109 489h3v1h-3zM119 489h2v1h-2zM127 489h1v1h-1zM149 489h2v1h-2zM154 489h1v1h-1zM157 489h1v1h-1zM160 489h1v1h-1zM107 490h2v1h-2zM131 490h2v3h-2zM142 490h3v1h-3zM152 490h2v1h-2zM168 490h2v1h-2zM104 491h2v2h-2zM107 491h3v2h-3zM115 491h1v2h-1zM121 491h1v2h-1zM137 491h2v2h-2zM152 491h3v2h-3zM106 493h1v1h-1zM139 493h1v1h-1zM142 493h1v1h-1zM151 493h1v1h-1zM106 494h4v2h-4zM130 494h3v2h-3zM140 494h2v3h-2zM149 494h2v2h-2zM103 496h1v1h-1zM110 496h2v1h-2zM133 496h4v1h-4zM107 497h2v1h-2zM112 497h1v1h-1zM119 497h2v1h-2zM122 497h2v1h-2zM139 497h1v1h-1zM145 497h1v1h-1zM148 497h1v1h-1zM154 497h3v1h-3zM110 498h2v2h-2zM121 498h1v2h-1zM130 498h1v2h-1zM133 498h1v3h-1zM112 500h1v1h-1zM145 500h3v1h-3zM110 501h5v2h-5zM119 501h2v2h-2zM128 501h2v2h-2zM145 501h1v3h-1zM118 503h1v1h-1zM124 503h3v2h-3zM142 503h1v1h-1zM151 503h1v1h-1zM155 503h2v1h-2zM107 504h2v1h-2zM128 504h2v1h-2zM139 504h1v1h-1zM143 504h2v1h-2zM107 505h3v2h-3zM116 505h2v2h-2zM122 505h3v2h-3zM127 505h1v2h-1zM142 505h3v2h-3zM109 507h1v1h-1zM112 507h3v1h-3zM124 507h1v1h-1zM128 507h2v1h-2zM139 507h1v1h-1zM113 508h2v2h-2zM121 508h1v2h-1zM137 508h5v2h-5zM152 508h2v2h-2zM168 508h2v2h-2zM107 510h2v1h-2zM112 510h1v1h-1zM116 510h2v1h-2zM139 510h1v1h-1zM146 511h2v1h-2zM137 514h2v1h-2zM131 515h2v2h-2zM133 518h1v1h-1zM130 519h1v2h-1zM137 519h2v2h-2zM142 519h1v2h-1zM146 521h2v1h-2zM155 521h2v1h-2zM127 522h1v3h-1zM136 522h1v2h-1zM140 522h2v2h-2zM148 522h1v2h-1zM130 524h1v2h-1zM133 524h1v1h-1zM136 524h3v1h-3zM140 524h8v1h-8zM137 525h3v1h-3zM143 525h2v3h-2zM149 525h2v3h-2zM131 526h2v2h-2zM136 526h1v2h-1zM139 526h1v2h-1zM127 528h1v3h-1zM130 528h1v1h-1zM155 528h2v1h-2zM158 528h2v1h-2zM137 529h2v2h-2zM143 529h2v3h-2zM160 529h1v3h-1zM139 531h1v1h-1zM149 531h2v1h-2zM152 531h2v1h-2zM164 531h3v1h-3zM177 531h2v1h-2zM143 532h3v1h-3zM157 532h1v1h-1zM161 532h1v1h-1zM145 533h1v2h-1zM151 533h1v2h-1zM158 533h2v2h-2zM174 533h2v2h-2zM177 533h2v6h-2zM182 533h3v2h-3zM197 533h1v2h-1zM201 533h2v2h-2zM243 533h1v2h-1zM151 535h3v1h-3zM160 535h1v1h-1zM168 535h2v1h-2zM185 535h1v1h-1zM209 535h1v1h-1zM218 535h1v1h-1zM250 535h2v1h-2zM277 535h2v1h-2zM162 536h2v2h-2zM167 536h3v2h-3zM183 536h2v2h-2zM186 536h3v2h-3zM200 536h1v2h-1zM210 536h2v3h-2zM219 536h2v2h-2zM229 536h5v2h-5zM247 536h2v2h-2zM259 536h2v2h-2zM314 536h2v2h-2zM408 536h2v2h-2zM185 538h1v1h-1zM195 538h2v1h-2zM198 538h2v1h-2zM203 538h3v1h-3zM218 538h1v1h-1zM225 538h3v1h-3zM238 538h2v1h-2zM243 538h1v1h-1zM249 538h1v1h-1zM258 538h1v1h-1zM264 538h1v3h-1zM268 538h2v1h-2zM273 538h1v1h-1zM287 538h2v1h-2zM322 538h1v1h-1zM335 538h3v1h-3zM344 538h2v1h-2zM569 538h1v1h-1zM189 539h2v2h-2zM197 539h1v2h-1zM200 539h1v2h-1zM229 539h2v2h-2zM247 539h3v2h-3zM253 539h2v2h-2zM256 539h5v2h-5zM280 539h2v2h-2zM290 539h3v2h-3zM296 539h3v2h-3zM302 539h2v2h-2zM316 539h1v2h-1zM329 539h2v2h-2zM337 539h1v2h-1zM343 539h1v2h-1zM346 539h1v2h-1zM353 539h1v2h-1zM374 539h1v2h-1zM386 539h1v2h-1zM389 539h1v2h-1zM436 539h2v2h-2zM450 539h1v2h-1zM548 539h1v2h-1zM576 539h2v2h-2z"/><path fill="#004dff" d="M101 247h2v1h-2zM100 279h1v2h-1zM100 299h1v1h-1zM101 303h2v2h-2zM100 328h1v2h-1zM101 334h2v2h-2zM104 334h2v2h-2zM100 338h1v2h-1zM100 344h1v1h-1zM100 355h1v2h-1zM100 364h1v1h-1zM100 387h1v2h-1zM100 413h1v3h-1zM104 421h2v2h-2zM100 427h1v1h-1zM100 435h1v2h-1zM103 442h1v2h-1zM101 446h2v3h-2zM100 449h1v2h-1zM100 456h1v2h-1zM100 462h1v1h-1zM177 462h2v1h-2zM110 466h2v1h-2zM101 467h2v2h-2zM170 470h1v2h-1zM165 473h2v2h-2zM113 475h2v1h-2zM101 476h3v1h-3zM165 476h2v1h-2zM103 479h1v1h-1zM160 479h2v1h-2zM160 480h1v2h-1zM155 482h2v1h-2zM161 482h1v1h-1zM152 483h2v1h-2zM157 483h1v1h-1zM103 484h3v2h-3zM149 484h2v2h-2zM154 484h1v2h-1zM158 484h2v2h-2zM104 486h2v1h-2zM106 487h1v2h-1zM149 487h3v2h-3zM154 487h1v2h-1zM158 487h2v2h-2zM133 489h1v2h-1zM139 489h1v1h-1zM142 489h1v1h-1zM103 490h1v1h-1zM106 490h1v1h-1zM137 490h2v1h-2zM140 490h2v3h-2zM143 491h3v2h-3zM152 493h2v1h-2zM124 494h1v2h-1zM137 494h2v2h-2zM151 494h1v2h-1zM152 496h2v1h-2zM104 497h2v1h-2zM110 497h2v1h-2zM131 497h2v1h-2zM137 497h2v3h-2zM146 497h2v1h-2zM103 498h1v2h-1zM106 498h1v2h-1zM134 498h2v2h-2zM145 498h1v2h-1zM104 500h2v1h-2zM109 500h1v3h-1zM118 500h1v1h-1zM136 500h1v1h-1zM143 500h2v1h-2zM115 501h1v2h-1zM130 501h1v2h-1zM104 503h2v1h-2zM110 503h2v1h-2zM127 503h3v1h-3zM119 504h2v1h-2zM122 504h2v1h-2zM127 504h1v1h-1zM140 504h2v1h-2zM112 505h1v2h-1zM121 505h1v3h-1zM125 505h2v2h-2zM139 505h1v2h-1zM127 507h1v1h-1zM137 507h2v1h-2zM115 508h1v2h-1zM122 508h2v2h-2zM109 510h3v1h-3zM121 510h1v1h-1zM109 511h1v1h-1zM112 511h3v1h-3zM116 511h2v3h-2zM119 511h2v1h-2zM124 511h1v1h-1zM133 511h1v1h-1zM140 511h2v1h-2zM113 512h2v2h-2zM136 512h1v3h-1zM118 514h1v1h-1zM139 514h1v1h-1zM142 514h1v1h-1zM109 515h1v2h-1zM161 515h1v2h-1zM131 518h2v1h-2zM134 518h2v1h-2zM137 518h2v1h-2zM142 518h1v1h-1zM131 519h3v2h-3zM136 519h1v2h-1zM130 521h4v1h-4zM139 521h3v1h-3zM131 522h2v2h-2zM128 525h2v1h-2zM134 525h2v1h-2zM130 526h1v2h-1zM133 526h3v2h-3zM125 528h2v1h-2zM134 528h2v1h-2zM143 528h2v1h-2zM152 529h2v2h-2zM148 531h1v1h-1zM137 532h2v1h-2zM142 532h1v3h-1zM149 532h5v1h-5zM168 532h2v1h-2zM310 532h1v1h-1zM152 533h2v2h-2zM179 533h1v2h-1zM198 533h2v2h-2zM207 533h2v2h-2zM155 535h2v3h-2zM158 535h2v1h-2zM162 535h2v1h-2zM167 535h1v1h-1zM174 535h2v1h-2zM200 535h1v1h-1zM221 536h1v2h-1zM258 536h1v2h-1zM171 538h2v1h-2zM188 538h3v1h-3zM192 538h3v1h-3zM219 538h3v1h-3zM224 538h1v1h-1zM229 538h3v1h-3zM240 538h1v1h-1zM246 538h1v3h-1zM283 538h2v1h-2zM325 538h1v1h-1zM365 538h1v1h-1zM183 539h3v2h-3zM209 539h1v2h-1zM216 539h2v2h-2zM221 539h3v2h-3zM232 539h5v2h-5zM238 539h6v2h-6zM255 539h1v2h-1zM270 539h1v2h-1zM276 539h3v2h-3zM289 539h1v2h-1zM322 539h1v2h-1zM344 539h2v2h-2zM357 539h2v2h-2zM363 539h2v2h-2zM432 539h1v2h-1zM493 539h1v2h-1z"/><path fill="#006eff" d="M101 275h2v2h-2zM101 337h2v1h-2zM100 365h1v1h-1zM101 366h2v2h-2zM100 368h1v1h-1zM100 376h1v2h-1zM100 379h1v1h-1zM100 417h1v1h-1zM100 424h1v3h-1zM100 430h1v2h-1zM100 448h1v1h-1zM103 451h1v1h-1zM100 463h1v2h-1zM101 465h2v1h-2zM174 466h2v1h-2zM100 467h1v2h-1zM100 469h3v1h-3zM157 473h1v2h-1zM162 476h3v1h-3zM158 477h2v2h-2zM162 479h2v3h-2zM101 480h2v2h-2zM157 480h1v2h-1zM160 482h1v1h-1zM103 483h1v1h-1zM149 486h2v1h-2zM103 491h1v2h-1zM140 493h2v1h-2zM145 493h1v1h-1zM149 493h2v1h-2zM149 497h2v1h-2zM104 498h2v2h-2zM143 498h2v2h-2zM134 500h2v1h-2zM106 501h1v2h-1zM131 501h2v2h-2zM142 501h1v2h-1zM106 503h3v1h-3zM130 503h3v1h-3zM104 504h3v1h-3zM110 505h2v2h-2zM128 505h2v2h-2zM137 505h2v2h-2zM140 505h2v2h-2zM142 507h1v3h-1zM125 508h2v2h-2zM119 510h2v1h-2zM139 512h1v2h-1zM113 515h2v2h-2zM127 519h1v2h-1zM137 521h2v1h-2zM133 522h1v2h-1zM134 524h2v1h-2zM124 525h1v1h-1zM127 525h1v1h-1zM125 526h2v2h-2zM128 526h2v2h-2zM142 526h1v2h-1zM133 528h1v1h-1zM137 528h2v1h-2zM145 528h1v1h-1zM134 529h3v2h-3zM142 529h1v3h-1zM148 529h1v2h-1zM136 531h3v1h-3zM148 533h1v3h-1zM173 533h1v2h-1zM154 535h1v1h-1zM164 535h1v1h-1zM165 536h2v2h-2zM174 536h2v2h-2zM179 536h1v2h-1zM165 538h3v1h-3zM173 538h4v1h-4zM182 538h3v1h-3zM207 538h3v1h-3zM215 538h1v1h-1zM222 538h2v1h-2zM204 539h2v2h-2zM207 539h2v2h-2zM212 539h1v2h-1zM224 539h1v2h-1zM228 539h1v2h-1zM265 539h2v2h-2zM356 539h1v2h-1zM383 539h1v2h-1z"/><path fill="#0089ff" d="M100 390h1v2h-1zM100 441h1v1h-1zM100 444h1v1h-1zM101 456h2v2h-2zM101 459h2v1h-2zM100 460h1v2h-1zM101 463h2v2h-2zM101 472h2v1h-2zM162 477h2v2h-2zM101 479h2v1h-2zM103 480h1v2h-1zM158 480h2v2h-2zM101 482h2v1h-2zM157 482h1v1h-1zM157 484h1v2h-1zM104 487h2v2h-2zM146 496h3v1h-3zM133 501h1v3h-1zM110 504h2v1h-2zM131 504h2v1h-2zM104 505h2v2h-2zM116 508h2v2h-2zM119 508h2v2h-2zM136 508h1v2h-1zM115 510h1v5h-1zM122 510h2v1h-2zM106 511h3v1h-3zM131 511h2v1h-2zM136 511h1v1h-1zM107 512h2v3h-2zM110 512h3v2h-3zM133 512h1v3h-1zM112 514h1v3h-1zM128 515h3v2h-3zM107 517h2v2h-2zM128 519h2v2h-2zM127 521h1v1h-1zM125 522h2v3h-2zM128 522h2v3h-2zM122 524h2v1h-2zM124 526h1v2h-1zM128 528h2v1h-2zM133 529h1v3h-1zM128 532h2v1h-2zM143 533h2v2h-2zM149 533h2v2h-2zM145 535h1v1h-1zM161 535h1v1h-1zM157 536h1v2h-1zM164 538h1v1h-1zM168 538h2v1h-2zM179 538h3v1h-3zM186 538h2v1h-2zM191 538h1v1h-1zM188 539h1v2h-1zM195 539h2v2h-2zM198 539h2v2h-2zM201 539h2v2h-2zM206 539h1v2h-1zM210 539h2v2h-2zM219 539h2v2h-2zM225 539h1v2h-1zM286 539h1v2h-1z"/><path fill="#00a0ff" d="M100 438h1v1h-1zM100 453h1v2h-1zM168 472h2v1h-2zM101 484h2v2h-2zM155 484h2v2h-2zM154 486h1v1h-1zM143 494h2v2h-2zM148 494h1v2h-1zM103 500h1v1h-1zM104 501h2v2h-2zM134 501h3v2h-3zM140 503h2v1h-2zM130 504h1v1h-1zM107 507h2v1h-2zM125 507h2v1h-2zM136 507h1v1h-1zM106 510h1v1h-1zM136 510h3v1h-3zM121 511h1v1h-1zM106 512h1v2h-1zM109 512h1v3h-1zM131 514h2v1h-2zM118 515h1v2h-1zM134 515h2v2h-2zM115 517h1v1h-1zM128 517h2v1h-2zM131 517h2v1h-2zM110 518h2v1h-2zM106 519h3v2h-3zM112 519h1v2h-1zM128 521h2v1h-2zM124 524h1v1h-1zM131 524h2v1h-2zM122 528h2v3h-2zM125 529h2v2h-2zM128 531h2v1h-2zM131 531h2v1h-2zM140 531h2v1h-2zM137 533h3v2h-3zM149 535h2v1h-2zM149 536h3v2h-3zM154 536h1v2h-1zM160 538h1v1h-1zM213 539h3v2h-3z"/><path fill="#00b4ff" d="M100 451h1v1h-1zM100 458h1v1h-1zM100 466h1v1h-1zM101 473h2v3h-2zM158 483h2v1h-2zM101 486h2v1h-2zM152 489h2v1h-2zM137 500h2v1h-2zM103 501h1v2h-1zM106 505h1v2h-1zM134 508h2v3h-2zM124 510h1v1h-1zM118 512h1v2h-1zM121 512h1v2h-1zM131 512h2v2h-2zM134 512h2v3h-2zM107 515h2v2h-2zM115 515h1v2h-1zM112 517h3v1h-3zM130 517h1v1h-1zM109 518h1v1h-1zM112 518h1v1h-1zM125 519h2v2h-2zM125 525h2v1h-2zM127 526h1v2h-1zM124 529h1v2h-1zM128 529h2v2h-2zM122 531h2v1h-2zM125 531h3v1h-3zM131 532h6v1h-6zM139 532h1v1h-1zM160 536h1v2h-1zM157 538h1v1h-1zM161 538h1v1h-1zM197 538h1v1h-1zM182 539h1v2h-1zM226 539h2v2h-2z"/><path fill="#00c5ff" d="M100 459h1v1h-1zM100 479h1v1h-1zM151 490h1v1h-1zM146 491h5v2h-5zM103 494h1v2h-1zM137 496h2v1h-2zM142 496h1v1h-1zM103 497h1v1h-1zM139 498h1v2h-1zM142 500h1v1h-1zM139 503h1v1h-1zM104 514h2v1h-2zM116 514h2v3h-2zM121 514h1v1h-1zM128 514h3v1h-3zM119 515h2v2h-2zM127 517h1v1h-1zM113 518h2v1h-2zM121 524h1v1h-1zM119 525h2v1h-2zM124 528h1v1h-1zM131 529h2v2h-2zM130 531h1v1h-1zM140 532h2v3h-2zM134 533h2v2h-2zM146 533h2v2h-2zM164 536h1v2h-1zM158 538h2v1h-2zM170 538h1v1h-1zM180 539h2v2h-2zM194 539h1v2h-1zM203 539h1v2h-1z"/><path fill="#08efef" d="M100 472h1v1h-1zM100 483h1v1h-1zM101 487h2v2h-2zM152 487h2v2h-2zM101 493h2v1h-2zM101 498h2v2h-2zM103 503h1v2h-1zM134 503h2v1h-2zM104 507h2v1h-2zM125 510h2v1h-2zM104 517h2v1h-2zM110 517h2v1h-2zM118 517h1v1h-1zM115 518h1v1h-1zM127 518h1v1h-1zM107 521h2v1h-2zM122 525h2v1h-2zM119 526h2v3h-2zM134 531h2v1h-2zM122 532h2v1h-2zM139 535h1v1h-1zM142 535h3v1h-3zM158 536h2v2h-2zM152 538h2v1h-2zM155 538h2v1h-2zM161 539h1v2h-1zM164 539h1v2h-1zM179 539h1v2h-1z"/><path fill="#00e3f9" d="M101 491h2v2h-2zM148 493h1v1h-1zM101 500h2v1h-2zM130 505h1v2h-1zM136 505h1v2h-1zM103 510h1v1h-1zM122 511h2v1h-2zM119 512h2v2h-2zM106 514h1v1h-1zM110 515h2v2h-2zM127 515h1v2h-1zM109 517h1v1h-1zM106 518h1v1h-1zM109 519h3v2h-3zM124 521h1v1h-1zM121 526h1v2h-1zM133 533h1v2h-1zM136 533h1v2h-1zM134 535h2v1h-2zM154 538h1v1h-1zM165 539h2v2h-2zM176 539h3v2h-3zM186 539h2v2h-2zM191 539h3v2h-3z"/><path fill="#00d4ff" d="M100 470h1v2h-1zM100 475h1v1h-1zM155 486h2v1h-2zM101 489h2v2h-2zM140 497h2v1h-2zM133 504h1v1h-1zM130 507h1v1h-1zM104 508h2v2h-2zM124 508h1v2h-1zM127 508h1v2h-1zM130 512h1v2h-1zM106 515h1v2h-1zM125 518h2v1h-2zM128 518h2v1h-2zM124 522h1v2h-1zM122 526h2v2h-2zM124 531h1v1h-1zM140 535h2v1h-2zM146 535h2v1h-2zM145 536h4v2h-4zM152 536h2v2h-2zM161 536h1v2h-1zM162 538h2v1h-2z"/><path fill="#2affcd" d="M100 476h1v1h-1zM100 487h1v2h-1zM151 489h1v1h-1zM103 508h1v2h-1zM128 508h2v2h-2zM133 508h1v2h-1zM125 511h2v1h-2zM106 521h1v1h-1zM113 521h2v1h-2zM122 521h2v1h-2zM118 528h1v3h-1zM121 528h1v1h-1zM121 532h1v1h-1zM130 535h4v1h-4zM145 538h1v1h-1zM171 539h2v2h-2z"/><path fill="#23ffd4" d="M146 494h2v2h-2zM101 497h2v1h-2zM103 507h1v1h-1zM104 510h2v1h-2zM124 512h1v2h-1zM104 515h2v2h-2zM115 519h1v2h-1zM112 522h1v2h-1zM122 522h2v2h-2zM121 525h1v1h-1zM121 531h1v1h-1zM125 532h2v1h-2zM130 532h1v1h-1zM151 538h1v1h-1zM167 539h1v2h-1z"/><path fill="#1affdc" d="M100 473h1v2h-1zM100 477h1v2h-1zM100 484h1v2h-1zM101 494h2v2h-2zM139 500h1v1h-1zM137 504h2v1h-2zM131 505h2v2h-2zM119 514h2v1h-2zM125 517h2v1h-2zM116 518h2v1h-2zM113 519h2v2h-2zM124 519h1v2h-1zM106 522h3v2h-3zM121 529h1v2h-1z"/><path fill="#12fbe5" d="M100 480h1v2h-1zM140 501h2v2h-2zM103 505h1v2h-1zM104 511h2v1h-2zM122 512h2v2h-2zM106 517h1v1h-1zM116 517h2v1h-2zM124 518h1v1h-1zM125 521h2v1h-2zM119 529h2v2h-2zM127 532h1v1h-1zM125 533h2v2h-2zM142 536h1v2h-1zM173 539h3v2h-3z"/><path fill="#3fffb8" d="M100 489h1v1h-1zM145 494h1v2h-1zM103 512h1v2h-1zM112 521h1v1h-1zM121 522h1v2h-1zM110 524h2v1h-2zM119 524h2v1h-2zM119 531h2v1h-2zM130 533h1v2h-1zM139 536h1v2h-1zM149 538h2v1h-2zM151 539h1v2h-1zM155 539h2v2h-2zM160 539h1v2h-1z"/><path fill="#64ff93" d="M146 493h2v1h-2zM100 494h1v2h-1zM101 503h2v1h-2zM128 512h2v2h-2zM103 514h1v1h-1zM122 519h2v2h-2zM107 524h2v1h-2zM106 525h1v1h-1zM116 526h2v2h-2zM125 535h2v1h-2zM136 536h1v2h-1zM140 538h2v1h-2z"/><path fill="#31ffc5" d="M149 490h2v1h-2zM101 496h2v1h-2zM143 496h2v1h-2zM134 507h2v1h-2zM104 512h2v2h-2zM116 519h2v2h-2zM109 521h1v3h-1zM118 524h1v2h-1zM131 533h2v2h-2zM143 538h2v1h-2z"/><path fill="#4bffac" d="M100 482h1v1h-1zM145 496h1v1h-1zM134 504h2v1h-2zM104 518h2v1h-2zM106 524h1v1h-1zM116 528h2v1h-2zM124 532h1v1h-1zM140 536h2v2h-2zM170 539h1v2h-1z"/><path fill="#38ffbe" d="M100 486h1v1h-1zM101 501h2v2h-2zM121 515h1v2h-1zM110 521h2v3h-2zM116 529h2v2h-2zM127 533h1v2h-1zM136 535h3v1h-3zM143 536h2v2h-2zM154 539h1v2h-1z"/><path fill="#55ffa1" d="M100 490h1v1h-1zM142 498h1v2h-1zM137 501h2v2h-2zM121 521h1v1h-1zM116 525h2v1h-2zM118 526h1v2h-1zM128 533h2v2h-2zM127 535h1v1h-1zM157 539h1v2h-1z"/><path fill="#45ffb2" d="M100 493h1v1h-1zM101 504h2v1h-2zM127 510h1v1h-1zM104 519h2v2h-2zM115 528h1v1h-1zM146 538h3v1h-3zM158 539h2v2h-2zM162 539h2v2h-2zM168 539h2v2h-2z"/><path fill="#50ffa7" d="M143 497h2v1h-2zM131 510h2v1h-2zM103 511h1v1h-1zM130 511h1v1h-1zM122 514h2v1h-2zM104 522h2v2h-2zM113 522h2v2h-2zM109 524h1v1h-1zM119 532h2v1h-2z"/><path fill="#8bff6c" d="M100 500h1v1h-1zM136 504h1v1h-1zM134 505h2v2h-2zM116 531h2v1h-2zM115 532h1v1h-1zM133 536h1v2h-1zM137 538h2v1h-2z"/><path fill="#80ff76" d="M103 517h1v1h-1zM107 525h2v1h-2zM112 531h1v1h-1zM116 532h2v1h-2zM119 533h2v2h-2zM122 533h2v2h-2zM131 536h2v2h-2z"/><path fill="#5fff97" d="M140 498h2v2h-2zM119 517h2v1h-2zM104 521h2v1h-2zM115 521h1v1h-1zM128 535h2v1h-2zM137 536h2v2h-2z"/><path fill="#91ff66" d="M101 505h2v2h-2zM133 507h1v1h-1zM103 518h1v1h-1zM113 531h2v1h-2zM143 539h2v2h-2zM148 539h1v2h-1z"/><path fill="#97ff5f" d="M101 511h2v1h-2zM103 515h1v2h-1zM112 524h1v1h-1zM115 529h1v2h-1zM113 532h2v1h-2zM140 539h2v2h-2z"/><path fill="#69ff8e" d="M100 491h1v2h-1zM142 497h1v1h-1zM109 525h1v1h-1zM115 531h1v1h-1zM121 533h1v2h-1z"/><path fill="#84ff73" d="M100 498h1v2h-1zM136 503h1v1h-1zM127 511h1v1h-1zM145 539h1v2h-1zM149 539h2v2h-2z"/><path fill="#5bff9c" d="M139 501h1v2h-1zM115 526h1v2h-1zM118 531h1v1h-1zM142 538h1v1h-1zM152 539h2v2h-2z"/><path fill="#87ff6f" d="M137 503h2v1h-2zM101 507h2v1h-2zM125 515h2v2h-2zM113 529h2v2h-2zM118 533h1v2h-1z"/><path fill="#800000" d="M100 533h1v2h-1zM100 535h3v1h-3zM100 536h4v2h-4zM100 538h6v1h-6zM100 539h9v2h-9z"/><path fill="#6dff8a" d="M100 496h1v1h-1zM118 518h1v1h-1zM124 533h1v2h-1zM146 539h2v2h-2z"/><path fill="#abff4c" d="M100 501h1v2h-1zM125 512h2v2h-2zM122 515h2v2h-2zM128 536h2v2h-2z"/><path fill="#b2ff45" d="M130 508h1v2h-1zM103 522h1v2h-1zM104 525h2v1h-2zM133 538h3v1h-3z"/><path fill="#daff1d" d="M118 522h1v2h-1zM116 535h2v1h-2zM131 538h2v1h-2zM134 539h2v2h-2z"/><path fill="#ff8d00" d="M112 528h1v1h-1zM109 531h1v1h-1zM107 533h2v2h-2zM124 539h1v2h-1z"/><path fill="#7dff7a" d="M100 497h1v1h-1zM110 525h2v1h-2zM134 536h2v2h-2z"/><path fill="#d8ff1e" d="M100 505h1v2h-1zM103 524h1v1h-1zM116 524h2v1h-2z"/><path fill="#79ff7e" d="M133 505h1v2h-1zM119 522h2v2h-2zM130 536h1v2h-1z"/><path fill="#9dff5a" d="M131 507h2v1h-2zM103 519h1v2h-1zM122 535h2v1h-2z"/><path fill="#71ff86" d="M101 508h2v2h-2zM118 532h1v1h-1zM136 538h1v1h-1z"/><path fill="#fdee00" d="M100 510h1v1h-1zM103 526h1v2h-1zM104 529h2v2h-2z"/><path fill="#a0ff57" d="M101 510h2v1h-2zM107 526h2v3h-2zM113 528h2v1h-2z"/><path fill="#94ff62" d="M128 510h2v1h-2zM106 526h1v2h-1zM127 536h1v2h-1z"/><path fill="#c2ff35" d="M130 510h1v1h-1zM101 515h2v2h-2zM115 533h1v2h-1z"/><path fill="#ffc300" d="M100 514h1v1h-1zM121 519h1v2h-1zM116 522h2v2h-2z"/><path fill="#b0ff47" d="M124 514h1v1h-1zM103 521h1v1h-1zM116 533h2v2h-2z"/><path fill="#ffe300" d="M122 518h2v1h-2zM127 538h1v1h-1zM131 539h2v2h-2z"/><path fill="#ffca00" d="M118 519h1v2h-1zM101 522h2v2h-2zM116 536h2v2h-2z"/><path fill="#ffde00" d="M101 521h2v1h-2zM119 521h2v1h-2zM109 532h1v1h-1z"/><path fill="#ff5100" d="M100 522h1v2h-1zM106 533h1v2h-1zM113 538h2v1h-2z"/><path fill="#75ff82" d="M140 500h2v1h-2zM104 524h2v1h-2z"/><path fill="#adff4a" d="M100 503h1v1h-1zM106 528h1v1h-1z"/><path fill="#d7ff20" d="M100 504h1v1h-1zM137 539h2v2h-2z"/><path fill="#a3ff54" d="M131 508h2v2h-2zM125 536h2v2h-2z"/><path fill="#d5ff22" d="M128 511h2v1h-2zM112 532h1v1h-1z"/><path fill="#bfff37" d="M101 512h2v2h-2zM121 535h1v1h-1z"/><path fill="#c8ff2f" d="M127 512h1v2h-1zM119 535h2v1h-2z"/><path fill="#8eff69" d="M127 514h1v1h-1zM124 535h1v1h-1z"/><path fill="#f1fc06" d="M101 517h2v1h-2zM112 533h1v2h-1z"/><path fill="#ffbc00" d="M122 517h2v1h-2zM128 539h2v2h-2z"/><path fill="#b4ff42" d="M124 517h1v1h-1zM142 539h1v2h-1z"/><path fill="#fa0" d="M119 518h2v1h-2zM110 526h2v2h-2z"/><path fill="#f9f300" d="M101 519h2v2h-2zM125 538h2v1h-2z"/><path fill="#ff4b00" d="M119 519h2v2h-2zM109 536h1v2h-1z"/><path fill="#ddff19" d="M116 521h2v1h-2zM124 536h1v2h-1z"/><path fill="#e4ff13" d="M115 522h1v2h-1zM121 536h1v2h-1z"/><path fill="#ffc500" d="M101 524h2v1h-2zM103 528h1v1h-1z"/><path fill="#ffc700" d="M115 524h1v1h-1zM124 538h1v1h-1z"/><path fill="#dfff18" d="M115 525h1v1h-1zM136 539h1v2h-1z"/><path fill="#ffbd00" d="M113 526h2v2h-2zM121 538h1v1h-1z"/><path fill="#ff7100" d="M110 529h2v2h-2zM122 539h2v2h-2z"/><path fill="#c4ff33" d="M112 529h1v2h-1zM130 538h1v1h-1z"/><path fill="#cdff29" d="M113 533h2v2h-2zM139 539h1v2h-1z"/><path fill="#e1ff16" d="M100 507h1v1h-1z"/><path fill="#fcf000" d="M100 508h1v2h-1z"/><path fill="#ffd600" d="M100 511h1v1h-1z"/><path fill="#ffd000" d="M100 512h1v2h-1z"/><path fill="#bdff39" d="M101 514h2v1h-2z"/><path fill="#c6ff31" d="M125 514h2v1h-2z"/><path fill="#edff0a" d="M124 515h1v2h-1z"/><path fill="#ffac00" d="M100 515h1v3h-1z"/><path fill="#ffe700" d="M121 517h1v1h-1z"/><path fill="#ff9200" d="M100 518h1v1h-1z"/><path fill="#fbf100" d="M101 518h2v1h-2z"/><path fill="#ff5b00" d="M121 518h1v1h-1z"/><path fill="#ff6500" d="M100 519h1v2h-1z"/><path fill="#ff6400" d="M100 521h1v1h-1z"/><path fill="#ffa100" d="M118 521h1v1h-1z"/><path fill="#ff5000" d="M100 524h1v1h-1z"/><path fill="#ffeb00" d="M113 524h2v1h-2z"/><path fill="#ff2800" d="M100 525h1v1h-1z"/><path fill="#f90" d="M101 525h2v1h-2z"/><path fill="#e8ff0e" d="M103 525h1v1h-1z"/><path fill="#ffe200" d="M112 525h1v1h-1z"/><path fill="#ffb400" d="M113 525h2v1h-2z"/><path fill="#ff1900" d="M100 526h1v2h-1z"/><path fill="#ff7e00" d="M101 526h2v2h-2z"/><path fill="#b9ff3e" d="M104 526h2v2h-2z"/><path fill="#9aff5c" d="M109 526h1v2h-1z"/><path fill="#ff5f00" d="M112 526h1v2h-1z"/><path fill="#e00000" d="M100 528h1v1h-1z"/><path fill="#ff7300" d="M101 528h2v1h-2z"/><path fill="#e2ff15" d="M104 528h2v1h-2z"/><path fill="#ff9000" d="M109 528h1v1h-1z"/><path fill="#ff2700" d="M110 528h2v1h-2z"/><path fill="#c30000" d="M100 529h1v2h-1z"/><path fill="#ff5300" d="M101 529h2v2h-2z"/><path fill="#ffaf00" d="M103 529h1v2h-1z"/><path fill="#d1ff26" d="M106 529h1v2h-1z"/><path fill="#ffad00" d="M107 529h2v2h-2z"/><path fill="#ff4000" d="M109 529h1v2h-1z"/><path fill="#a00" d="M100 531h1v1h-1z"/><path fill="#ff3900" d="M101 531h2v1h-2z"/><path fill="#ff8600" d="M103 531h1v1h-1z"/><path fill="#ffb500" d="M104 531h2v1h-2z"/><path fill="#ffb300" d="M106 531h1v1h-1z"/><path fill="#ff5e00" d="M107 531h2v1h-2z"/><path fill="#d3ff24" d="M110 531h2v1h-2z"/><path fill="#870000" d="M100 532h1v1h-1z"/><path fill="#ef0600" d="M101 532h2v1h-2z"/><path fill="#ff6300" d="M103 532h3v1h-3z"/><path fill="#ff4e00" d="M106 532h1v1h-1z"/><path fill="#ff7500" d="M107 532h2v1h-2z"/><path fill="#f3fa04" d="M110 532h2v1h-2z"/><path fill="#c10000" d="M101 533h2v2h-2z"/><path fill="#f40a00" d="M103 533h1v2h-1z"/><path fill="#ff1800" d="M104 533h2v2h-2z"/><path fill="#ffc800" d="M109 533h1v2h-1z"/><path fill="#ffd200" d="M110 533h2v2h-2z"/><path fill="#a20000" d="M103 535h1v1h-1z"/><path fill="#de0000" d="M104 535h2v1h-2z"/><path fill="#ff4c00" d="M106 535h1v1h-1z"/><path fill="#f70" d="M107 535h2v1h-2z"/><path fill="#ff8900" d="M109 535h1v1h-1z"/><path fill="#ffb900" d="M110 535h2v1h-2z"/><path fill="#ffc600" d="M112 535h1v1h-1z"/><path fill="#ffd800" d="M113 535h2v1h-2z"/><path fill="#f7f600" d="M115 535h1v1h-1z"/><path fill="#b7ff40" d="M118 535h1v1h-1z"/><path fill="#b30000" d="M104 536h2v2h-2z"/><path fill="#ff1300" d="M106 536h1v2h-1z"/><path fill="#f20" d="M107 536h2v2h-2z"/><path fill="#ff7900" d="M110 536h2v2h-2z"/><path fill="#ff8300" d="M112 536h1v2h-1z"/><path fill="#ffa200" d="M113 536h2v2h-2z"/><path fill="#ffb100" d="M115 536h1v2h-1z"/><path fill="#ffcf00" d="M118 536h1v2h-1z"/><path fill="#ffe400" d="M119 536h2v2h-2z"/><path fill="#dcff1b" d="M122 536h2v2h-2z"/><path fill="#a00000" d="M106 538h1v1h-1z"/><path fill="#c80000" d="M107 538h2v1h-2z"/><path fill="#f20900" d="M109 538h1v1h-1z"/><path fill="#ff2d00" d="M110 538h2v1h-2z"/><path fill="#ff3e00" d="M112 538h1v1h-1z"/><path fill="#ff6900" d="M115 538h1v1h-1z"/><path fill="#ff6e00" d="M116 538h2v1h-2z"/><path fill="#ffa300" d="M118 538h1v1h-1z"/><path fill="#ffa600" d="M119 538h2v1h-2z"/><path fill="#ffc400" d="M122 538h2v1h-2z"/><path fill="#e7ff10" d="M128 538h2v1h-2z"/><path fill="#a5ff51" d="M139 538h1v1h-1z"/><path fill="#860000" d="M109 539h1v2h-1z"/><path fill="#a90000" d="M110 539h2v2h-2z"/><path fill="#ca0000" d="M112 539h1v2h-1z"/><path fill="#e90100" d="M113 539h2v2h-2z"/><path fill="#fc1100" d="M115 539h1v2h-1z"/><path fill="#ff2b00" d="M116 539h2v2h-2z"/><path fill="#ff3d00" d="M118 539h1v2h-1z"/><path fill="#ff5200" d="M119 539h2v2h-2z"/><path fill="#ff5c00" d="M121 539h1v2h-1z"/><path fill="#ff9400" d="M125 539h2v2h-2z"/><path fill="#fb0" d="M127 539h1v2h-1z"/><path fill="#fd0" d="M130 539h1v2h-1z"/><path fill="#ffea00" d="M133 539h1v2h-1z"/></svg>
<svg width="800" height="600" viewBox="0 0 800 600" style="position:absolute;left:0;top:0">
<defs><linearGradient id="jet" x1="0" y1="0" x2="0" y2="1"><stop offset="0.0000" stop-color="#800000"/><stop offset="0.0312" stop-color="#9f0000"/><stop offset="0.0625" stop-color="#c40000"/><stop offset="0.0938" stop-color="#e80000"/><stop offset="0.1250" stop-color="#ff1e00"/><stop offset="0.1562" stop-color="#ff3b00"/><stop offset="0.1875" stop-color="#ff5900"/><stop offset="0.2188" stop-color="#ff7700"/><stop offset="0.2500" stop-color="#ff9400"/><stop offset="0.2812" stop-color="#ffb200"/><stop offset="0.3125" stop-color="#ffd000"/><stop offset="0.3438" stop-color="#feed00"/><stop offset="0.3750" stop-color="#e4ff13"/><stop offset="0.4062" stop-color="#caff2c"/><stop offset="0.4375" stop-color="#b1ff46"/><stop offset="0.4688" stop-color="#97ff60"/><stop offset="0.5000" stop-color="#7dff7a"/><stop offset="0.5312" stop-color="#63ff94"/><stop offset="0.5625" stop-color="#49ffad"/><stop offset="0.5938" stop-color="#30ffc7"/><stop offset="0.6250" stop-color="#16ffe1"/><stop offset="0.6562" stop-color="#00e1fb"/><stop offset="0.6875" stop-color="#00c1ff"/><stop offset="0.7188" stop-color="#00a1ff"/><stop offset="0.7500" stop-color="#0081ff"/><stop offset="0.7812" stop-color="#0061ff"/><stop offset="0.8125" stop-color="#0041ff"/><stop offset="0.8438" stop-color="#0021ff"/><stop offset="0.8750" stop-color="#0001ff"/><stop offset="0.9062" stop-color="#0000ed"/><stop offset="0.9375" stop-color="#0000c8"/><stop offset="0.9688" stop-color="#0000a4"/><stop offset="1.0000" stop-color="#000080"/></linearGradient></defs>
<rect x="627.3" y="72" width="23.0" height="468" fill="url(#jet)"/>
<g fill="none" stroke="#000" stroke-width="1.0">
<path d="M100.5 540.3v-6M100.5 72.5v6M100.5 540.3h6M596.5 540.3h-6M199.5 540.3v-6M199.5 72.5v6M100.5 446.5h6M596.5 446.5h-6M298.5 540.3v-6M298.5 72.5v6M100.5 353.5h6M596.5 353.5h-6M398.5 540.3v-6M398.5 72.5v6M100.5 259.5h6M596.5 259.5h-6M497.5 540.3v-6M497.5 72.5v6M100.5 166.5h6M596.5 166.5h-6M596.5 540.3v-6M596.5 72.5v6M100.5 72.5h6M596.5 72.5h-6M650.3 540.00h-6M650.3 384.00h-6M650.3 228.00h-6M650.3 72.00h-6"/>
<rect x="100.5" y="72.5" width="496" height="468" stroke-width="1.4"/>
<rect x="627.3" y="72.5" width="23.0" height="468" stroke-width="1.4"/>
</g>
<style>.n{letter-spacing:-0.35px}</style>
<g font-family="DejaVu Sans, sans-serif" font-size="16.667px" fill="#000">
<text x="400.8" y="24.1" text-anchor="middle">1129 day SEP cross plot data derived from 14339146 accumulated seconds</text><text x="413" y="41.9" text-anchor="middle">from 2009-06-26 DOY:177</text><text x="399.3" y="59.9" text-anchor="middle">through 2012-07-28 DOY:210</text><text x="99.0" y="557.0" text-anchor="middle" class="n">0</text><text x="198.75" y="557.0" text-anchor="middle" class="n">100</text><text x="297.5" y="557.0" text-anchor="middle" class="n">200</text><text x="396.45" y="557.0" text-anchor="middle" class="n">300</text><text x="496.4" y="557.0" text-anchor="middle" class="n">400</text><text x="595.45" y="557.0" text-anchor="middle" class="n">500</text><text x="95.2" y="545.55" text-anchor="end" class="n">0</text><text x="95.1" y="452.05" text-anchor="end" class="n">100</text><text x="94.1" y="358.05" text-anchor="end" class="n">200</text><text x="95.1" y="264.65" text-anchor="end" class="n">300</text><text x="95.1" y="170.9" text-anchor="end" class="n">400</text><text x="95.35" y="77.9" text-anchor="end" class="n">500</text><text x="654.0" y="546.1" text-anchor="start" class="n">1</text><text x="654.0" y="390.05" text-anchor="start" class="n">10</text><text x="654.0" y="233.15" text-anchor="start" class="n">100</text><text x="654.1" y="77.75" text-anchor="start" class="n">1000</text><text x="348" y="576" text-anchor="middle">LET in D3&amp;4 (keV/micron)</text><text x="53.7" y="306" text-anchor="middle" transform="rotate(-90 53.7 306)">LET in D5&amp;6 (keV/micron)</text><text x="712.8" y="306" text-anchor="middle" transform="rotate(-90 712.8 306)">Counts</text>
</g>
</svg>
</body></html>
